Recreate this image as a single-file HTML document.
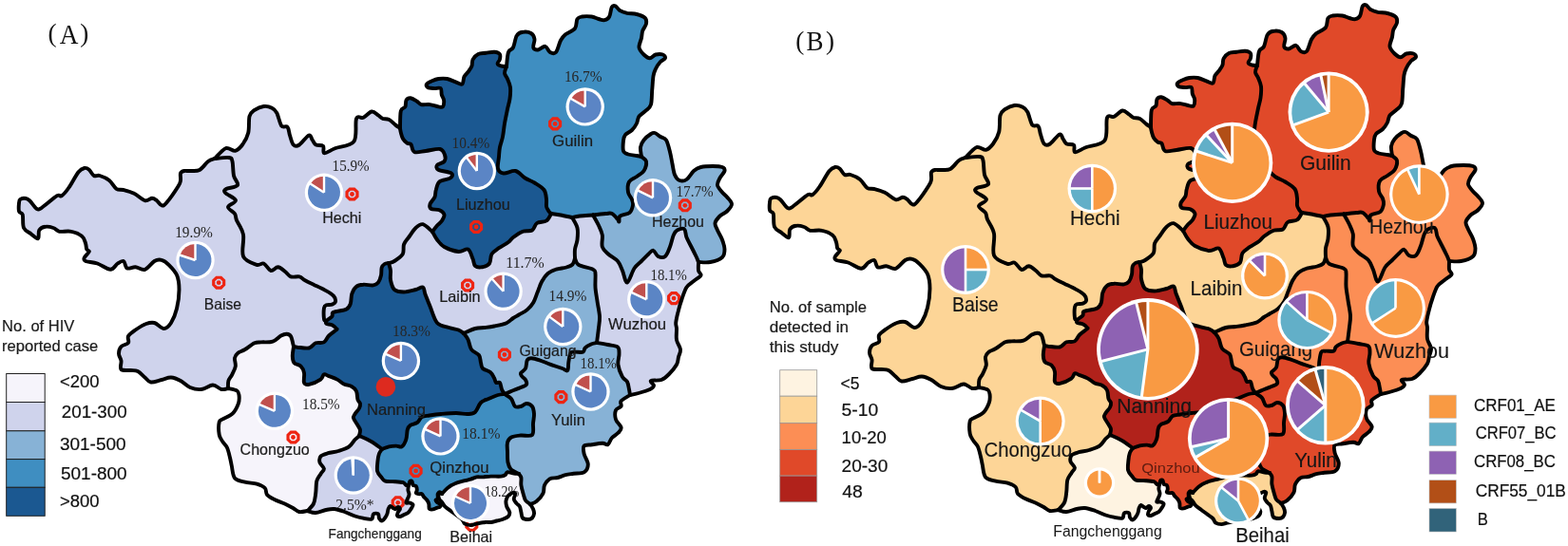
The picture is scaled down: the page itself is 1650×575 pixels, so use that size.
<!DOCTYPE html>
<html><head><meta charset="utf-8"><title>HIV maps</title>
<style>html,body{margin:0;padding:0;background:#fff;overflow:hidden;width:1650px;height:575px;}svg{display:block;}</style>
</head><body>
<svg width="1650" height="575" viewBox="0 0 1650 575">
<rect width="1650" height="575" fill="#fff"/>
<g stroke="none">
<path d="M240.0,409.0C238.8,409.2 235.7,410.6 233.0,410.0C230.3,409.4 227.5,405.5 224.0,405.5C220.5,405.5 216.0,409.6 212.0,410.0C208.0,410.4 203.7,409.5 200.0,408.0C196.3,406.5 193.3,402.8 190.0,401.0C186.7,399.2 183.3,397.7 180.0,397.5C176.7,397.3 173.5,399.2 170.0,400.0C166.5,400.8 161.7,402.9 158.8,402.5C155.8,402.1 154.8,399.4 152.5,397.5C150.2,395.6 147.5,392.2 145.0,391.0C142.5,389.8 140.4,390.3 137.5,390.0C134.6,389.7 129.2,390.7 127.5,389.0C125.8,387.3 127.9,382.8 127.5,380.0C127.1,377.2 125.0,375.0 125.0,372.5C125.0,370.0 125.8,366.9 127.5,365.0C129.2,363.1 133.8,362.8 135.0,361.0C136.2,359.2 133.8,356.2 135.0,354.0C136.2,351.8 139.4,349.7 142.5,347.5C145.6,345.3 150.4,342.2 153.8,341.0C157.1,339.8 159.4,339.2 162.5,340.0C165.6,340.8 169.6,346.0 172.5,346.0C175.4,346.0 177.8,343.5 180.0,340.0C182.2,336.5 184.6,330.8 186.0,325.0C187.4,319.2 188.5,310.8 188.5,305.0C188.5,299.2 188.1,294.4 186.2,290.0C184.4,285.6 180.2,281.5 177.5,278.8C174.8,276.0 172.5,274.4 170.0,273.8C167.5,273.1 165.4,273.3 162.5,275.0C159.6,276.7 155.8,282.7 152.5,283.8C149.2,284.8 145.6,281.5 142.5,281.2C139.4,281.0 135.8,283.5 133.8,282.5C131.7,281.5 131.7,275.8 130.0,275.0C128.3,274.2 126.0,276.0 123.8,277.5C121.5,279.0 119.8,283.8 116.2,283.8C112.7,283.8 106.9,279.0 102.5,277.5C98.1,276.0 92.3,276.0 90.0,275.0C87.7,274.0 88.1,272.9 88.8,271.2C89.4,269.6 93.3,266.5 93.8,265.0C94.2,263.5 91.9,264.0 91.2,262.5C90.6,261.0 90.8,258.5 90.0,256.2C89.2,254.0 88.8,250.8 86.2,248.8C83.8,246.7 79.0,244.6 75.0,243.8C71.0,242.9 65.6,244.4 62.5,243.8C59.4,243.1 58.8,240.8 56.2,240.0C53.8,239.2 50.0,238.3 47.5,238.8C45.0,239.2 42.5,240.4 41.2,242.5C40.0,244.6 41.5,250.6 40.0,251.2C38.5,251.9 35.0,248.1 32.5,246.2C30.0,244.4 26.5,243.3 25.0,240.0C23.5,236.7 24.6,229.2 23.8,226.2C22.9,223.3 20.6,224.6 20.0,222.5C19.4,220.4 19.8,215.8 20.0,213.8C20.2,211.7 20.2,210.8 21.2,210.0C22.3,209.2 24.6,208.5 26.2,208.8C27.9,209.0 29.2,209.4 31.2,211.2C33.3,213.1 36.7,218.8 38.8,220.0C40.8,221.2 40.2,221.0 43.8,218.8C47.3,216.5 56.5,208.3 60.0,206.2C63.5,204.2 62.9,207.7 65.0,206.2C67.1,204.8 69.6,201.7 72.5,197.5C75.4,193.3 79.8,184.7 82.5,181.2C85.2,177.8 86.9,177.4 88.8,177.0C90.6,176.6 92.1,177.4 93.8,178.8C95.4,180.1 96.9,184.0 98.8,185.0C100.6,186.0 102.3,184.2 105.0,185.0C107.7,185.8 112.1,187.7 115.0,190.0C117.9,192.3 120.0,197.1 122.5,198.8C125.0,200.4 126.9,199.2 130.0,200.0C133.1,200.8 137.5,201.9 141.2,203.8C145.0,205.6 149.4,210.4 152.5,211.2C155.6,212.1 157.9,208.8 160.0,208.8C162.1,208.8 163.3,210.0 165.0,211.2C166.7,212.5 168.3,215.8 170.0,216.2C171.7,216.7 172.1,217.1 175.0,213.8C177.9,210.4 185.0,200.2 187.5,196.2C190.0,192.3 189.6,192.3 190.0,190.0C190.4,187.7 189.4,184.2 190.0,182.5C190.6,180.8 192.1,180.4 193.8,180.0C195.4,179.6 197.3,180.2 200.0,180.0C202.7,179.8 206.8,180.7 210.0,179.0C213.2,177.3 216.3,172.0 219.0,170.0C221.7,168.0 224.8,167.5 226.0,167.0C228.5,166.8 237.9,165.5 241.0,166.0C244.1,166.5 243.7,166.8 244.5,170.0C245.3,173.2 245.1,180.8 246.0,185.0C246.9,189.2 251.3,192.7 250.0,195.0C248.7,197.3 240.2,197.7 238.0,199.0C235.8,200.3 235.3,201.0 237.0,203.0C238.7,205.0 247.5,208.5 248.0,211.0C248.5,213.5 240.2,215.7 240.0,218.0C239.8,220.3 245.5,222.7 247.0,225.0C248.5,227.3 247.5,228.3 249.0,232.0C250.5,235.7 254.8,240.7 256.0,247.0C257.2,253.3 253.7,264.7 256.0,270.0C258.3,275.3 266.4,277.5 270.0,278.8C273.6,280.0 275.0,276.5 277.5,277.5C280.0,278.5 282.5,284.4 285.0,285.0C287.5,285.6 290.0,281.1 292.5,281.2C295.0,281.4 297.8,284.3 300.0,286.0C302.2,287.7 303.5,290.5 306.0,291.4C308.5,292.3 312.5,290.8 315.0,291.4C317.5,292.0 318.5,293.8 321.0,295.2C323.5,296.6 326.5,298.0 330.0,299.7C333.5,301.4 338.5,303.6 342.0,305.6C345.5,307.6 349.2,309.6 351.0,311.6C352.8,313.6 353.3,316.1 353.0,317.6C352.7,319.1 351.0,320.0 349.4,320.6C347.8,321.2 344.8,320.7 343.4,321.3C342.0,321.9 341.4,321.9 341.0,324.3C340.6,326.8 340.7,333.7 341.0,336.0C341.3,338.3 342.7,337.7 343.0,338.0C343.1,338.5 342.3,340.1 343.4,340.8C344.5,341.5 347.6,341.4 349.4,342.3C351.1,343.2 353.1,345.1 353.9,346.0C354.6,346.9 355.2,346.1 353.9,347.4C352.6,348.6 348.3,351.3 346.1,353.5C343.9,355.7 343.2,359.1 340.9,360.4C338.6,361.7 334.8,360.3 332.2,361.3C329.6,362.3 328.4,365.8 325.2,366.5C322.0,367.2 315.7,365.9 313.0,365.7C310.3,365.4 309.7,365.1 309.0,365.0C308.5,363.2 307.3,356.5 306.1,354.3C304.9,352.1 303.4,351.8 301.7,351.7C300.0,351.6 298.1,352.2 295.7,353.5C293.2,354.8 290.5,358.5 287.0,359.6C283.5,360.8 278.0,360.1 274.8,360.4C271.6,360.7 270.7,360.0 267.8,361.3C264.9,362.6 260.3,366.6 257.4,368.3C254.5,370.0 252.1,370.2 250.4,371.7C248.7,373.1 247.4,374.7 247.0,377.0C246.6,379.3 248.2,382.8 247.8,385.7C247.4,388.6 245.5,391.8 244.3,394.3C243.1,396.9 241.1,398.6 240.4,401.0C239.7,403.4 240.1,407.7 240.0,409.0Z" fill="#cfd3ec"/>
<path d="M226.0,167.0C227.9,165.2 233.9,157.6 237.5,156.2C241.1,154.9 244.6,159.4 247.5,158.8C250.4,158.1 252.7,155.6 255.0,152.5C257.3,149.4 260.0,145.0 261.2,140.0C262.5,135.0 261.5,126.5 262.5,122.5C263.5,118.5 265.0,118.0 267.5,116.2C270.0,114.5 274.4,112.4 277.5,112.0C280.6,111.6 284.0,112.6 286.2,113.8C288.5,114.9 289.6,115.6 291.2,118.8C292.9,121.9 294.4,130.0 296.2,132.5C298.1,135.0 301.0,132.1 302.5,133.8C304.0,135.4 304.0,139.4 305.0,142.5C306.0,145.6 307.1,150.8 308.8,152.5C310.4,154.2 312.3,154.2 315.0,152.5C317.7,150.8 322.7,143.3 325.0,142.5C327.3,141.7 327.5,145.8 328.8,147.5C330.0,149.2 330.6,151.5 332.5,152.5C334.4,153.5 338.5,152.3 340.0,153.8C341.5,155.2 339.2,160.8 341.2,161.2C343.3,161.7 347.3,158.3 352.5,156.2C357.7,154.2 368.8,154.0 372.5,148.8C376.2,143.5 373.3,129.2 375.0,125.0C376.7,120.8 379.8,125.0 382.5,123.8C385.2,122.5 388.7,117.9 391.2,117.5C393.8,117.1 396.1,120.2 398.0,121.4C399.9,122.6 400.7,124.0 402.6,124.8C404.5,125.5 407.1,124.8 409.4,125.9C411.7,127.0 414.3,130.1 416.2,131.6C418.1,133.1 420.2,134.4 421.0,135.0C421.1,135.8 421.3,137.6 421.8,139.5C422.3,141.4 423.0,144.4 424.1,146.3C425.2,148.2 427.2,149.9 428.6,150.8C430.0,151.8 431.3,150.5 432.5,152.0C433.7,153.5 433.4,158.8 436.0,160.0C438.6,161.2 443.5,159.5 448.0,159.0C452.5,158.5 459.7,156.3 463.0,157.0C466.3,157.7 467.2,160.8 468.0,163.0C468.8,165.2 468.8,168.2 467.5,170.0C466.2,171.8 461.0,172.3 460.0,173.8C459.0,175.2 458.8,177.3 461.2,178.8C463.8,180.2 472.9,181.0 475.0,182.5C477.1,184.0 475.8,186.0 473.8,187.5C471.7,189.0 465.0,189.2 462.5,191.2C460.0,193.3 459.6,197.3 458.8,200.0C457.9,202.7 458.5,205.0 457.5,207.5C456.5,210.0 453.1,212.9 452.5,215.0C451.9,217.1 452.1,219.0 453.8,220.0C455.4,221.0 460.2,220.2 462.5,221.2C464.8,222.3 467.1,224.4 467.5,226.2C467.9,228.1 466.2,230.6 465.0,232.5C463.8,234.4 461.7,235.6 460.0,237.5C458.3,239.4 455.8,242.9 455.0,244.0C453.3,242.7 447.9,236.9 445.0,236.2C442.1,235.6 440.0,237.7 437.5,240.0C435.0,242.3 432.1,247.1 430.0,250.0C427.9,252.9 426.0,254.6 425.0,257.5C424.0,260.4 425.4,264.6 423.8,267.5C422.1,270.4 417.5,273.4 415.0,275.0C412.5,276.6 410.0,276.7 409.0,277.0C408.3,277.2 405.9,277.2 404.7,278.0C403.5,278.8 402.3,279.7 401.7,281.7C401.1,283.7 401.6,287.4 401.0,290.0C400.4,292.6 399.4,295.7 398.0,297.4C396.6,299.1 395.4,300.0 392.8,300.4C390.2,300.8 385.3,299.4 382.3,299.7C379.3,299.9 376.8,300.3 374.8,301.9C372.8,303.5 371.3,306.4 370.3,309.4C369.3,312.4 369.8,317.2 368.8,319.9C367.8,322.6 367.3,324.3 364.3,325.8C361.3,327.3 353.4,327.6 350.9,328.8C348.4,330.1 350.7,331.8 349.4,333.3C348.1,334.8 344.1,337.2 343.0,338.0C342.7,337.7 341.3,338.3 341.0,336.0C340.7,333.7 340.6,326.8 341.0,324.3C341.4,321.9 342.0,321.9 343.4,321.3C344.8,320.7 347.8,321.2 349.4,320.6C351.0,320.0 352.7,319.1 353.0,317.6C353.3,316.1 352.8,313.6 351.0,311.6C349.2,309.6 345.5,307.6 342.0,305.6C338.5,303.6 333.5,301.4 330.0,299.7C326.5,298.0 323.5,296.6 321.0,295.2C318.5,293.8 317.5,292.0 315.0,291.4C312.5,290.8 308.5,292.3 306.0,291.4C303.5,290.5 302.2,287.7 300.0,286.0C297.8,284.3 295.0,281.4 292.5,281.2C290.0,281.1 287.5,285.6 285.0,285.0C282.5,284.4 280.0,278.5 277.5,277.5C275.0,276.5 273.6,280.0 270.0,278.8C266.4,277.5 258.3,275.3 256.0,270.0C253.7,264.7 257.2,253.3 256.0,247.0C254.8,240.7 250.5,235.7 249.0,232.0C247.5,228.3 248.5,227.3 247.0,225.0C245.5,222.7 239.8,220.3 240.0,218.0C240.2,215.7 248.5,213.5 248.0,211.0C247.5,208.5 238.7,205.0 237.0,203.0C235.3,201.0 235.8,200.3 238.0,199.0C240.2,197.7 248.7,197.3 250.0,195.0C251.3,192.7 246.9,189.2 246.0,185.0C245.1,180.8 245.3,173.2 244.5,170.0C243.7,166.8 244.1,166.5 241.0,166.0C237.9,165.5 228.5,166.8 226.0,167.0Z" fill="#cfd3ec"/>
<path d="M421.0,135.0C421.1,132.0 420.9,120.7 421.8,116.9C422.7,113.1 425.4,114.3 426.4,112.4C427.3,110.5 426.6,107.1 427.5,105.6C428.4,104.1 430.1,103.1 432.0,103.3C433.9,103.5 436.9,105.6 438.8,106.7C440.7,107.8 441.0,109.5 443.3,110.1C445.6,110.7 449.4,109.7 452.4,110.1C455.4,110.5 459.1,112.0 461.4,112.4C463.6,112.8 464.9,113.5 465.9,112.4C466.8,111.3 467.3,107.7 467.1,105.6C466.9,103.5 465.4,102.0 464.8,99.9C464.2,97.8 465.0,94.2 463.7,93.1C462.4,92.0 459.2,93.3 456.9,93.1C454.6,92.9 451.4,92.8 450.1,92.0C448.8,91.2 448.2,89.7 449.0,88.6C449.8,87.5 452.5,86.1 454.6,85.2C456.7,84.3 458.8,83.4 461.4,83.0C464.0,82.6 467.5,82.4 470.5,83.0C473.5,83.6 476.9,85.5 479.5,86.4C482.1,87.3 484.8,89.5 486.3,88.6C487.8,87.6 487.4,83.0 488.5,80.7C489.6,78.5 491.8,77.0 493.1,75.1C494.4,73.2 495.8,71.5 496.5,69.4C497.2,67.3 496.5,64.7 497.6,62.6C498.7,60.5 500.9,58.1 503.2,57.0C505.5,55.9 508.4,56.2 511.2,55.8C514.0,55.4 517.8,54.5 520.2,54.7C522.7,54.9 525.0,55.7 525.9,57.0C526.8,58.3 526.3,60.9 525.9,62.6C525.5,64.3 523.4,66.0 523.6,67.1C523.8,68.2 525.4,68.9 527.0,69.4C528.6,69.9 532.0,69.9 533.0,70.0C532.7,71.2 530.8,74.8 531.0,77.0C531.2,79.2 533.0,80.5 534.0,83.0C535.0,85.5 536.6,88.5 537.0,92.0C537.4,95.5 537.0,100.2 536.5,104.0C536.0,107.8 534.9,110.7 534.0,115.0C533.1,119.3 531.8,125.2 531.0,130.0C530.2,134.8 529.8,139.8 529.0,144.0C528.2,148.2 526.7,151.5 526.0,155.0C525.3,158.5 525.3,161.2 525.0,165.0C524.7,168.8 523.2,174.6 524.0,177.5C524.8,180.4 526.9,182.1 530.0,182.5C533.1,182.9 538.8,179.2 542.5,180.0C546.2,180.8 549.2,185.4 552.5,187.5C555.8,189.6 559.2,190.4 562.5,192.5C565.8,194.6 570.4,197.1 572.5,200.0C574.6,202.9 574.6,207.1 575.0,210.0C575.4,212.9 574.6,215.4 575.0,217.5C575.4,219.6 576.7,221.2 577.5,222.5C578.3,223.8 579.6,224.6 580.0,225.0C579.2,226.2 577.5,230.8 575.0,232.5C572.5,234.2 567.5,233.3 565.0,235.0C562.5,236.7 562.5,241.0 560.0,242.5C557.5,244.0 553.3,242.5 550.0,243.8C546.7,245.0 542.5,248.1 540.0,250.0C537.5,251.9 537.5,253.1 535.0,255.0C532.5,256.9 527.9,259.2 525.0,261.2C522.1,263.3 519.2,264.8 517.5,267.5C515.8,270.2 516.7,275.2 515.0,277.5C513.3,279.8 510.0,280.8 507.5,281.2C505.0,281.7 501.7,281.5 500.0,280.0C498.3,278.5 498.8,275.4 497.5,272.5C496.2,269.6 495.0,263.8 492.5,262.5C490.0,261.2 486.7,265.4 482.5,265.0C478.3,264.6 471.2,262.1 467.5,260.0C463.8,257.9 462.1,255.2 460.0,252.5C457.9,249.8 455.8,245.4 455.0,244.0C455.8,242.9 458.3,239.4 460.0,237.5C461.7,235.6 463.8,234.4 465.0,232.5C466.2,230.6 467.9,228.1 467.5,226.2C467.1,224.4 464.8,222.3 462.5,221.2C460.2,220.2 455.4,221.0 453.8,220.0C452.1,219.0 451.9,217.1 452.5,215.0C453.1,212.9 456.5,210.0 457.5,207.5C458.5,205.0 457.9,202.7 458.8,200.0C459.6,197.3 460.0,193.3 462.5,191.2C465.0,189.2 471.7,189.0 473.8,187.5C475.8,186.0 477.1,184.0 475.0,182.5C472.9,181.0 463.8,180.2 461.2,178.8C458.8,177.3 459.0,175.2 460.0,173.8C461.0,172.3 466.2,171.8 467.5,170.0C468.8,168.2 468.8,165.2 468.0,163.0C467.2,160.8 466.3,157.7 463.0,157.0C459.7,156.3 452.5,158.5 448.0,159.0C443.5,159.5 438.6,161.2 436.0,160.0C433.4,158.8 433.7,153.5 432.5,152.0C431.3,150.5 430.0,151.8 428.6,150.8C427.2,149.9 425.2,148.2 424.1,146.3C423.0,144.4 422.3,141.4 421.8,139.5C421.3,137.6 421.1,135.8 421.0,135.0Z" fill="#1b5891"/>
<path d="M533.0,70.0C533.3,67.5 533.8,58.3 535.0,55.0C536.2,51.7 538.5,52.9 540.0,50.0C541.5,47.1 542.1,40.2 543.8,37.5C545.4,34.8 547.5,34.2 550.0,33.8C552.5,33.3 556.7,33.8 558.8,35.0C560.8,36.2 562.1,38.8 562.5,41.2C562.9,43.8 560.6,48.1 561.2,50.0C561.9,51.9 564.2,52.7 566.2,52.5C568.3,52.3 571.7,48.3 573.8,48.8C575.8,49.2 576.9,54.0 578.8,55.0C580.6,56.0 583.1,57.1 585.0,55.0C586.9,52.9 588.3,45.6 590.0,42.5C591.7,39.4 592.5,38.3 595.0,36.2C597.5,34.2 602.9,32.7 605.0,30.0C607.1,27.3 606.2,22.1 607.5,20.0C608.8,17.9 610.0,17.9 612.5,17.5C615.0,17.1 619.6,17.1 622.5,17.5C625.4,17.9 627.7,19.4 630.0,20.0C632.3,20.6 634.4,21.7 636.2,21.2C638.1,20.8 640.0,19.8 641.2,17.5C642.5,15.2 642.7,9.4 643.8,7.5C644.8,5.6 646.0,5.6 647.5,6.2C649.0,6.9 650.4,10.0 652.5,11.2C654.6,12.5 657.1,13.1 660.0,13.8C662.9,14.4 666.9,14.2 670.0,15.0C673.1,15.8 677.1,17.1 678.8,18.8C680.4,20.4 680.4,22.7 680.0,25.0C679.6,27.3 677.1,30.0 676.2,32.5C675.4,35.0 675.6,37.1 675.0,40.0C674.4,42.9 672.1,47.1 672.5,50.0C672.9,52.9 675.6,55.6 677.5,57.5C679.4,59.4 681.7,61.2 683.8,61.2C685.8,61.2 687.7,58.1 690.0,57.5C692.3,56.9 695.8,56.9 697.5,57.5C699.2,58.1 700.4,60.0 700.0,61.2C699.6,62.5 696.7,63.1 695.0,65.0C693.3,66.9 691.2,70.0 690.0,72.5C688.8,75.0 688.1,76.2 687.5,80.0C686.9,83.8 686.7,90.0 686.2,95.0C685.8,100.0 686.0,106.5 685.0,110.0C684.0,113.5 682.1,114.2 680.0,116.2C677.9,118.3 674.2,120.2 672.5,122.5C670.8,124.8 671.2,127.6 670.0,130.0C668.8,132.4 667.0,135.0 665.0,137.0C663.0,139.0 659.5,140.2 658.0,142.0C656.5,143.8 656.3,145.2 656.0,148.0C655.7,150.8 655.2,156.6 656.0,159.0C656.8,161.4 658.7,161.7 661.0,162.5C663.3,163.3 667.7,163.6 670.0,164.0C672.3,164.4 674.2,164.8 675.0,165.0C675.8,165.8 679.6,167.5 680.0,170.0C680.4,172.5 679.2,177.3 677.5,180.0C675.8,182.7 672.6,184.1 670.0,186.0C667.4,187.9 663.5,188.8 662.0,191.5C660.5,194.2 660.5,199.4 661.0,202.5C661.5,205.6 664.2,207.8 665.0,210.0C665.8,212.2 666.4,213.7 666.0,216.0C665.6,218.3 664.8,222.1 662.5,224.0C660.2,225.9 654.3,225.9 652.5,227.5C650.7,229.1 651.9,232.9 651.5,233.5C651.1,234.1 651.2,232.4 650.0,231.0C648.8,229.6 646.1,226.0 644.0,225.0C641.9,224.0 640.8,224.8 637.5,225.0C634.2,225.2 626.2,226.2 624.0,226.5C621.7,226.7 613.7,227.1 610.0,227.5C606.3,227.9 603.3,228.8 602.0,229.0C600.0,228.6 593.7,227.2 590.0,226.5C586.3,225.8 581.7,225.2 580.0,225.0C579.6,224.6 578.3,223.8 577.5,222.5C576.7,221.2 575.4,219.6 575.0,217.5C574.6,215.4 575.4,212.9 575.0,210.0C574.6,207.1 574.6,202.9 572.5,200.0C570.4,197.1 565.8,194.6 562.5,192.5C559.2,190.4 555.8,189.6 552.5,187.5C549.2,185.4 546.2,180.8 542.5,180.0C538.8,179.2 533.1,182.9 530.0,182.5C526.9,182.1 524.8,180.4 524.0,177.5C523.2,174.6 524.7,168.8 525.0,165.0C525.3,161.2 525.3,158.5 526.0,155.0C526.7,151.5 528.2,148.2 529.0,144.0C529.8,139.8 530.2,134.8 531.0,130.0C531.8,125.2 533.1,119.3 534.0,115.0C534.9,110.7 536.0,107.8 536.5,104.0C537.0,100.2 537.4,95.5 537.0,92.0C536.6,88.5 535.0,85.5 534.0,83.0C533.0,80.5 531.2,79.2 531.0,77.0C530.8,74.8 532.7,71.2 533.0,70.0Z" fill="#3f8ec1"/>
<path d="M675.0,165.0C674.8,163.3 673.6,157.9 674.0,155.0C674.4,152.1 675.7,149.8 677.5,147.5C679.3,145.2 683.1,142.2 685.0,141.0C686.9,139.8 687.3,139.5 689.0,140.0C690.7,140.5 693.0,142.8 695.0,144.0C697.0,145.2 699.3,144.8 701.0,147.5C702.7,150.2 703.9,155.8 705.0,160.0C706.1,164.2 706.7,168.5 707.5,172.5C708.3,176.5 708.8,181.1 710.0,184.0C711.2,186.9 712.9,189.2 715.0,190.0C717.1,190.8 720.0,190.7 722.5,189.0C725.0,187.3 727.5,182.2 730.0,180.0C732.5,177.8 734.2,176.8 737.5,176.0C740.8,175.2 746.2,175.0 750.0,175.0C753.8,175.0 757.9,175.2 760.0,176.0C762.1,176.8 762.9,178.1 762.5,180.0C762.1,181.9 758.8,185.0 757.5,187.5C756.2,190.0 754.6,192.5 755.0,195.0C755.4,197.5 758.3,200.4 760.0,202.5C761.7,204.6 763.3,205.4 765.0,207.5C766.7,209.6 770.0,212.5 770.0,215.0C770.0,217.5 767.1,220.4 765.0,222.5C762.9,224.6 759.6,225.4 757.5,227.5C755.4,229.6 752.9,232.5 752.5,235.0C752.1,237.5 753.8,239.6 755.0,242.5C756.2,245.4 758.8,249.2 760.0,252.5C761.2,255.8 762.5,259.4 762.5,262.5C762.5,265.6 762.5,268.8 760.0,271.0C757.5,273.2 751.7,275.2 747.5,276.0C743.3,276.8 737.1,276.0 735.0,276.0C734.6,275.0 733.8,272.7 732.5,270.0C731.2,267.3 729.2,263.3 727.5,260.0C725.8,256.7 723.8,253.1 722.5,250.0C721.2,246.9 721.7,242.5 720.0,241.2C718.3,240.0 714.4,241.5 712.5,242.5C710.6,243.5 710.0,244.6 708.8,247.5C707.5,250.4 706.5,256.2 705.0,260.0C703.5,263.8 702.1,268.3 700.0,270.0C697.9,271.7 694.6,271.0 692.5,270.0C690.4,269.0 689.2,264.2 687.5,263.8C685.8,263.3 684.6,265.6 682.5,267.5C680.4,269.4 677.5,272.5 675.0,275.0C672.5,277.5 670.0,278.8 667.5,282.5C665.0,286.2 662.1,297.1 660.0,297.5C657.9,297.9 656.7,288.8 655.0,285.0C653.3,281.2 652.5,277.9 650.0,275.0C647.5,272.1 642.7,270.0 640.0,267.5C637.3,265.0 634.8,263.3 633.8,260.0C632.7,256.7 634.4,251.2 633.8,247.5C633.1,243.8 631.6,241.0 630.0,237.5C628.4,234.0 625.0,228.3 624.0,226.5C626.2,226.2 634.2,225.2 637.5,225.0C640.8,224.8 641.9,224.0 644.0,225.0C646.1,226.0 648.8,229.6 650.0,231.0C651.2,232.4 651.1,234.1 651.5,233.5C651.9,232.9 650.7,229.1 652.5,227.5C654.3,225.9 660.2,225.9 662.5,224.0C664.8,222.1 665.6,218.3 666.0,216.0C666.4,213.7 665.8,212.2 665.0,210.0C664.2,207.8 661.5,205.6 661.0,202.5C660.5,199.4 660.5,194.2 662.0,191.5C663.5,188.8 667.4,187.9 670.0,186.0C672.6,184.1 675.8,182.7 677.5,180.0C679.2,177.3 680.4,172.5 680.0,170.0C679.6,167.5 675.8,165.8 675.0,165.0Z" fill="#87b2d6"/>
<path d="M735.0,276.0C735.0,277.5 734.6,282.7 735.0,285.0C735.4,287.3 738.3,288.2 737.5,290.0C736.7,291.8 732.5,293.9 730.0,296.0C727.5,298.1 724.6,299.3 722.5,302.5C720.4,305.7 719.0,310.8 717.5,315.0C716.0,319.2 714.8,323.3 713.8,327.5C712.7,331.7 711.5,336.9 711.2,340.0C711.0,343.1 711.9,343.0 712.0,346.0C712.1,349.0 711.3,354.3 712.0,358.0C712.7,361.7 715.7,365.0 716.0,368.0C716.3,371.0 714.7,373.3 714.0,376.0C713.3,378.7 713.7,381.0 712.0,384.0C710.3,387.0 706.7,391.3 704.0,394.0C701.3,396.7 699.2,398.8 696.0,400.0C692.8,401.2 686.3,400.0 685.0,401.0C683.7,402.0 688.2,404.5 688.0,406.0C687.8,407.5 686.7,408.7 684.0,410.0C681.3,411.3 675.5,413.0 672.0,414.0C668.5,415.0 664.5,415.7 663.0,416.0C662.8,415.0 662.5,412.3 662.0,410.0C661.5,407.7 661.2,404.2 660.0,402.0C658.8,399.8 656.4,399.8 654.8,396.7C653.2,393.6 650.9,387.7 650.4,383.7C649.9,379.7 651.6,375.8 651.5,372.8C651.4,369.8 652.0,367.1 650.0,365.5C648.0,363.9 643.3,363.8 639.6,363.0C635.9,362.2 629.9,361.3 628.0,361.0C628.3,358.6 629.3,351.2 629.8,346.7C630.3,342.1 631.2,338.4 631.0,333.7C630.8,329.0 629.5,323.6 628.7,318.5C628.0,313.4 626.9,308.1 626.5,303.0C626.1,297.9 626.9,291.2 626.5,288.0C626.1,284.8 626.9,285.2 624.0,283.7C621.1,282.2 612.2,280.9 609.0,279.0C605.8,277.1 605.7,273.2 605.0,272.0C605.0,270.4 604.6,265.8 605.0,262.5C605.4,259.2 607.1,256.2 607.5,252.5C607.9,248.8 608.4,243.9 607.5,240.0C606.6,236.1 602.9,230.8 602.0,229.0C603.3,228.8 606.3,227.9 610.0,227.5C613.7,227.1 621.7,226.7 624.0,226.5C625.0,228.3 628.4,234.0 630.0,237.5C631.6,241.0 633.1,243.8 633.8,247.5C634.4,251.2 632.7,256.7 633.8,260.0C634.8,263.3 637.3,265.0 640.0,267.5C642.7,270.0 647.5,272.1 650.0,275.0C652.5,277.9 653.3,281.2 655.0,285.0C656.7,288.8 657.9,297.9 660.0,297.5C662.1,297.1 665.0,286.2 667.5,282.5C670.0,278.8 672.5,277.5 675.0,275.0C677.5,272.5 680.4,269.4 682.5,267.5C684.6,265.6 685.8,263.3 687.5,263.8C689.2,264.2 690.4,269.0 692.5,270.0C694.6,271.0 697.9,271.7 700.0,270.0C702.1,268.3 703.5,263.8 705.0,260.0C706.5,256.2 707.5,250.4 708.8,247.5C710.0,244.6 710.6,243.5 712.5,242.5C714.4,241.5 718.3,240.0 720.0,241.2C721.7,242.5 721.2,246.9 722.5,250.0C723.8,253.1 725.8,256.7 727.5,260.0C729.2,263.3 731.2,267.3 732.5,270.0C733.8,272.7 734.6,275.0 735.0,276.0Z" fill="#cfd3ec"/>
<path d="M409.0,277.0C410.0,276.7 412.5,276.6 415.0,275.0C417.5,273.4 422.1,270.4 423.8,267.5C425.4,264.6 424.0,260.4 425.0,257.5C426.0,254.6 427.9,252.9 430.0,250.0C432.1,247.1 435.0,242.3 437.5,240.0C440.0,237.7 442.1,235.6 445.0,236.2C447.9,236.9 453.3,242.7 455.0,244.0C455.8,245.4 457.9,249.8 460.0,252.5C462.1,255.2 463.8,257.9 467.5,260.0C471.2,262.1 478.3,264.6 482.5,265.0C486.7,265.4 490.0,261.2 492.5,262.5C495.0,263.8 496.2,269.6 497.5,272.5C498.8,275.4 498.3,278.5 500.0,280.0C501.7,281.5 505.0,281.7 507.5,281.2C510.0,280.8 513.3,279.8 515.0,277.5C516.7,275.2 515.8,270.2 517.5,267.5C519.2,264.8 522.1,263.3 525.0,261.2C527.9,259.2 532.5,256.9 535.0,255.0C537.5,253.1 537.5,251.9 540.0,250.0C542.5,248.1 546.7,245.0 550.0,243.8C553.3,242.5 557.5,244.0 560.0,242.5C562.5,241.0 562.5,236.7 565.0,235.0C567.5,233.3 572.5,234.2 575.0,232.5C577.5,230.8 579.2,226.2 580.0,225.0C581.7,225.2 586.3,225.8 590.0,226.5C593.7,227.2 600.0,228.6 602.0,229.0C602.9,230.8 606.6,236.1 607.5,240.0C608.4,243.9 607.9,248.8 607.5,252.5C607.1,256.2 605.4,259.2 605.0,262.5C604.6,265.8 605.0,270.4 605.0,272.0C604.6,273.1 604.1,276.7 602.6,278.3C601.1,279.9 598.9,280.6 596.0,281.5C593.1,282.4 588.5,282.6 585.2,283.7C582.0,284.8 579.0,285.8 576.5,288.0C574.0,290.2 571.8,293.4 570.0,296.7C568.2,300.0 567.2,304.0 565.7,307.6C564.2,311.2 563.1,315.4 561.3,318.5C559.5,321.6 557.3,323.9 554.8,326.1C552.2,328.3 548.5,330.0 546.0,331.5C543.5,333.0 542.2,333.6 540.0,335.0C537.8,336.4 536.3,338.8 533.0,340.2C529.7,341.6 523.8,342.7 520.0,343.5C516.2,344.3 513.3,344.6 510.0,345.0C506.7,345.4 503.7,345.0 500.0,346.0C496.3,347.0 490.0,350.2 488.0,351.0C487.1,350.4 485.1,348.5 482.5,347.5C479.9,346.5 476.2,346.2 472.5,345.0C468.8,343.8 463.3,343.8 460.0,340.0C456.7,336.2 454.6,327.5 452.5,322.5C450.4,317.5 448.8,313.3 447.5,310.0C446.2,306.7 446.7,303.3 445.0,302.5C443.3,301.7 440.8,304.2 437.5,305.0C434.2,305.8 428.8,307.5 425.0,307.5C421.2,307.5 417.3,307.1 415.0,305.0C412.7,302.9 411.7,298.3 411.0,295.0C410.3,291.7 411.3,288.0 411.0,285.0C410.7,282.0 409.3,278.3 409.0,277.0Z" fill="#cfd3ec"/>
<path d="M488.0,351.0C490.0,350.2 496.3,347.0 500.0,346.0C503.7,345.0 506.7,345.4 510.0,345.0C513.3,344.6 516.2,344.3 520.0,343.5C523.8,342.7 529.7,341.6 533.0,340.2C536.3,338.8 537.8,336.4 540.0,335.0C542.2,333.6 543.5,333.0 546.0,331.5C548.5,330.0 552.2,328.3 554.8,326.1C557.3,323.9 559.5,321.6 561.3,318.5C563.1,315.4 564.2,311.2 565.7,307.6C567.2,304.0 568.2,300.0 570.0,296.7C571.8,293.4 574.0,290.2 576.5,288.0C579.0,285.8 582.0,284.8 585.2,283.7C588.5,282.6 593.1,282.4 596.0,281.5C598.9,280.6 601.1,279.9 602.6,278.3C604.1,276.7 604.6,273.1 605.0,272.0C605.7,273.2 605.8,277.1 609.0,279.0C612.2,280.9 621.1,282.2 624.0,283.7C626.9,285.2 626.1,284.8 626.5,288.0C626.9,291.2 626.1,297.9 626.5,303.0C626.9,308.1 628.0,313.4 628.7,318.5C629.5,323.6 630.8,329.0 631.0,333.7C631.2,338.4 630.3,342.1 629.8,346.7C629.3,351.2 628.3,358.6 628.0,361.0C627.0,361.2 624.0,361.6 622.0,362.5C620.0,363.4 617.1,364.9 615.7,366.3C614.3,367.7 615.3,370.0 613.5,370.7C611.7,371.4 607.0,370.5 604.8,370.7C602.6,370.9 601.5,369.9 600.4,371.7C599.3,373.5 598.8,378.4 598.3,381.5C597.8,384.6 598.3,389.1 597.2,390.2C596.1,391.3 594.8,389.1 591.7,388.0C588.6,386.9 582.7,385.1 578.7,383.7C574.7,382.2 571.1,380.4 567.8,379.3C564.5,378.2 561.3,377.2 559.1,377.2C556.9,377.2 555.8,377.5 554.8,379.3C553.8,381.1 554.1,385.7 553.0,388.0C551.9,390.3 548.7,391.7 548.0,393.0C547.3,394.3 548.2,394.8 549.0,396.0C549.8,397.2 552.2,398.5 553.0,400.0C553.8,401.5 554.8,403.7 554.0,405.0C553.2,406.3 550.7,406.8 548.0,408.0C545.3,409.2 540.8,410.8 538.0,412.0C535.2,413.2 532.2,414.5 531.0,415.0C530.5,414.2 528.8,412.0 528.0,410.0C527.2,408.0 527.0,404.2 526.0,403.0C525.0,401.8 523.0,403.8 522.0,403.0C521.0,402.2 521.0,399.8 520.0,398.0C519.0,396.2 518.0,393.7 516.0,392.0C514.0,390.3 509.7,389.7 508.0,388.0C506.3,386.3 506.7,384.3 506.0,382.0C505.3,379.7 505.7,376.3 504.0,374.0C502.3,371.7 497.9,370.8 496.0,368.0C494.1,365.2 493.8,360.3 492.5,357.5C491.2,354.7 488.8,352.1 488.0,351.0Z" fill="#87b2d6"/>
<path d="M628.0,361.0C629.9,361.3 635.9,362.2 639.6,363.0C643.3,363.8 648.0,363.9 650.0,365.5C652.0,367.1 651.4,369.8 651.5,372.8C651.6,375.8 649.9,379.7 650.4,383.7C650.9,387.7 653.2,393.6 654.8,396.7C656.4,399.8 658.8,399.8 660.0,402.0C661.2,404.2 661.5,407.7 662.0,410.0C662.5,412.3 662.8,415.0 663.0,416.0C661.4,417.1 655.2,420.3 653.6,422.3C652.0,424.3 654.5,426.2 653.6,427.8C652.7,429.4 648.9,429.7 648.0,432.0C647.1,434.3 647.1,438.7 648.0,441.7C648.9,444.7 653.1,447.8 653.6,450.1C654.1,452.4 652.4,453.8 650.8,455.6C649.2,457.5 645.7,459.1 643.8,461.2C641.9,463.3 641.2,467.3 639.6,468.2C638.0,469.1 636.9,466.8 634.1,466.8C631.3,466.8 626.2,467.7 623.0,468.2C619.8,468.7 616.0,468.0 614.6,469.6C613.2,471.2 613.9,474.7 614.6,477.9C615.3,481.1 618.8,485.8 618.8,489.0C618.8,492.2 617.1,495.8 614.6,497.4C612.1,499.0 606.8,498.3 603.5,498.8C600.2,499.3 597.9,499.5 595.1,500.2C592.3,500.9 589.6,502.3 586.8,503.0C584.0,503.7 580.7,502.9 578.4,504.3C576.1,505.7 574.0,508.8 572.9,511.3C571.8,513.9 572.9,516.8 571.5,519.6C570.1,522.4 566.8,526.1 564.5,528.0C562.2,529.9 559.1,530.5 558.0,531.0C557.2,530.3 554.2,528.8 553.0,527.0C551.8,525.2 551.4,522.7 550.6,520.0C549.8,517.3 548.8,513.8 548.4,511.0C548.0,508.2 548.8,505.0 548.4,503.0C548.0,501.0 546.4,499.7 546.0,499.0C544.6,498.2 539.4,496.0 537.5,494.0C535.6,492.0 535.1,490.0 534.5,487.0C533.9,484.0 534.1,479.5 534.0,476.0C533.9,472.5 533.3,468.6 534.0,466.0C534.7,463.4 535.7,461.8 538.0,460.5C540.3,459.2 544.3,458.9 548.0,458.5C551.7,458.1 557.8,460.1 560.0,458.0C562.2,455.9 560.7,449.7 561.0,446.0C561.3,442.3 562.2,439.0 562.0,436.0C561.8,433.0 561.3,429.8 560.0,428.0C558.7,426.2 556.0,425.0 554.0,425.0C552.0,425.0 550.0,427.5 548.0,428.0C546.0,428.5 543.7,429.3 542.0,428.0C540.3,426.7 539.8,422.2 538.0,420.0C536.2,417.8 532.2,415.8 531.0,415.0C532.2,414.5 535.2,413.2 538.0,412.0C540.8,410.8 545.3,409.2 548.0,408.0C550.7,406.8 553.2,406.3 554.0,405.0C554.8,403.7 553.8,401.5 553.0,400.0C552.2,398.5 549.8,397.2 549.0,396.0C548.2,394.8 547.3,394.3 548.0,393.0C548.7,391.7 551.9,390.3 553.0,388.0C554.1,385.7 553.8,381.1 554.8,379.3C555.8,377.5 556.9,377.2 559.1,377.2C561.3,377.2 564.5,378.2 567.8,379.3C571.1,380.4 574.7,382.2 578.7,383.7C582.7,385.1 588.6,386.9 591.7,388.0C594.8,389.1 596.1,391.3 597.2,390.2C598.3,389.1 597.8,384.6 598.3,381.5C598.8,378.4 599.3,373.5 600.4,371.7C601.5,369.9 602.6,370.9 604.8,370.7C607.0,370.5 611.7,371.4 613.5,370.7C615.3,370.0 614.3,367.7 615.7,366.3C617.1,364.9 620.0,363.4 622.0,362.5C624.0,361.6 627.0,361.2 628.0,361.0Z" fill="#87b2d6"/>
<path d="M343.0,338.0C344.1,337.2 348.1,334.8 349.4,333.3C350.7,331.8 348.4,330.1 350.9,328.8C353.4,327.6 361.3,327.3 364.3,325.8C367.3,324.3 367.8,322.6 368.8,319.9C369.8,317.2 369.3,312.4 370.3,309.4C371.3,306.4 372.8,303.5 374.8,301.9C376.8,300.3 379.3,299.9 382.3,299.7C385.3,299.4 390.2,300.8 392.8,300.4C395.4,300.0 396.6,299.1 398.0,297.4C399.4,295.7 400.4,292.6 401.0,290.0C401.6,287.4 401.1,283.7 401.7,281.7C402.3,279.7 403.5,278.8 404.7,278.0C405.9,277.2 408.3,277.2 409.0,277.0C409.3,278.3 410.7,282.0 411.0,285.0C411.3,288.0 410.3,291.7 411.0,295.0C411.7,298.3 412.7,302.9 415.0,305.0C417.3,307.1 421.2,307.5 425.0,307.5C428.8,307.5 434.2,305.8 437.5,305.0C440.8,304.2 443.3,301.7 445.0,302.5C446.7,303.3 446.2,306.7 447.5,310.0C448.8,313.3 450.4,317.5 452.5,322.5C454.6,327.5 456.7,336.2 460.0,340.0C463.3,343.8 468.8,343.8 472.5,345.0C476.2,346.2 479.9,346.5 482.5,347.5C485.1,348.5 487.1,350.4 488.0,351.0C488.8,352.1 491.2,354.7 492.5,357.5C493.8,360.3 494.1,365.2 496.0,368.0C497.9,370.8 502.3,371.7 504.0,374.0C505.7,376.3 505.3,379.7 506.0,382.0C506.7,384.3 506.3,386.3 508.0,388.0C509.7,389.7 514.0,390.3 516.0,392.0C518.0,393.7 519.0,396.2 520.0,398.0C521.0,399.8 521.0,402.2 522.0,403.0C523.0,403.8 525.0,401.8 526.0,403.0C527.0,404.2 527.2,408.0 528.0,410.0C528.8,412.0 530.5,414.2 531.0,415.0C529.8,415.2 526.8,415.2 524.0,416.0C521.2,416.8 517.0,418.7 514.0,420.0C511.0,421.3 508.3,421.7 506.0,424.0C503.7,426.3 502.3,432.0 500.0,434.0C497.7,436.0 495.3,435.8 492.0,436.0C488.7,436.2 484.7,435.0 480.0,435.0C475.3,435.0 468.7,435.6 464.0,436.0C459.3,436.4 455.3,437.0 452.0,437.5C448.7,438.0 446.1,437.8 444.0,439.0C441.9,440.2 441.3,443.4 439.3,444.9C437.3,446.4 433.6,446.6 431.8,447.9C430.1,449.1 429.6,449.9 428.8,452.4C428.1,454.9 428.3,459.8 427.3,462.8C426.3,465.8 424.5,469.2 422.8,470.3C421.1,471.4 419.1,469.6 416.9,469.6C414.7,469.6 411.9,469.7 409.4,470.3C406.9,470.9 403.2,472.6 402.0,473.0C400.7,472.1 396.9,469.0 394.4,467.3C391.9,465.6 389.7,464.4 387.0,463.0C384.3,461.6 379.5,459.7 378.0,459.0C378.2,458.0 379.2,454.8 379.0,453.0C378.8,451.2 377.7,450.1 376.5,448.0C375.3,445.9 372.5,442.4 372.0,440.4C371.5,438.4 372.5,437.7 373.5,436.0C374.5,434.3 377.1,431.8 378.0,430.0C378.9,428.2 379.2,426.5 379.0,425.0C378.8,423.5 377.2,423.2 376.5,421.0C375.8,418.8 376.1,414.3 375.0,412.0C373.9,409.7 372.2,408.2 370.0,407.0C367.8,405.8 364.5,405.7 362.0,404.5C359.5,403.3 357.4,401.0 354.8,399.6C352.2,398.2 348.4,397.0 346.1,396.1C343.8,395.2 342.3,393.7 340.9,394.3C339.4,394.9 340.0,397.9 337.4,399.6C334.8,401.4 328.1,404.2 325.2,404.8C322.3,405.4 320.9,405.0 320.0,403.0C319.1,401.0 320.6,395.5 320.0,392.6C319.4,389.7 318.2,387.4 316.5,385.7C314.8,384.0 311.1,383.9 309.6,382.2C308.2,380.4 307.9,378.1 307.8,375.2C307.7,372.3 308.8,366.7 309.0,365.0C309.7,365.1 310.3,365.4 313.0,365.7C315.7,365.9 322.0,367.2 325.2,366.5C328.4,365.8 329.6,362.3 332.2,361.3C334.8,360.3 338.6,361.7 340.9,360.4C343.2,359.1 343.9,355.7 346.1,353.5C348.3,351.3 352.6,348.6 353.9,347.4C355.2,346.1 354.6,346.9 353.9,346.0C353.1,345.1 351.1,343.2 349.4,342.3C347.6,341.4 344.5,341.5 343.4,340.8C342.3,340.1 343.1,338.5 343.0,338.0Z" fill="#1b5891"/>
<path d="M531.0,415.0C532.2,415.8 536.2,417.8 538.0,420.0C539.8,422.2 540.3,426.7 542.0,428.0C543.7,429.3 546.0,428.5 548.0,428.0C550.0,427.5 552.0,425.0 554.0,425.0C556.0,425.0 558.7,426.2 560.0,428.0C561.3,429.8 561.8,433.0 562.0,436.0C562.2,439.0 561.3,442.3 561.0,446.0C560.7,449.7 562.2,455.9 560.0,458.0C557.8,460.1 551.7,458.1 548.0,458.5C544.3,458.9 540.3,459.2 538.0,460.5C535.7,461.8 534.7,463.4 534.0,466.0C533.3,468.6 533.9,472.5 534.0,476.0C534.1,479.5 533.9,484.0 534.5,487.0C535.1,490.0 535.6,492.0 537.5,494.0C539.4,496.0 544.6,498.2 546.0,499.0C545.1,498.9 542.8,498.9 540.8,498.6C538.8,498.3 535.5,496.9 534.0,497.1C532.5,497.4 532.8,499.4 531.7,500.1C530.6,500.9 529.7,501.4 527.2,501.6C524.7,501.9 519.9,501.5 516.6,501.6C513.3,501.7 510.0,502.3 507.5,502.4C505.0,502.5 503.5,502.0 501.5,502.4C499.5,502.8 497.4,504.0 495.4,504.6C493.4,505.2 492.1,505.4 489.3,506.2C486.5,507.0 481.8,507.9 478.8,509.2C475.8,510.4 473.5,511.9 471.2,513.7C468.9,515.5 466.0,519.0 465.0,520.0C464.6,519.7 463.5,518.2 462.8,518.2C462.1,518.2 460.9,519.2 460.7,520.2C460.5,521.2 462.0,523.4 461.7,524.4C461.4,525.4 459.0,525.8 458.6,526.5C458.2,527.2 458.7,527.7 459.6,528.6C460.5,529.5 463.3,530.8 463.8,531.7C464.3,532.6 463.5,533.3 462.8,533.8C462.1,534.3 460.8,534.4 459.6,534.8C458.4,535.2 456.8,536.2 455.5,536.4C454.2,536.6 452.5,536.8 451.8,535.9C451.1,535.0 451.7,532.3 451.3,530.7C450.9,529.1 450.1,527.7 449.2,526.5C448.3,525.3 447.0,524.4 446.1,523.4C445.2,522.4 444.9,520.7 444.0,520.2C443.1,519.7 441.9,520.4 440.9,520.2C439.9,520.0 438.1,519.9 437.8,519.2C437.5,518.5 438.8,517.3 438.8,516.1C438.8,514.9 438.5,512.8 437.8,511.9C437.1,511.0 435.3,511.7 434.6,510.9C433.9,510.1 434.1,507.9 433.6,507.2C433.1,506.5 432.1,506.1 431.5,506.7C430.9,507.3 430.2,510.3 430.0,511.0C429.6,511.0 428.3,511.4 427.3,510.9C426.3,510.4 426.1,508.8 424.2,508.2C422.3,507.6 419.0,507.4 415.9,507.2C412.8,506.9 407.8,507.5 405.4,506.7C403.0,505.9 402.7,504.2 401.3,502.5C399.9,500.8 397.8,499.1 397.1,496.3C396.5,493.6 397.1,489.1 397.4,486.0C397.7,482.9 398.1,480.0 398.9,477.8C399.7,475.6 401.5,473.8 402.0,473.0C403.2,472.6 406.9,470.9 409.4,470.3C411.9,469.7 414.7,469.6 416.9,469.6C419.1,469.6 421.1,471.4 422.8,470.3C424.5,469.2 426.3,465.8 427.3,462.8C428.3,459.8 428.1,454.9 428.8,452.4C429.6,449.9 430.1,449.1 431.8,447.9C433.6,446.6 437.3,446.4 439.3,444.9C441.3,443.4 441.9,440.2 444.0,439.0C446.1,437.8 448.7,438.0 452.0,437.5C455.3,437.0 459.3,436.4 464.0,436.0C468.7,435.6 475.3,435.0 480.0,435.0C484.7,435.0 488.7,436.2 492.0,436.0C495.3,435.8 497.7,436.0 500.0,434.0C502.3,432.0 503.7,426.3 506.0,424.0C508.3,421.7 511.0,421.3 514.0,420.0C517.0,418.7 521.2,416.8 524.0,416.0C526.8,415.2 529.8,415.2 531.0,415.0Z" fill="#3f8ec1"/>
<path d="M546.0,499.0C546.4,499.7 548.0,501.0 548.4,503.0C548.8,505.0 548.0,508.2 548.4,511.0C548.8,513.8 549.8,517.3 550.6,520.0C551.4,522.7 551.8,525.2 553.0,527.0C554.2,528.8 557.2,530.3 558.0,531.0C558.5,531.8 560.3,534.3 561.0,536.0C561.7,537.7 562.2,539.4 562.0,541.0C561.8,542.6 561.0,544.5 560.0,545.5C559.0,546.5 557.7,547.0 556.0,547.0C554.3,547.0 551.3,546.8 550.0,545.5C548.7,544.2 548.9,541.5 548.4,539.5C547.9,537.5 547.7,534.9 546.9,533.4C546.1,531.9 544.8,531.7 543.8,530.4C542.8,529.1 541.0,527.6 540.8,525.8C540.5,524.0 542.5,520.9 542.3,519.8C542.0,518.7 540.6,518.6 539.3,519.0C538.0,519.4 535.8,520.7 534.7,522.1C533.6,523.5 532.8,525.4 532.5,527.3C532.2,529.2 532.6,531.4 533.2,533.4C533.8,535.4 536.0,537.7 536.3,539.5C536.5,541.3 536.0,542.8 534.7,544.0C533.4,545.2 530.7,546.2 528.7,547.0C526.7,547.8 524.6,548.0 522.6,548.5C520.6,549.0 518.6,549.8 516.6,550.0C514.6,550.2 513.0,549.7 510.5,550.0C508.0,550.3 504.0,551.1 501.5,551.6C499.0,552.1 497.4,553.1 495.4,553.1C493.4,553.1 490.8,552.6 489.3,551.6C487.8,550.6 487.8,548.5 486.3,547.0C484.8,545.5 482.3,544.0 480.3,542.5C478.3,541.0 476.2,539.5 474.2,538.0C472.2,536.5 469.7,534.9 468.2,533.4C466.7,531.9 466.1,530.2 465.1,528.9C464.1,527.6 462.9,526.8 462.1,525.8C461.4,524.8 460.6,523.9 460.6,522.8C460.6,521.7 461.3,519.5 462.0,519.0C462.7,518.5 464.5,519.8 465.0,520.0C466.0,519.0 468.9,515.5 471.2,513.7C473.5,511.9 475.8,510.4 478.8,509.2C481.8,507.9 486.5,507.0 489.3,506.2C492.1,505.4 493.4,505.2 495.4,504.6C497.4,504.0 499.5,502.8 501.5,502.4C503.5,502.0 505.0,502.5 507.5,502.4C510.0,502.3 513.3,501.7 516.6,501.6C519.9,501.5 524.7,501.9 527.2,501.6C529.7,501.4 530.6,500.9 531.7,500.1C532.8,499.4 532.5,497.4 534.0,497.1C535.5,496.9 538.8,498.3 540.8,498.6C542.8,498.9 545.1,498.9 546.0,499.0Z" fill="#f6f4fb"/>
<path d="M378.0,459.0C379.5,459.7 384.3,461.6 387.0,463.0C389.7,464.4 391.9,465.6 394.4,467.3C396.9,469.0 400.7,472.1 402.0,473.0C401.5,473.8 399.7,475.6 398.9,477.8C398.1,480.0 397.7,482.9 397.4,486.0C397.1,489.1 396.5,493.6 397.1,496.3C397.8,499.1 399.9,500.8 401.3,502.5C402.7,504.2 403.0,505.9 405.4,506.7C407.8,507.5 412.8,506.9 415.9,507.2C419.0,507.4 422.3,507.6 424.2,508.2C426.1,508.8 426.3,510.4 427.3,510.9C428.3,511.4 429.6,511.0 430.0,511.0C429.9,511.8 429.3,514.3 429.4,516.0C429.5,517.7 430.7,519.2 430.5,521.0C430.3,522.8 428.9,525.1 428.4,526.5C427.9,527.9 426.8,529.1 427.3,529.6C427.8,530.1 430.3,529.2 431.5,529.6C432.7,530.0 434.4,530.7 434.6,531.7C434.8,532.8 433.4,534.5 432.5,535.9C431.6,537.3 430.6,539.0 429.4,540.0C428.2,541.0 426.6,541.3 425.2,542.0C423.8,542.7 422.2,543.8 421.0,544.0C419.8,544.2 418.3,543.8 418.0,543.0C417.7,542.2 418.5,540.2 419.0,539.0C419.5,537.8 421.0,536.8 421.0,536.0C421.0,535.2 419.8,534.0 419.0,534.0C418.2,534.0 416.9,535.8 416.0,536.0C415.1,536.2 414.7,535.5 413.8,535.0C412.9,534.5 411.5,532.8 410.6,533.0C409.7,533.2 409.1,534.7 408.6,536.0C408.1,537.3 408.0,539.5 407.5,541.0C407.0,542.5 406.3,543.8 405.4,545.0C404.5,546.2 403.4,548.2 402.3,548.4C401.2,548.6 399.7,547.2 399.0,546.0C398.3,544.8 399.0,542.1 398.0,541.3C397.0,540.5 394.2,540.4 393.0,541.3C391.8,542.2 392.8,546.0 391.0,546.7C389.2,547.4 384.9,546.2 382.0,545.7C379.1,545.2 376.7,544.6 373.5,543.5C370.3,542.4 366.2,540.2 362.6,539.0C359.0,537.8 355.0,536.3 351.7,536.0C348.4,535.7 346.3,536.3 343.0,537.0C339.7,537.7 335.2,539.8 332.0,540.0C328.8,540.2 324.9,538.3 323.5,538.0C324.6,536.7 328.6,533.5 330.0,530.4C331.4,527.3 331.6,523.6 332.2,519.6C332.8,515.6 332.4,509.9 333.3,506.5C334.2,503.1 336.3,501.1 337.6,498.9C338.9,496.7 341.1,495.5 340.9,493.5C340.7,491.5 337.1,489.2 336.5,487.0C335.9,484.8 336.2,482.0 337.6,480.4C339.1,478.8 342.1,478.1 345.2,477.2C348.3,476.3 352.5,476.1 356.1,475.0C359.7,473.9 364.1,472.7 367.0,470.7C369.9,468.7 371.7,464.9 373.5,463.0C375.3,461.1 377.2,459.7 378.0,459.0Z" fill="#cfd3ec"/>
<path d="M240.0,409.0C240.1,407.7 239.7,403.4 240.4,401.0C241.1,398.6 243.1,396.9 244.3,394.3C245.5,391.8 247.4,388.6 247.8,385.7C248.2,382.8 246.6,379.3 247.0,377.0C247.4,374.7 248.7,373.1 250.4,371.7C252.1,370.2 254.5,370.0 257.4,368.3C260.3,366.6 264.9,362.6 267.8,361.3C270.7,360.0 271.6,360.7 274.8,360.4C278.0,360.1 283.5,360.8 287.0,359.6C290.5,358.5 293.2,354.8 295.7,353.5C298.1,352.2 300.0,351.6 301.7,351.7C303.4,351.8 304.9,352.1 306.1,354.3C307.3,356.5 308.5,363.2 309.0,365.0C308.8,366.7 307.7,372.3 307.8,375.2C307.9,378.1 308.2,380.4 309.6,382.2C311.1,383.9 314.8,384.0 316.5,385.7C318.2,387.4 319.4,389.7 320.0,392.6C320.6,395.5 319.1,401.0 320.0,403.0C320.9,405.0 322.3,405.4 325.2,404.8C328.1,404.2 334.8,401.4 337.4,399.6C340.0,397.9 339.4,394.9 340.9,394.3C342.3,393.7 343.8,395.2 346.1,396.1C348.4,397.0 352.2,398.2 354.8,399.6C357.4,401.0 359.5,403.3 362.0,404.5C364.5,405.7 367.8,405.8 370.0,407.0C372.2,408.2 373.9,409.7 375.0,412.0C376.1,414.3 375.8,418.8 376.5,421.0C377.2,423.2 378.8,423.5 379.0,425.0C379.2,426.5 378.9,428.2 378.0,430.0C377.1,431.8 374.5,434.3 373.5,436.0C372.5,437.7 371.5,438.4 372.0,440.4C372.5,442.4 375.3,445.9 376.5,448.0C377.7,450.1 378.8,451.2 379.0,453.0C379.2,454.8 378.2,458.0 378.0,459.0C377.2,459.7 375.3,461.1 373.5,463.0C371.7,464.9 369.9,468.7 367.0,470.7C364.1,472.7 359.7,473.9 356.1,475.0C352.5,476.1 348.3,476.3 345.2,477.2C342.1,478.1 339.1,478.8 337.6,480.4C336.2,482.0 335.9,484.8 336.5,487.0C337.1,489.2 340.7,491.5 340.9,493.5C341.1,495.5 338.9,496.7 337.6,498.9C336.3,501.1 334.2,503.1 333.3,506.5C332.4,509.9 332.8,515.6 332.2,519.6C331.6,523.6 331.4,527.3 330.0,530.4C328.6,533.5 324.6,536.7 323.5,538.0C322.1,538.2 317.3,539.5 314.8,539.0C312.3,538.5 310.8,536.4 308.3,535.0C305.8,533.6 302.9,532.0 299.6,530.5C296.3,529.0 291.8,527.6 288.7,526.0C285.6,524.4 282.6,523.0 281.0,521.0C279.4,519.0 280.6,515.9 278.8,514.0C277.0,512.1 273.8,510.8 270.3,509.7C266.8,508.6 261.5,508.7 257.6,507.6C253.7,506.6 249.3,506.2 247.0,503.4C244.7,500.6 244.6,494.2 243.8,490.6C243.0,487.0 242.8,485.2 242.0,482.0C241.2,478.8 240.3,474.3 239.0,471.5C237.7,468.7 235.8,467.6 234.4,465.3C233.0,463.0 231.3,461.3 230.7,457.8C230.1,454.3 230.1,447.1 230.7,444.4C231.3,441.7 232.0,442.9 234.4,441.4C236.8,439.9 242.2,438.1 244.9,435.4C247.7,432.6 249.8,428.0 250.9,424.9C252.0,421.8 251.8,418.9 251.6,416.7C251.3,414.5 251.3,412.8 249.4,411.5C247.5,410.2 241.6,409.4 240.0,409.0Z" fill="#f6f4fb"/>
</g>
<g stroke="none">
<path d="M1030.0,408.0C1028.8,408.2 1025.7,409.6 1023.0,409.0C1020.3,408.4 1017.5,404.5 1014.0,404.5C1010.5,404.5 1006.0,408.6 1002.0,409.0C998.0,409.4 993.7,408.5 990.0,407.0C986.3,405.5 983.3,401.8 980.0,400.0C976.7,398.2 973.3,396.7 970.0,396.5C966.7,396.3 963.5,398.2 960.0,399.0C956.5,399.8 951.7,401.9 948.8,401.5C945.8,401.1 944.8,398.4 942.5,396.5C940.2,394.6 937.5,391.2 935.0,390.0C932.5,388.8 930.4,389.3 927.5,389.0C924.6,388.7 919.2,389.7 917.5,388.0C915.8,386.3 917.9,381.8 917.5,379.0C917.1,376.2 915.0,374.0 915.0,371.5C915.0,369.0 915.8,365.9 917.5,364.0C919.2,362.1 923.8,361.8 925.0,360.0C926.2,358.2 923.8,355.2 925.0,353.0C926.2,350.8 929.4,348.7 932.5,346.5C935.6,344.3 940.4,341.2 943.8,340.0C947.1,338.8 949.4,338.2 952.5,339.0C955.6,339.8 959.6,345.0 962.5,345.0C965.4,345.0 967.8,342.5 970.0,339.0C972.2,335.5 974.6,329.8 976.0,324.0C977.4,318.2 978.5,309.8 978.5,304.0C978.5,298.2 978.1,293.4 976.2,289.0C974.4,284.6 970.2,280.5 967.5,277.8C964.8,275.0 962.5,273.4 960.0,272.8C957.5,272.1 955.4,272.3 952.5,274.0C949.6,275.7 945.8,281.7 942.5,282.8C939.2,283.8 935.6,280.5 932.5,280.2C929.4,280.0 925.8,282.5 923.8,281.5C921.7,280.5 921.7,274.8 920.0,274.0C918.3,273.2 916.0,275.0 913.8,276.5C911.5,278.0 909.8,282.8 906.2,282.8C902.7,282.8 896.9,278.0 892.5,276.5C888.1,275.0 882.3,275.0 880.0,274.0C877.7,273.0 878.1,271.9 878.8,270.2C879.4,268.6 883.3,265.5 883.8,264.0C884.2,262.5 881.9,263.0 881.2,261.5C880.6,260.0 880.8,257.5 880.0,255.2C879.2,253.0 878.8,249.8 876.2,247.8C873.8,245.7 869.0,243.6 865.0,242.8C861.0,241.9 855.6,243.4 852.5,242.8C849.4,242.1 848.8,239.8 846.2,239.0C843.8,238.2 840.0,237.3 837.5,237.8C835.0,238.2 832.5,239.4 831.2,241.5C830.0,243.6 831.5,249.6 830.0,250.2C828.5,250.9 825.0,247.1 822.5,245.2C820.0,243.4 816.5,242.3 815.0,239.0C813.5,235.7 814.6,228.2 813.8,225.2C812.9,222.3 810.6,223.6 810.0,221.5C809.4,219.4 809.8,214.8 810.0,212.8C810.2,210.7 810.2,209.8 811.2,209.0C812.3,208.2 814.6,207.5 816.2,207.8C817.9,208.0 819.2,208.4 821.2,210.2C823.3,212.1 826.7,217.8 828.8,219.0C830.8,220.2 830.2,220.0 833.8,217.8C837.3,215.5 846.5,207.3 850.0,205.2C853.5,203.2 852.9,206.7 855.0,205.2C857.1,203.8 859.6,200.7 862.5,196.5C865.4,192.3 869.8,183.7 872.5,180.2C875.2,176.8 876.9,176.4 878.8,176.0C880.6,175.6 882.1,176.4 883.8,177.8C885.4,179.1 886.9,183.0 888.8,184.0C890.6,185.0 892.3,183.2 895.0,184.0C897.7,184.8 902.1,186.7 905.0,189.0C907.9,191.3 910.0,196.1 912.5,197.8C915.0,199.4 916.9,198.2 920.0,199.0C923.1,199.8 927.5,200.9 931.2,202.8C935.0,204.6 939.4,209.4 942.5,210.2C945.6,211.1 947.9,207.8 950.0,207.8C952.1,207.8 953.3,209.0 955.0,210.2C956.7,211.5 958.3,214.8 960.0,215.2C961.7,215.7 962.1,216.1 965.0,212.8C967.9,209.4 975.0,199.2 977.5,195.2C980.0,191.3 979.6,191.3 980.0,189.0C980.4,186.7 979.4,183.2 980.0,181.5C980.6,179.8 982.1,179.4 983.8,179.0C985.4,178.6 987.3,179.2 990.0,179.0C992.7,178.8 996.8,179.7 1000.0,178.0C1003.2,176.3 1006.3,171.0 1009.0,169.0C1011.7,167.0 1014.8,166.5 1016.0,166.0C1018.5,165.8 1027.9,164.5 1031.0,165.0C1034.1,165.5 1033.7,165.8 1034.5,169.0C1035.3,172.2 1035.1,179.8 1036.0,184.0C1036.9,188.2 1041.3,191.7 1040.0,194.0C1038.7,196.3 1030.2,196.7 1028.0,198.0C1025.8,199.3 1025.3,200.0 1027.0,202.0C1028.7,204.0 1037.5,207.5 1038.0,210.0C1038.5,212.5 1030.2,214.7 1030.0,217.0C1029.8,219.3 1035.5,221.7 1037.0,224.0C1038.5,226.3 1037.5,227.3 1039.0,231.0C1040.5,234.7 1044.8,239.7 1046.0,246.0C1047.2,252.3 1043.7,263.7 1046.0,269.0C1048.3,274.3 1056.4,276.5 1060.0,277.8C1063.6,279.0 1065.0,275.5 1067.5,276.5C1070.0,277.5 1072.5,283.4 1075.0,284.0C1077.5,284.6 1080.0,280.1 1082.5,280.2C1085.0,280.4 1087.8,283.3 1090.0,285.0C1092.2,286.7 1093.5,289.5 1096.0,290.4C1098.5,291.3 1102.5,289.8 1105.0,290.4C1107.5,291.0 1108.5,292.8 1111.0,294.2C1113.5,295.6 1116.5,297.0 1120.0,298.7C1123.5,300.4 1128.5,302.6 1132.0,304.6C1135.5,306.6 1139.2,308.6 1141.0,310.6C1142.8,312.6 1143.3,315.1 1143.0,316.6C1142.7,318.1 1141.0,319.0 1139.4,319.6C1137.8,320.2 1134.8,319.7 1133.4,320.3C1132.0,320.9 1131.4,320.9 1131.0,323.3C1130.6,325.8 1130.7,332.7 1131.0,335.0C1131.3,337.3 1132.7,336.7 1133.0,337.0C1133.1,337.5 1132.3,339.1 1133.4,339.8C1134.5,340.5 1137.7,340.4 1139.4,341.3C1141.2,342.2 1143.2,344.1 1143.9,345.0C1144.7,345.9 1145.2,345.1 1143.9,346.4C1142.6,347.6 1138.3,350.3 1136.1,352.5C1133.9,354.7 1133.2,358.1 1130.9,359.4C1128.6,360.7 1124.8,359.3 1122.2,360.3C1119.6,361.3 1118.4,364.8 1115.2,365.5C1112.0,366.2 1105.7,364.9 1103.0,364.7C1100.3,364.4 1099.7,364.1 1099.0,364.0C1098.5,362.2 1097.3,355.5 1096.1,353.3C1094.9,351.1 1093.4,350.8 1091.7,350.7C1090.0,350.6 1088.2,351.2 1085.7,352.5C1083.2,353.8 1080.5,357.5 1077.0,358.6C1073.5,359.8 1068.0,359.1 1064.8,359.4C1061.6,359.7 1060.7,359.0 1057.8,360.3C1054.9,361.6 1050.3,365.6 1047.4,367.3C1044.5,369.0 1042.1,369.2 1040.4,370.7C1038.7,372.1 1037.4,373.7 1037.0,376.0C1036.6,378.3 1038.2,381.8 1037.8,384.7C1037.3,387.6 1035.5,390.8 1034.3,393.3C1033.1,395.9 1031.1,397.6 1030.4,400.0C1029.7,402.4 1030.1,406.7 1030.0,408.0Z" fill="#fdd597"/>
<path d="M1016.0,166.0C1017.9,164.2 1023.9,156.6 1027.5,155.2C1031.1,153.9 1034.6,158.4 1037.5,157.8C1040.4,157.1 1042.7,154.6 1045.0,151.5C1047.3,148.4 1050.0,144.0 1051.2,139.0C1052.5,134.0 1051.5,125.5 1052.5,121.5C1053.5,117.5 1055.0,117.0 1057.5,115.2C1060.0,113.5 1064.4,111.4 1067.5,111.0C1070.6,110.6 1074.0,111.6 1076.2,112.8C1078.5,113.9 1079.6,114.6 1081.2,117.8C1082.9,120.9 1084.4,129.0 1086.2,131.5C1088.1,134.0 1091.0,131.1 1092.5,132.8C1094.0,134.4 1094.0,138.4 1095.0,141.5C1096.0,144.6 1097.1,149.8 1098.8,151.5C1100.4,153.2 1102.3,153.2 1105.0,151.5C1107.7,149.8 1112.7,142.3 1115.0,141.5C1117.3,140.7 1117.5,144.8 1118.8,146.5C1120.0,148.2 1120.6,150.5 1122.5,151.5C1124.4,152.5 1128.5,151.3 1130.0,152.8C1131.5,154.2 1129.2,159.8 1131.2,160.2C1133.3,160.7 1137.3,157.3 1142.5,155.2C1147.7,153.2 1158.8,153.0 1162.5,147.8C1166.2,142.5 1163.3,128.2 1165.0,124.0C1166.7,119.8 1169.8,124.0 1172.5,122.8C1175.2,121.5 1178.7,116.9 1181.2,116.5C1183.8,116.1 1186.1,119.2 1188.0,120.4C1189.9,121.6 1190.7,123.0 1192.6,123.8C1194.5,124.5 1197.1,123.8 1199.4,124.9C1201.7,126.0 1204.3,129.1 1206.2,130.6C1208.1,132.1 1210.2,133.4 1211.0,134.0C1211.1,134.8 1211.3,136.6 1211.8,138.5C1212.3,140.4 1213.0,143.4 1214.1,145.3C1215.2,147.2 1217.2,148.9 1218.6,149.8C1220.0,150.8 1221.3,149.5 1222.5,151.0C1223.7,152.5 1223.4,157.8 1226.0,159.0C1228.6,160.2 1233.5,158.5 1238.0,158.0C1242.5,157.5 1249.7,155.3 1253.0,156.0C1256.3,156.7 1257.2,159.8 1258.0,162.0C1258.8,164.2 1258.8,167.2 1257.5,169.0C1256.2,170.8 1251.0,171.3 1250.0,172.8C1249.0,174.2 1248.8,176.3 1251.2,177.8C1253.8,179.2 1262.9,180.0 1265.0,181.5C1267.1,183.0 1265.8,185.0 1263.8,186.5C1261.7,188.0 1255.0,188.2 1252.5,190.2C1250.0,192.3 1249.6,196.3 1248.8,199.0C1247.9,201.7 1248.5,204.0 1247.5,206.5C1246.5,209.0 1243.1,211.9 1242.5,214.0C1241.9,216.1 1242.1,218.0 1243.8,219.0C1245.4,220.0 1250.2,219.2 1252.5,220.2C1254.8,221.3 1257.1,223.4 1257.5,225.2C1257.9,227.1 1256.2,229.6 1255.0,231.5C1253.8,233.4 1251.7,234.6 1250.0,236.5C1248.3,238.4 1245.8,241.9 1245.0,243.0C1243.3,241.7 1237.9,235.9 1235.0,235.2C1232.1,234.6 1230.0,236.7 1227.5,239.0C1225.0,241.3 1222.1,246.1 1220.0,249.0C1217.9,251.9 1216.0,253.6 1215.0,256.5C1214.0,259.4 1215.4,263.6 1213.8,266.5C1212.1,269.4 1207.5,272.4 1205.0,274.0C1202.5,275.6 1200.0,275.7 1199.0,276.0C1198.3,276.2 1195.9,276.2 1194.7,277.0C1193.5,277.8 1192.3,278.7 1191.7,280.7C1191.1,282.7 1191.6,286.4 1191.0,289.0C1190.4,291.6 1189.4,294.7 1188.0,296.4C1186.6,298.1 1185.4,299.0 1182.8,299.4C1180.2,299.8 1175.3,298.4 1172.3,298.7C1169.3,298.9 1166.8,299.3 1164.8,300.9C1162.8,302.5 1161.3,305.4 1160.3,308.4C1159.3,311.4 1159.8,316.2 1158.8,318.9C1157.8,321.6 1157.3,323.3 1154.3,324.8C1151.3,326.3 1143.4,326.6 1140.9,327.8C1138.4,329.1 1140.7,330.8 1139.4,332.3C1138.1,333.8 1134.1,336.2 1133.0,337.0C1132.7,336.7 1131.3,337.3 1131.0,335.0C1130.7,332.7 1130.6,325.8 1131.0,323.3C1131.4,320.9 1132.0,320.9 1133.4,320.3C1134.8,319.7 1137.8,320.2 1139.4,319.6C1141.0,319.0 1142.7,318.1 1143.0,316.6C1143.3,315.1 1142.8,312.6 1141.0,310.6C1139.2,308.6 1135.5,306.6 1132.0,304.6C1128.5,302.6 1123.5,300.4 1120.0,298.7C1116.5,297.0 1113.5,295.6 1111.0,294.2C1108.5,292.8 1107.5,291.0 1105.0,290.4C1102.5,289.8 1098.5,291.3 1096.0,290.4C1093.5,289.5 1092.2,286.7 1090.0,285.0C1087.8,283.3 1085.0,280.4 1082.5,280.2C1080.0,280.1 1077.5,284.6 1075.0,284.0C1072.5,283.4 1070.0,277.5 1067.5,276.5C1065.0,275.5 1063.6,279.0 1060.0,277.8C1056.4,276.5 1048.3,274.3 1046.0,269.0C1043.7,263.7 1047.2,252.3 1046.0,246.0C1044.8,239.7 1040.5,234.7 1039.0,231.0C1037.5,227.3 1038.5,226.3 1037.0,224.0C1035.5,221.7 1029.8,219.3 1030.0,217.0C1030.2,214.7 1038.5,212.5 1038.0,210.0C1037.5,207.5 1028.7,204.0 1027.0,202.0C1025.3,200.0 1025.8,199.3 1028.0,198.0C1030.2,196.7 1038.7,196.3 1040.0,194.0C1041.3,191.7 1036.9,188.2 1036.0,184.0C1035.1,179.8 1035.3,172.2 1034.5,169.0C1033.7,165.8 1034.1,165.5 1031.0,165.0C1027.9,164.5 1018.5,165.8 1016.0,166.0Z" fill="#fdd597"/>
<path d="M1211.0,134.0C1211.1,131.0 1210.9,119.7 1211.8,115.9C1212.7,112.1 1215.5,113.3 1216.4,111.4C1217.3,109.5 1216.6,106.1 1217.5,104.6C1218.4,103.1 1220.1,102.1 1222.0,102.3C1223.9,102.5 1226.9,104.6 1228.8,105.7C1230.7,106.8 1231.0,108.5 1233.3,109.1C1235.6,109.7 1239.4,108.7 1242.4,109.1C1245.4,109.5 1249.2,111.0 1251.4,111.4C1253.7,111.8 1255.0,112.5 1255.9,111.4C1256.8,110.3 1257.3,106.7 1257.1,104.6C1256.9,102.5 1255.4,101.0 1254.8,98.9C1254.2,96.8 1255.0,93.2 1253.7,92.1C1252.4,91.0 1249.2,92.3 1246.9,92.1C1244.6,91.9 1241.4,91.8 1240.1,91.0C1238.8,90.2 1238.2,88.7 1239.0,87.6C1239.8,86.5 1242.5,85.1 1244.6,84.2C1246.7,83.3 1248.8,82.4 1251.4,82.0C1254.0,81.6 1257.5,81.4 1260.5,82.0C1263.5,82.6 1266.9,84.5 1269.5,85.4C1272.1,86.3 1274.8,88.5 1276.3,87.6C1277.8,86.6 1277.4,82.0 1278.5,79.7C1279.6,77.5 1281.8,76.0 1283.1,74.1C1284.4,72.2 1285.8,70.5 1286.5,68.4C1287.2,66.3 1286.5,63.7 1287.6,61.6C1288.7,59.5 1290.9,57.1 1293.2,56.0C1295.5,54.9 1298.4,55.2 1301.2,54.8C1304.0,54.4 1307.8,53.5 1310.2,53.7C1312.7,53.9 1315.0,54.7 1315.9,56.0C1316.8,57.3 1316.3,59.9 1315.9,61.6C1315.5,63.3 1313.4,65.0 1313.6,66.1C1313.8,67.2 1315.4,67.9 1317.0,68.4C1318.6,68.9 1322.0,68.9 1323.0,69.0C1322.7,70.2 1320.8,73.8 1321.0,76.0C1321.2,78.2 1323.0,79.5 1324.0,82.0C1325.0,84.5 1326.6,87.5 1327.0,91.0C1327.4,94.5 1327.0,99.2 1326.5,103.0C1326.0,106.8 1324.9,109.7 1324.0,114.0C1323.1,118.3 1321.8,124.2 1321.0,129.0C1320.2,133.8 1319.8,138.8 1319.0,143.0C1318.2,147.2 1316.7,150.5 1316.0,154.0C1315.3,157.5 1315.3,160.2 1315.0,164.0C1314.7,167.8 1313.2,173.6 1314.0,176.5C1314.8,179.4 1316.9,181.1 1320.0,181.5C1323.1,181.9 1328.8,178.2 1332.5,179.0C1336.2,179.8 1339.2,184.4 1342.5,186.5C1345.8,188.6 1349.2,189.4 1352.5,191.5C1355.8,193.6 1360.4,196.1 1362.5,199.0C1364.6,201.9 1364.6,206.1 1365.0,209.0C1365.4,211.9 1364.6,214.4 1365.0,216.5C1365.4,218.6 1366.7,220.2 1367.5,221.5C1368.3,222.8 1369.6,223.6 1370.0,224.0C1369.2,225.2 1367.5,229.8 1365.0,231.5C1362.5,233.2 1357.5,232.3 1355.0,234.0C1352.5,235.7 1352.5,240.0 1350.0,241.5C1347.5,243.0 1343.3,241.5 1340.0,242.8C1336.7,244.0 1332.5,247.1 1330.0,249.0C1327.5,250.9 1327.5,252.1 1325.0,254.0C1322.5,255.9 1317.9,258.2 1315.0,260.2C1312.1,262.3 1309.2,263.8 1307.5,266.5C1305.8,269.2 1306.7,274.2 1305.0,276.5C1303.3,278.8 1300.0,279.8 1297.5,280.2C1295.0,280.7 1291.7,280.5 1290.0,279.0C1288.3,277.5 1288.8,274.4 1287.5,271.5C1286.2,268.6 1285.0,262.8 1282.5,261.5C1280.0,260.2 1276.7,264.4 1272.5,264.0C1268.3,263.6 1261.2,261.1 1257.5,259.0C1253.8,256.9 1252.1,254.2 1250.0,251.5C1247.9,248.8 1245.8,244.4 1245.0,243.0C1245.8,241.9 1248.3,238.4 1250.0,236.5C1251.7,234.6 1253.8,233.4 1255.0,231.5C1256.2,229.6 1257.9,227.1 1257.5,225.2C1257.1,223.4 1254.8,221.3 1252.5,220.2C1250.2,219.2 1245.4,220.0 1243.8,219.0C1242.1,218.0 1241.9,216.1 1242.5,214.0C1243.1,211.9 1246.5,209.0 1247.5,206.5C1248.5,204.0 1247.9,201.7 1248.8,199.0C1249.6,196.3 1250.0,192.3 1252.5,190.2C1255.0,188.2 1261.7,188.0 1263.8,186.5C1265.8,185.0 1267.1,183.0 1265.0,181.5C1262.9,180.0 1253.8,179.2 1251.2,177.8C1248.8,176.3 1249.0,174.2 1250.0,172.8C1251.0,171.3 1256.2,170.8 1257.5,169.0C1258.8,167.2 1258.8,164.2 1258.0,162.0C1257.2,159.8 1256.3,156.7 1253.0,156.0C1249.7,155.3 1242.5,157.5 1238.0,158.0C1233.5,158.5 1228.6,160.2 1226.0,159.0C1223.4,157.8 1223.7,152.5 1222.5,151.0C1221.3,149.5 1220.0,150.8 1218.6,149.8C1217.2,148.9 1215.2,147.2 1214.1,145.3C1213.0,143.4 1212.3,140.4 1211.8,138.5C1211.3,136.6 1211.1,134.8 1211.0,134.0Z" fill="#e04929"/>
<path d="M1323.0,69.0C1323.3,66.5 1323.8,57.3 1325.0,54.0C1326.2,50.7 1328.5,51.9 1330.0,49.0C1331.5,46.1 1332.1,39.2 1333.8,36.5C1335.4,33.8 1337.5,33.2 1340.0,32.8C1342.5,32.3 1346.7,32.8 1348.8,34.0C1350.8,35.2 1352.1,37.8 1352.5,40.2C1352.9,42.8 1350.6,47.1 1351.2,49.0C1351.9,50.9 1354.2,51.7 1356.2,51.5C1358.3,51.3 1361.7,47.3 1363.8,47.8C1365.8,48.2 1366.9,53.0 1368.8,54.0C1370.6,55.0 1373.1,56.1 1375.0,54.0C1376.9,51.9 1378.3,44.6 1380.0,41.5C1381.7,38.4 1382.5,37.3 1385.0,35.2C1387.5,33.2 1392.9,31.7 1395.0,29.0C1397.1,26.3 1396.2,21.1 1397.5,19.0C1398.8,16.9 1400.0,16.9 1402.5,16.5C1405.0,16.1 1409.6,16.1 1412.5,16.5C1415.4,16.9 1417.7,18.4 1420.0,19.0C1422.3,19.6 1424.4,20.7 1426.2,20.2C1428.1,19.8 1430.0,18.8 1431.2,16.5C1432.5,14.2 1432.7,8.4 1433.8,6.5C1434.8,4.6 1436.0,4.6 1437.5,5.2C1439.0,5.9 1440.4,9.0 1442.5,10.2C1444.6,11.5 1447.1,12.1 1450.0,12.8C1452.9,13.4 1456.9,13.2 1460.0,14.0C1463.1,14.8 1467.1,16.1 1468.8,17.8C1470.4,19.4 1470.4,21.7 1470.0,24.0C1469.6,26.3 1467.1,29.0 1466.2,31.5C1465.4,34.0 1465.6,36.1 1465.0,39.0C1464.4,41.9 1462.1,46.1 1462.5,49.0C1462.9,51.9 1465.6,54.6 1467.5,56.5C1469.4,58.4 1471.7,60.2 1473.8,60.2C1475.8,60.2 1477.7,57.1 1480.0,56.5C1482.3,55.9 1485.8,55.9 1487.5,56.5C1489.2,57.1 1490.4,59.0 1490.0,60.2C1489.6,61.5 1486.7,62.1 1485.0,64.0C1483.3,65.9 1481.2,69.0 1480.0,71.5C1478.8,74.0 1478.1,75.2 1477.5,79.0C1476.9,82.8 1476.7,89.0 1476.2,94.0C1475.8,99.0 1476.0,105.5 1475.0,109.0C1474.0,112.5 1472.1,113.2 1470.0,115.2C1467.9,117.3 1464.2,119.2 1462.5,121.5C1460.8,123.8 1461.2,126.6 1460.0,129.0C1458.8,131.4 1457.0,134.0 1455.0,136.0C1453.0,138.0 1449.5,139.2 1448.0,141.0C1446.5,142.8 1446.3,144.2 1446.0,147.0C1445.7,149.8 1445.2,155.6 1446.0,158.0C1446.8,160.4 1448.7,160.7 1451.0,161.5C1453.3,162.3 1457.7,162.6 1460.0,163.0C1462.3,163.4 1464.2,163.8 1465.0,164.0C1465.8,164.8 1469.6,166.5 1470.0,169.0C1470.4,171.5 1469.2,176.3 1467.5,179.0C1465.8,181.7 1462.6,183.1 1460.0,185.0C1457.4,186.9 1453.5,187.8 1452.0,190.5C1450.5,193.2 1450.5,198.4 1451.0,201.5C1451.5,204.6 1454.2,206.8 1455.0,209.0C1455.8,211.2 1456.4,212.7 1456.0,215.0C1455.6,217.3 1454.8,221.1 1452.5,223.0C1450.2,224.9 1444.3,224.9 1442.5,226.5C1440.7,228.1 1441.9,231.9 1441.5,232.5C1441.1,233.1 1441.2,231.4 1440.0,230.0C1438.8,228.6 1436.1,225.0 1434.0,224.0C1431.9,223.0 1430.8,223.8 1427.5,224.0C1424.2,224.2 1416.2,225.2 1414.0,225.5C1411.7,225.7 1403.7,226.1 1400.0,226.5C1396.3,226.9 1393.3,227.8 1392.0,228.0C1390.0,227.6 1383.7,226.2 1380.0,225.5C1376.3,224.8 1371.7,224.2 1370.0,224.0C1369.6,223.6 1368.3,222.8 1367.5,221.5C1366.7,220.2 1365.4,218.6 1365.0,216.5C1364.6,214.4 1365.4,211.9 1365.0,209.0C1364.6,206.1 1364.6,201.9 1362.5,199.0C1360.4,196.1 1355.8,193.6 1352.5,191.5C1349.2,189.4 1345.8,188.6 1342.5,186.5C1339.2,184.4 1336.2,179.8 1332.5,179.0C1328.8,178.2 1323.1,181.9 1320.0,181.5C1316.9,181.1 1314.8,179.4 1314.0,176.5C1313.2,173.6 1314.7,167.8 1315.0,164.0C1315.3,160.2 1315.3,157.5 1316.0,154.0C1316.7,150.5 1318.2,147.2 1319.0,143.0C1319.8,138.8 1320.2,133.8 1321.0,129.0C1321.8,124.2 1323.1,118.3 1324.0,114.0C1324.9,109.7 1326.0,106.8 1326.5,103.0C1327.0,99.2 1327.4,94.5 1327.0,91.0C1326.6,87.5 1325.0,84.5 1324.0,82.0C1323.0,79.5 1321.2,78.2 1321.0,76.0C1320.8,73.8 1322.7,70.2 1323.0,69.0Z" fill="#e04929"/>
<path d="M1465.0,164.0C1464.8,162.3 1463.6,156.9 1464.0,154.0C1464.4,151.1 1465.7,148.8 1467.5,146.5C1469.3,144.2 1473.1,141.2 1475.0,140.0C1476.9,138.8 1477.3,138.5 1479.0,139.0C1480.7,139.5 1483.0,141.8 1485.0,143.0C1487.0,144.2 1489.3,143.8 1491.0,146.5C1492.7,149.2 1493.9,154.8 1495.0,159.0C1496.1,163.2 1496.7,167.5 1497.5,171.5C1498.3,175.5 1498.8,180.1 1500.0,183.0C1501.2,185.9 1502.9,188.2 1505.0,189.0C1507.1,189.8 1510.0,189.7 1512.5,188.0C1515.0,186.3 1517.5,181.2 1520.0,179.0C1522.5,176.8 1524.2,175.8 1527.5,175.0C1530.8,174.2 1536.2,174.0 1540.0,174.0C1543.8,174.0 1547.9,174.2 1550.0,175.0C1552.1,175.8 1552.9,177.1 1552.5,179.0C1552.1,180.9 1548.8,184.0 1547.5,186.5C1546.2,189.0 1544.6,191.5 1545.0,194.0C1545.4,196.5 1548.3,199.4 1550.0,201.5C1551.7,203.6 1553.3,204.4 1555.0,206.5C1556.7,208.6 1560.0,211.5 1560.0,214.0C1560.0,216.5 1557.1,219.4 1555.0,221.5C1552.9,223.6 1549.6,224.4 1547.5,226.5C1545.4,228.6 1542.9,231.5 1542.5,234.0C1542.1,236.5 1543.8,238.6 1545.0,241.5C1546.2,244.4 1548.8,248.2 1550.0,251.5C1551.2,254.8 1552.5,258.4 1552.5,261.5C1552.5,264.6 1552.5,267.8 1550.0,270.0C1547.5,272.2 1541.7,274.2 1537.5,275.0C1533.3,275.8 1527.1,275.0 1525.0,275.0C1524.6,274.0 1523.8,271.7 1522.5,269.0C1521.2,266.3 1519.2,262.3 1517.5,259.0C1515.8,255.7 1513.8,252.1 1512.5,249.0C1511.2,245.9 1511.7,241.5 1510.0,240.2C1508.3,239.0 1504.4,240.5 1502.5,241.5C1500.6,242.5 1500.0,243.6 1498.8,246.5C1497.5,249.4 1496.5,255.2 1495.0,259.0C1493.5,262.8 1492.1,267.3 1490.0,269.0C1487.9,270.7 1484.6,270.0 1482.5,269.0C1480.4,268.0 1479.2,263.2 1477.5,262.8C1475.8,262.3 1474.6,264.6 1472.5,266.5C1470.4,268.4 1467.5,271.5 1465.0,274.0C1462.5,276.5 1460.0,277.8 1457.5,281.5C1455.0,285.2 1452.1,296.1 1450.0,296.5C1447.9,296.9 1446.7,287.8 1445.0,284.0C1443.3,280.2 1442.5,276.9 1440.0,274.0C1437.5,271.1 1432.7,269.0 1430.0,266.5C1427.3,264.0 1424.8,262.3 1423.8,259.0C1422.7,255.7 1424.4,250.2 1423.8,246.5C1423.1,242.8 1421.6,240.0 1420.0,236.5C1418.4,233.0 1415.0,227.3 1414.0,225.5C1416.2,225.2 1424.2,224.2 1427.5,224.0C1430.8,223.8 1431.9,223.0 1434.0,224.0C1436.1,225.0 1438.8,228.6 1440.0,230.0C1441.2,231.4 1441.1,233.1 1441.5,232.5C1441.9,231.9 1440.7,228.1 1442.5,226.5C1444.3,224.9 1450.2,224.9 1452.5,223.0C1454.8,221.1 1455.6,217.3 1456.0,215.0C1456.4,212.7 1455.8,211.2 1455.0,209.0C1454.2,206.8 1451.5,204.6 1451.0,201.5C1450.5,198.4 1450.5,193.2 1452.0,190.5C1453.5,187.8 1457.4,186.9 1460.0,185.0C1462.6,183.1 1465.8,181.7 1467.5,179.0C1469.2,176.3 1470.4,171.5 1470.0,169.0C1469.6,166.5 1465.8,164.8 1465.0,164.0Z" fill="#fc8e55"/>
<path d="M1525.0,275.0C1525.0,276.5 1524.6,281.7 1525.0,284.0C1525.4,286.3 1528.3,287.2 1527.5,289.0C1526.7,290.8 1522.5,292.9 1520.0,295.0C1517.5,297.1 1514.6,298.3 1512.5,301.5C1510.4,304.7 1509.0,309.8 1507.5,314.0C1506.0,318.2 1504.8,322.3 1503.8,326.5C1502.7,330.7 1501.5,335.9 1501.2,339.0C1501.0,342.1 1501.9,342.0 1502.0,345.0C1502.1,348.0 1501.3,353.3 1502.0,357.0C1502.7,360.7 1505.7,364.0 1506.0,367.0C1506.3,370.0 1504.7,372.3 1504.0,375.0C1503.3,377.7 1503.7,380.0 1502.0,383.0C1500.3,386.0 1496.7,390.3 1494.0,393.0C1491.3,395.7 1489.2,397.8 1486.0,399.0C1482.8,400.2 1476.3,399.0 1475.0,400.0C1473.7,401.0 1478.2,403.5 1478.0,405.0C1477.8,406.5 1476.7,407.7 1474.0,409.0C1471.3,410.3 1465.5,412.0 1462.0,413.0C1458.5,414.0 1454.5,414.7 1453.0,415.0C1452.8,414.0 1452.5,411.3 1452.0,409.0C1451.5,406.7 1451.2,403.2 1450.0,401.0C1448.8,398.8 1446.4,398.8 1444.8,395.7C1443.2,392.6 1440.9,386.7 1440.4,382.7C1439.8,378.7 1441.6,374.8 1441.5,371.8C1441.4,368.8 1442.0,366.1 1440.0,364.5C1438.0,362.9 1433.3,362.8 1429.6,362.0C1425.9,361.2 1419.9,360.3 1418.0,360.0C1418.3,357.6 1419.3,350.2 1419.8,345.7C1420.3,341.1 1421.2,337.4 1421.0,332.7C1420.8,328.0 1419.5,322.6 1418.7,317.5C1418.0,312.4 1416.9,307.1 1416.5,302.0C1416.1,296.9 1416.9,290.2 1416.5,287.0C1416.1,283.8 1416.9,284.2 1414.0,282.7C1411.1,281.2 1402.2,279.9 1399.0,278.0C1395.8,276.1 1395.7,272.2 1395.0,271.0C1395.0,269.4 1394.6,264.8 1395.0,261.5C1395.4,258.2 1397.1,255.2 1397.5,251.5C1397.9,247.8 1398.4,242.9 1397.5,239.0C1396.6,235.1 1392.9,229.8 1392.0,228.0C1393.3,227.8 1396.3,226.9 1400.0,226.5C1403.7,226.1 1411.7,225.7 1414.0,225.5C1415.0,227.3 1418.4,233.0 1420.0,236.5C1421.6,240.0 1423.1,242.8 1423.8,246.5C1424.4,250.2 1422.7,255.7 1423.8,259.0C1424.8,262.3 1427.3,264.0 1430.0,266.5C1432.7,269.0 1437.5,271.1 1440.0,274.0C1442.5,276.9 1443.3,280.2 1445.0,284.0C1446.7,287.8 1447.9,296.9 1450.0,296.5C1452.1,296.1 1455.0,285.2 1457.5,281.5C1460.0,277.8 1462.5,276.5 1465.0,274.0C1467.5,271.5 1470.4,268.4 1472.5,266.5C1474.6,264.6 1475.8,262.3 1477.5,262.8C1479.2,263.2 1480.4,268.0 1482.5,269.0C1484.6,270.0 1487.9,270.7 1490.0,269.0C1492.1,267.3 1493.5,262.8 1495.0,259.0C1496.5,255.2 1497.5,249.4 1498.8,246.5C1500.0,243.6 1500.6,242.5 1502.5,241.5C1504.4,240.5 1508.3,239.0 1510.0,240.2C1511.7,241.5 1511.2,245.9 1512.5,249.0C1513.8,252.1 1515.8,255.7 1517.5,259.0C1519.2,262.3 1521.2,266.3 1522.5,269.0C1523.8,271.7 1524.6,274.0 1525.0,275.0Z" fill="#fc8e55"/>
<path d="M1199.0,276.0C1200.0,275.7 1202.5,275.6 1205.0,274.0C1207.5,272.4 1212.1,269.4 1213.8,266.5C1215.4,263.6 1214.0,259.4 1215.0,256.5C1216.0,253.6 1217.9,251.9 1220.0,249.0C1222.1,246.1 1225.0,241.3 1227.5,239.0C1230.0,236.7 1232.1,234.6 1235.0,235.2C1237.9,235.9 1243.3,241.7 1245.0,243.0C1245.8,244.4 1247.9,248.8 1250.0,251.5C1252.1,254.2 1253.8,256.9 1257.5,259.0C1261.2,261.1 1268.3,263.6 1272.5,264.0C1276.7,264.4 1280.0,260.2 1282.5,261.5C1285.0,262.8 1286.2,268.6 1287.5,271.5C1288.8,274.4 1288.3,277.5 1290.0,279.0C1291.7,280.5 1295.0,280.7 1297.5,280.2C1300.0,279.8 1303.3,278.8 1305.0,276.5C1306.7,274.2 1305.8,269.2 1307.5,266.5C1309.2,263.8 1312.1,262.3 1315.0,260.2C1317.9,258.2 1322.5,255.9 1325.0,254.0C1327.5,252.1 1327.5,250.9 1330.0,249.0C1332.5,247.1 1336.7,244.0 1340.0,242.8C1343.3,241.5 1347.5,243.0 1350.0,241.5C1352.5,240.0 1352.5,235.7 1355.0,234.0C1357.5,232.3 1362.5,233.2 1365.0,231.5C1367.5,229.8 1369.2,225.2 1370.0,224.0C1371.7,224.2 1376.3,224.8 1380.0,225.5C1383.7,226.2 1390.0,227.6 1392.0,228.0C1392.9,229.8 1396.6,235.1 1397.5,239.0C1398.4,242.9 1397.9,247.8 1397.5,251.5C1397.1,255.2 1395.4,258.2 1395.0,261.5C1394.6,264.8 1395.0,269.4 1395.0,271.0C1394.6,272.1 1394.1,275.7 1392.6,277.3C1391.1,278.9 1388.9,279.6 1386.0,280.5C1383.1,281.4 1378.5,281.6 1375.2,282.7C1372.0,283.8 1369.0,284.8 1366.5,287.0C1364.0,289.2 1361.8,292.4 1360.0,295.7C1358.2,299.0 1357.2,303.0 1355.7,306.6C1354.2,310.2 1353.1,314.4 1351.3,317.5C1349.5,320.6 1347.3,322.9 1344.8,325.1C1342.2,327.3 1338.5,329.0 1336.0,330.5C1333.5,332.0 1332.2,332.6 1330.0,334.0C1327.8,335.4 1326.3,337.8 1323.0,339.2C1319.7,340.6 1313.8,341.7 1310.0,342.5C1306.2,343.3 1303.3,343.6 1300.0,344.0C1296.7,344.4 1293.7,344.0 1290.0,345.0C1286.3,346.0 1280.0,349.2 1278.0,350.0C1277.1,349.4 1275.1,347.5 1272.5,346.5C1269.9,345.5 1266.2,345.2 1262.5,344.0C1258.8,342.8 1253.3,342.8 1250.0,339.0C1246.7,335.2 1244.6,326.5 1242.5,321.5C1240.4,316.5 1238.8,312.3 1237.5,309.0C1236.2,305.7 1236.7,302.3 1235.0,301.5C1233.3,300.7 1230.8,303.2 1227.5,304.0C1224.2,304.8 1218.8,306.5 1215.0,306.5C1211.2,306.5 1207.3,306.1 1205.0,304.0C1202.7,301.9 1201.7,297.3 1201.0,294.0C1200.3,290.7 1201.3,287.0 1201.0,284.0C1200.7,281.0 1199.3,277.3 1199.0,276.0Z" fill="#fdd597"/>
<path d="M1278.0,350.0C1280.0,349.2 1286.3,346.0 1290.0,345.0C1293.7,344.0 1296.7,344.4 1300.0,344.0C1303.3,343.6 1306.2,343.3 1310.0,342.5C1313.8,341.7 1319.7,340.6 1323.0,339.2C1326.3,337.8 1327.8,335.4 1330.0,334.0C1332.2,332.6 1333.5,332.0 1336.0,330.5C1338.5,329.0 1342.2,327.3 1344.8,325.1C1347.3,322.9 1349.5,320.6 1351.3,317.5C1353.1,314.4 1354.2,310.2 1355.7,306.6C1357.2,303.0 1358.2,299.0 1360.0,295.7C1361.8,292.4 1364.0,289.2 1366.5,287.0C1369.0,284.8 1372.0,283.8 1375.2,282.7C1378.5,281.6 1383.1,281.4 1386.0,280.5C1388.9,279.6 1391.1,278.9 1392.6,277.3C1394.1,275.7 1394.6,272.1 1395.0,271.0C1395.7,272.2 1395.8,276.1 1399.0,278.0C1402.2,279.9 1411.1,281.2 1414.0,282.7C1416.9,284.2 1416.1,283.8 1416.5,287.0C1416.9,290.2 1416.1,296.9 1416.5,302.0C1416.9,307.1 1418.0,312.4 1418.7,317.5C1419.5,322.6 1420.8,328.0 1421.0,332.7C1421.2,337.4 1420.3,341.1 1419.8,345.7C1419.3,350.2 1418.3,357.6 1418.0,360.0C1417.0,360.2 1414.0,360.6 1412.0,361.5C1410.0,362.4 1407.1,363.9 1405.7,365.3C1404.3,366.7 1405.3,369.0 1403.5,369.7C1401.7,370.4 1397.0,369.5 1394.8,369.7C1392.6,369.9 1391.5,368.9 1390.4,370.7C1389.3,372.5 1388.8,377.4 1388.3,380.5C1387.8,383.6 1388.3,388.1 1387.2,389.2C1386.1,390.3 1384.8,388.1 1381.7,387.0C1378.6,385.9 1372.7,384.1 1368.7,382.7C1364.7,381.2 1361.1,379.4 1357.8,378.3C1354.5,377.2 1351.3,376.2 1349.1,376.2C1346.9,376.2 1345.8,376.5 1344.8,378.3C1343.8,380.1 1344.1,384.7 1343.0,387.0C1341.9,389.3 1338.7,390.7 1338.0,392.0C1337.3,393.3 1338.2,393.8 1339.0,395.0C1339.8,396.2 1342.2,397.5 1343.0,399.0C1343.8,400.5 1344.8,402.7 1344.0,404.0C1343.2,405.3 1340.7,405.8 1338.0,407.0C1335.3,408.2 1330.8,409.8 1328.0,411.0C1325.2,412.2 1322.2,413.5 1321.0,414.0C1320.5,413.2 1318.8,411.0 1318.0,409.0C1317.2,407.0 1317.0,403.2 1316.0,402.0C1315.0,400.8 1313.0,402.8 1312.0,402.0C1311.0,401.2 1311.0,398.8 1310.0,397.0C1309.0,395.2 1308.0,392.7 1306.0,391.0C1304.0,389.3 1299.7,388.7 1298.0,387.0C1296.3,385.3 1296.7,383.3 1296.0,381.0C1295.3,378.7 1295.7,375.3 1294.0,373.0C1292.3,370.7 1287.9,369.8 1286.0,367.0C1284.1,364.2 1283.8,359.3 1282.5,356.5C1281.2,353.7 1278.8,351.1 1278.0,350.0Z" fill="#fc8e55"/>
<path d="M1418.0,360.0C1419.9,360.3 1425.9,361.2 1429.6,362.0C1433.3,362.8 1438.0,362.9 1440.0,364.5C1442.0,366.1 1441.4,368.8 1441.5,371.8C1441.6,374.8 1439.8,378.7 1440.4,382.7C1440.9,386.7 1443.2,392.6 1444.8,395.7C1446.4,398.8 1448.8,398.8 1450.0,401.0C1451.2,403.2 1451.5,406.7 1452.0,409.0C1452.5,411.3 1452.8,414.0 1453.0,415.0C1451.4,416.1 1445.2,419.3 1443.6,421.3C1442.0,423.3 1444.5,425.2 1443.6,426.8C1442.7,428.4 1438.9,428.7 1438.0,431.0C1437.1,433.3 1437.1,437.7 1438.0,440.7C1438.9,443.7 1443.1,446.8 1443.6,449.1C1444.1,451.4 1442.4,452.8 1440.8,454.6C1439.2,456.5 1435.7,458.1 1433.8,460.2C1431.9,462.3 1431.2,466.3 1429.6,467.2C1428.0,468.1 1426.9,465.8 1424.1,465.8C1421.3,465.8 1416.2,466.7 1413.0,467.2C1409.8,467.7 1406.0,467.0 1404.6,468.6C1403.2,470.2 1403.9,473.7 1404.6,476.9C1405.3,480.1 1408.8,484.8 1408.8,488.0C1408.8,491.2 1407.2,494.8 1404.6,496.4C1402.1,498.0 1396.8,497.3 1393.5,497.8C1390.2,498.3 1387.9,498.5 1385.1,499.2C1382.3,499.9 1379.6,501.3 1376.8,502.0C1374.0,502.7 1370.7,501.9 1368.4,503.3C1366.1,504.7 1364.0,507.8 1362.9,510.3C1361.8,512.9 1362.9,515.8 1361.5,518.6C1360.1,521.4 1356.8,525.1 1354.5,527.0C1352.2,528.9 1349.1,529.5 1348.0,530.0C1347.2,529.3 1344.2,527.8 1343.0,526.0C1341.8,524.2 1341.4,521.7 1340.6,519.0C1339.8,516.3 1338.8,512.8 1338.4,510.0C1338.0,507.2 1338.8,504.0 1338.4,502.0C1338.0,500.0 1336.4,498.7 1336.0,498.0C1334.6,497.2 1329.4,495.0 1327.5,493.0C1325.6,491.0 1325.1,489.0 1324.5,486.0C1323.9,483.0 1324.1,478.5 1324.0,475.0C1323.9,471.5 1323.3,467.6 1324.0,465.0C1324.7,462.4 1325.7,460.8 1328.0,459.5C1330.3,458.2 1334.3,457.9 1338.0,457.5C1341.7,457.1 1347.8,459.1 1350.0,457.0C1352.2,454.9 1350.7,448.7 1351.0,445.0C1351.3,441.3 1352.2,438.0 1352.0,435.0C1351.8,432.0 1351.3,428.8 1350.0,427.0C1348.7,425.2 1346.0,424.0 1344.0,424.0C1342.0,424.0 1340.0,426.5 1338.0,427.0C1336.0,427.5 1333.7,428.3 1332.0,427.0C1330.3,425.7 1329.8,421.2 1328.0,419.0C1326.2,416.8 1322.2,414.8 1321.0,414.0C1322.2,413.5 1325.2,412.2 1328.0,411.0C1330.8,409.8 1335.3,408.2 1338.0,407.0C1340.7,405.8 1343.2,405.3 1344.0,404.0C1344.8,402.7 1343.8,400.5 1343.0,399.0C1342.2,397.5 1339.8,396.2 1339.0,395.0C1338.2,393.8 1337.3,393.3 1338.0,392.0C1338.7,390.7 1341.9,389.3 1343.0,387.0C1344.1,384.7 1343.8,380.1 1344.8,378.3C1345.8,376.5 1346.9,376.2 1349.1,376.2C1351.3,376.2 1354.5,377.2 1357.8,378.3C1361.1,379.4 1364.7,381.2 1368.7,382.7C1372.7,384.1 1378.6,385.9 1381.7,387.0C1384.8,388.1 1386.1,390.3 1387.2,389.2C1388.3,388.1 1387.8,383.6 1388.3,380.5C1388.8,377.4 1389.3,372.5 1390.4,370.7C1391.5,368.9 1392.6,369.9 1394.8,369.7C1397.0,369.5 1401.7,370.4 1403.5,369.7C1405.3,369.0 1404.3,366.7 1405.7,365.3C1407.1,363.9 1410.0,362.4 1412.0,361.5C1414.0,360.6 1417.0,360.2 1418.0,360.0Z" fill="#e04929"/>
<path d="M1133.0,337.0C1134.1,336.2 1138.1,333.8 1139.4,332.3C1140.7,330.8 1138.4,329.1 1140.9,327.8C1143.4,326.6 1151.3,326.3 1154.3,324.8C1157.3,323.3 1157.8,321.6 1158.8,318.9C1159.8,316.2 1159.3,311.4 1160.3,308.4C1161.3,305.4 1162.8,302.5 1164.8,300.9C1166.8,299.3 1169.3,298.9 1172.3,298.7C1175.3,298.4 1180.2,299.8 1182.8,299.4C1185.4,299.0 1186.6,298.1 1188.0,296.4C1189.4,294.7 1190.4,291.6 1191.0,289.0C1191.6,286.4 1191.1,282.7 1191.7,280.7C1192.3,278.7 1193.5,277.8 1194.7,277.0C1195.9,276.2 1198.3,276.2 1199.0,276.0C1199.3,277.3 1200.7,281.0 1201.0,284.0C1201.3,287.0 1200.3,290.7 1201.0,294.0C1201.7,297.3 1202.7,301.9 1205.0,304.0C1207.3,306.1 1211.2,306.5 1215.0,306.5C1218.8,306.5 1224.2,304.8 1227.5,304.0C1230.8,303.2 1233.3,300.7 1235.0,301.5C1236.7,302.3 1236.2,305.7 1237.5,309.0C1238.8,312.3 1240.4,316.5 1242.5,321.5C1244.6,326.5 1246.7,335.2 1250.0,339.0C1253.3,342.8 1258.8,342.8 1262.5,344.0C1266.2,345.2 1269.9,345.5 1272.5,346.5C1275.1,347.5 1277.1,349.4 1278.0,350.0C1278.8,351.1 1281.2,353.7 1282.5,356.5C1283.8,359.3 1284.1,364.2 1286.0,367.0C1287.9,369.8 1292.3,370.7 1294.0,373.0C1295.7,375.3 1295.3,378.7 1296.0,381.0C1296.7,383.3 1296.3,385.3 1298.0,387.0C1299.7,388.7 1304.0,389.3 1306.0,391.0C1308.0,392.7 1309.0,395.2 1310.0,397.0C1311.0,398.8 1311.0,401.2 1312.0,402.0C1313.0,402.8 1315.0,400.8 1316.0,402.0C1317.0,403.2 1317.2,407.0 1318.0,409.0C1318.8,411.0 1320.5,413.2 1321.0,414.0C1319.8,414.2 1316.8,414.2 1314.0,415.0C1311.2,415.8 1307.0,417.7 1304.0,419.0C1301.0,420.3 1298.3,420.7 1296.0,423.0C1293.7,425.3 1292.3,431.0 1290.0,433.0C1287.7,435.0 1285.3,434.8 1282.0,435.0C1278.7,435.2 1274.7,434.0 1270.0,434.0C1265.3,434.0 1258.7,434.6 1254.0,435.0C1249.3,435.4 1245.3,436.0 1242.0,436.5C1238.7,437.0 1236.1,436.8 1234.0,438.0C1231.9,439.2 1231.3,442.4 1229.3,443.9C1227.3,445.4 1223.5,445.6 1221.8,446.9C1220.0,448.1 1219.5,448.9 1218.8,451.4C1218.0,453.9 1218.3,458.8 1217.3,461.8C1216.3,464.8 1214.5,468.2 1212.8,469.3C1211.1,470.4 1209.1,468.6 1206.9,468.6C1204.7,468.6 1201.9,468.7 1199.4,469.3C1196.9,469.9 1193.2,471.6 1192.0,472.0C1190.7,471.1 1186.9,468.0 1184.4,466.3C1181.9,464.6 1179.7,463.4 1177.0,462.0C1174.3,460.6 1169.5,458.7 1168.0,458.0C1168.2,457.0 1169.2,453.8 1169.0,452.0C1168.8,450.2 1167.7,449.1 1166.5,447.0C1165.3,444.9 1162.5,441.4 1162.0,439.4C1161.5,437.4 1162.5,436.7 1163.5,435.0C1164.5,433.3 1167.1,430.8 1168.0,429.0C1168.9,427.2 1169.2,425.5 1169.0,424.0C1168.8,422.5 1167.2,422.2 1166.5,420.0C1165.8,417.8 1166.1,413.3 1165.0,411.0C1163.9,408.7 1162.2,407.2 1160.0,406.0C1157.8,404.8 1154.5,404.7 1152.0,403.5C1149.5,402.3 1147.5,400.0 1144.8,398.6C1142.2,397.2 1138.4,396.0 1136.1,395.1C1133.8,394.2 1132.3,392.7 1130.9,393.3C1129.5,393.9 1130.0,396.9 1127.4,398.6C1124.8,400.4 1118.1,403.2 1115.2,403.8C1112.3,404.4 1110.9,404.0 1110.0,402.0C1109.1,400.0 1110.6,394.5 1110.0,391.6C1109.4,388.7 1108.2,386.4 1106.5,384.7C1104.8,383.0 1101.0,382.9 1099.6,381.2C1098.2,379.4 1097.9,377.1 1097.8,374.2C1097.7,371.3 1098.8,365.7 1099.0,364.0C1099.7,364.1 1100.3,364.4 1103.0,364.7C1105.7,364.9 1112.0,366.2 1115.2,365.5C1118.4,364.8 1119.6,361.3 1122.2,360.3C1124.8,359.3 1128.6,360.7 1130.9,359.4C1133.2,358.1 1133.9,354.7 1136.1,352.5C1138.3,350.3 1142.6,347.6 1143.9,346.4C1145.2,345.1 1144.7,345.9 1143.9,345.0C1143.2,344.1 1141.2,342.2 1139.4,341.3C1137.7,340.4 1134.5,340.5 1133.4,339.8C1132.3,339.1 1133.1,337.5 1133.0,337.0Z" fill="#b1221b"/>
<path d="M1321.0,414.0C1322.2,414.8 1326.2,416.8 1328.0,419.0C1329.8,421.2 1330.3,425.7 1332.0,427.0C1333.7,428.3 1336.0,427.5 1338.0,427.0C1340.0,426.5 1342.0,424.0 1344.0,424.0C1346.0,424.0 1348.7,425.2 1350.0,427.0C1351.3,428.8 1351.8,432.0 1352.0,435.0C1352.2,438.0 1351.3,441.3 1351.0,445.0C1350.7,448.7 1352.2,454.9 1350.0,457.0C1347.8,459.1 1341.7,457.1 1338.0,457.5C1334.3,457.9 1330.3,458.2 1328.0,459.5C1325.7,460.8 1324.7,462.4 1324.0,465.0C1323.3,467.6 1323.9,471.5 1324.0,475.0C1324.1,478.5 1323.9,483.0 1324.5,486.0C1325.1,489.0 1325.6,491.0 1327.5,493.0C1329.4,495.0 1334.6,497.2 1336.0,498.0C1335.1,497.9 1332.8,497.9 1330.8,497.6C1328.8,497.3 1325.5,495.9 1324.0,496.1C1322.5,496.4 1322.8,498.4 1321.7,499.1C1320.6,499.9 1319.7,500.4 1317.2,500.6C1314.7,500.9 1309.9,500.5 1306.6,500.6C1303.3,500.7 1300.0,501.3 1297.5,501.4C1295.0,501.5 1293.5,501.0 1291.5,501.4C1289.5,501.8 1287.4,503.0 1285.4,503.6C1283.4,504.2 1282.1,504.4 1279.3,505.2C1276.5,506.0 1271.8,506.9 1268.8,508.2C1265.8,509.4 1263.5,510.9 1261.2,512.7C1258.9,514.5 1256.0,518.0 1255.0,519.0C1254.6,518.7 1253.5,517.2 1252.8,517.2C1252.1,517.2 1250.9,518.2 1250.7,519.2C1250.5,520.2 1252.0,522.4 1251.7,523.4C1251.3,524.4 1249.0,524.8 1248.6,525.5C1248.2,526.2 1248.7,526.7 1249.6,527.6C1250.5,528.5 1253.3,529.8 1253.8,530.7C1254.3,531.6 1253.5,532.3 1252.8,532.8C1252.1,533.3 1250.8,533.4 1249.6,533.8C1248.4,534.2 1246.8,535.2 1245.5,535.4C1244.2,535.6 1242.5,535.8 1241.8,534.9C1241.1,534.0 1241.7,531.3 1241.3,529.7C1240.9,528.1 1240.1,526.7 1239.2,525.5C1238.3,524.3 1237.0,523.4 1236.1,522.4C1235.2,521.4 1234.9,519.7 1234.0,519.2C1233.1,518.7 1231.9,519.4 1230.9,519.2C1229.9,519.0 1228.2,518.9 1227.8,518.2C1227.5,517.5 1228.8,516.3 1228.8,515.1C1228.8,513.9 1228.5,511.8 1227.8,510.9C1227.1,510.0 1225.3,510.7 1224.6,509.9C1223.9,509.1 1224.1,506.9 1223.6,506.2C1223.1,505.5 1222.1,505.1 1221.5,505.7C1220.9,506.3 1220.2,509.3 1220.0,510.0C1219.5,510.0 1218.3,510.4 1217.3,509.9C1216.3,509.4 1216.1,507.8 1214.2,507.2C1212.3,506.6 1209.0,506.4 1205.9,506.2C1202.8,505.9 1197.8,506.5 1195.4,505.7C1193.0,504.9 1192.7,503.2 1191.3,501.5C1189.9,499.8 1187.8,498.1 1187.1,495.3C1186.5,492.6 1187.1,488.1 1187.4,485.0C1187.7,481.9 1188.1,479.0 1188.9,476.8C1189.7,474.6 1191.5,472.8 1192.0,472.0C1193.2,471.6 1196.9,469.9 1199.4,469.3C1201.9,468.7 1204.7,468.6 1206.9,468.6C1209.1,468.6 1211.1,470.4 1212.8,469.3C1214.5,468.2 1216.3,464.8 1217.3,461.8C1218.3,458.8 1218.0,453.9 1218.8,451.4C1219.5,448.9 1220.0,448.1 1221.8,446.9C1223.5,445.6 1227.3,445.4 1229.3,443.9C1231.3,442.4 1231.9,439.2 1234.0,438.0C1236.1,436.8 1238.7,437.0 1242.0,436.5C1245.3,436.0 1249.3,435.4 1254.0,435.0C1258.7,434.6 1265.3,434.0 1270.0,434.0C1274.7,434.0 1278.7,435.2 1282.0,435.0C1285.3,434.8 1287.7,435.0 1290.0,433.0C1292.3,431.0 1293.7,425.3 1296.0,423.0C1298.3,420.7 1301.0,420.3 1304.0,419.0C1307.0,417.7 1311.2,415.8 1314.0,415.0C1316.8,414.2 1319.8,414.2 1321.0,414.0Z" fill="#e04929"/>
<path d="M1336.0,498.0C1336.4,498.7 1338.0,500.0 1338.4,502.0C1338.8,504.0 1338.0,507.2 1338.4,510.0C1338.8,512.8 1339.8,516.3 1340.6,519.0C1341.4,521.7 1341.8,524.2 1343.0,526.0C1344.2,527.8 1347.2,529.3 1348.0,530.0C1348.5,530.8 1350.3,533.3 1351.0,535.0C1351.7,536.7 1352.2,538.4 1352.0,540.0C1351.8,541.6 1351.0,543.5 1350.0,544.5C1349.0,545.5 1347.7,546.0 1346.0,546.0C1344.3,546.0 1341.3,545.8 1340.0,544.5C1338.7,543.2 1338.9,540.5 1338.4,538.5C1337.9,536.5 1337.7,533.9 1336.9,532.4C1336.1,530.9 1334.8,530.7 1333.8,529.4C1332.8,528.1 1331.0,526.6 1330.8,524.8C1330.5,523.0 1332.5,519.9 1332.3,518.8C1332.0,517.7 1330.6,517.6 1329.3,518.0C1328.0,518.4 1325.8,519.7 1324.7,521.1C1323.6,522.5 1322.8,524.4 1322.5,526.3C1322.2,528.2 1322.6,530.4 1323.2,532.4C1323.8,534.4 1326.0,536.7 1326.3,538.5C1326.5,540.3 1326.0,541.8 1324.7,543.0C1323.4,544.2 1320.7,545.2 1318.7,546.0C1316.7,546.8 1314.6,547.0 1312.6,547.5C1310.6,548.0 1308.6,548.8 1306.6,549.0C1304.6,549.2 1303.0,548.7 1300.5,549.0C1298.0,549.3 1294.0,550.1 1291.5,550.6C1289.0,551.1 1287.4,552.1 1285.4,552.1C1283.4,552.1 1280.8,551.6 1279.3,550.6C1277.8,549.6 1277.8,547.5 1276.3,546.0C1274.8,544.5 1272.3,543.0 1270.3,541.5C1268.3,540.0 1266.2,538.5 1264.2,537.0C1262.2,535.5 1259.7,533.9 1258.2,532.4C1256.7,530.9 1256.1,529.2 1255.1,527.9C1254.1,526.6 1252.8,525.8 1252.1,524.8C1251.3,523.8 1250.6,522.9 1250.6,521.8C1250.6,520.7 1251.3,518.5 1252.0,518.0C1252.7,517.5 1254.5,518.8 1255.0,519.0C1256.0,518.0 1258.9,514.5 1261.2,512.7C1263.5,510.9 1265.8,509.4 1268.8,508.2C1271.8,506.9 1276.5,506.0 1279.3,505.2C1282.1,504.4 1283.4,504.2 1285.4,503.6C1287.4,503.0 1289.5,501.8 1291.5,501.4C1293.5,501.0 1295.0,501.5 1297.5,501.4C1300.0,501.3 1303.3,500.7 1306.6,500.6C1309.9,500.5 1314.7,500.9 1317.2,500.6C1319.7,500.4 1320.6,499.9 1321.7,499.1C1322.8,498.4 1322.5,496.4 1324.0,496.1C1325.5,495.9 1328.8,497.3 1330.8,497.6C1332.8,497.9 1335.1,497.9 1336.0,498.0Z" fill="#fdd597"/>
<path d="M1168.0,458.0C1169.5,458.7 1174.3,460.6 1177.0,462.0C1179.7,463.4 1181.9,464.6 1184.4,466.3C1186.9,468.0 1190.7,471.1 1192.0,472.0C1191.5,472.8 1189.7,474.6 1188.9,476.8C1188.1,479.0 1187.7,481.9 1187.4,485.0C1187.1,488.1 1186.5,492.6 1187.1,495.3C1187.8,498.1 1189.9,499.8 1191.3,501.5C1192.7,503.2 1193.0,504.9 1195.4,505.7C1197.8,506.5 1202.8,505.9 1205.9,506.2C1209.0,506.4 1212.3,506.6 1214.2,507.2C1216.1,507.8 1216.3,509.4 1217.3,509.9C1218.3,510.4 1219.5,510.0 1220.0,510.0C1219.9,510.8 1219.3,513.3 1219.4,515.0C1219.5,516.7 1220.7,518.2 1220.5,520.0C1220.3,521.8 1218.9,524.1 1218.4,525.5C1217.9,526.9 1216.8,528.1 1217.3,528.6C1217.8,529.1 1220.3,528.2 1221.5,528.6C1222.7,529.0 1224.4,529.7 1224.6,530.7C1224.8,531.8 1223.4,533.5 1222.5,534.9C1221.6,536.3 1220.6,538.0 1219.4,539.0C1218.2,540.0 1216.6,540.3 1215.2,541.0C1213.8,541.7 1212.2,542.8 1211.0,543.0C1209.8,543.2 1208.3,542.8 1208.0,542.0C1207.7,541.2 1208.5,539.2 1209.0,538.0C1209.5,536.8 1211.0,535.8 1211.0,535.0C1211.0,534.2 1209.8,533.0 1209.0,533.0C1208.2,533.0 1206.9,534.8 1206.0,535.0C1205.1,535.2 1204.7,534.5 1203.8,534.0C1202.9,533.5 1201.5,531.8 1200.6,532.0C1199.7,532.2 1199.1,533.7 1198.6,535.0C1198.1,536.3 1198.0,538.5 1197.5,540.0C1197.0,541.5 1196.3,542.8 1195.4,544.0C1194.5,545.2 1193.4,547.2 1192.3,547.4C1191.2,547.6 1189.7,546.2 1189.0,545.0C1188.3,543.8 1189.0,541.1 1188.0,540.3C1187.0,539.5 1184.2,539.4 1183.0,540.3C1181.8,541.2 1182.8,545.0 1181.0,545.7C1179.2,546.4 1174.9,545.2 1172.0,544.7C1169.1,544.2 1166.7,543.6 1163.5,542.5C1160.3,541.4 1156.2,539.2 1152.6,538.0C1149.0,536.8 1145.0,535.3 1141.7,535.0C1138.4,534.7 1136.3,535.3 1133.0,536.0C1129.7,536.7 1125.2,538.8 1122.0,539.0C1118.8,539.2 1114.9,537.3 1113.5,537.0C1114.6,535.7 1118.5,532.5 1120.0,529.4C1121.5,526.3 1121.7,522.6 1122.2,518.6C1122.8,514.6 1122.4,508.9 1123.3,505.5C1124.2,502.1 1126.3,500.1 1127.6,497.9C1128.9,495.7 1131.1,494.5 1130.9,492.5C1130.7,490.5 1127.0,488.2 1126.5,486.0C1126.0,483.8 1126.2,481.0 1127.6,479.4C1129.0,477.8 1132.1,477.1 1135.2,476.2C1138.3,475.3 1142.5,475.1 1146.1,474.0C1149.7,472.9 1154.1,471.7 1157.0,469.7C1159.9,467.7 1161.7,463.9 1163.5,462.0C1165.3,460.1 1167.2,458.7 1168.0,458.0Z" fill="#fef3e1"/>
<path d="M1030.0,408.0C1030.1,406.7 1029.7,402.4 1030.4,400.0C1031.1,397.6 1033.1,395.9 1034.3,393.3C1035.5,390.8 1037.3,387.6 1037.8,384.7C1038.2,381.8 1036.6,378.3 1037.0,376.0C1037.4,373.7 1038.7,372.1 1040.4,370.7C1042.1,369.2 1044.5,369.0 1047.4,367.3C1050.3,365.6 1054.9,361.6 1057.8,360.3C1060.7,359.0 1061.6,359.7 1064.8,359.4C1068.0,359.1 1073.5,359.8 1077.0,358.6C1080.5,357.5 1083.2,353.8 1085.7,352.5C1088.2,351.2 1090.0,350.6 1091.7,350.7C1093.4,350.8 1094.9,351.1 1096.1,353.3C1097.3,355.5 1098.5,362.2 1099.0,364.0C1098.8,365.7 1097.7,371.3 1097.8,374.2C1097.9,377.1 1098.2,379.4 1099.6,381.2C1101.0,382.9 1104.8,383.0 1106.5,384.7C1108.2,386.4 1109.4,388.7 1110.0,391.6C1110.6,394.5 1109.1,400.0 1110.0,402.0C1110.9,404.0 1112.3,404.4 1115.2,403.8C1118.1,403.2 1124.8,400.4 1127.4,398.6C1130.0,396.9 1129.5,393.9 1130.9,393.3C1132.3,392.7 1133.8,394.2 1136.1,395.1C1138.4,396.0 1142.2,397.2 1144.8,398.6C1147.5,400.0 1149.5,402.3 1152.0,403.5C1154.5,404.7 1157.8,404.8 1160.0,406.0C1162.2,407.2 1163.9,408.7 1165.0,411.0C1166.1,413.3 1165.8,417.8 1166.5,420.0C1167.2,422.2 1168.8,422.5 1169.0,424.0C1169.2,425.5 1168.9,427.2 1168.0,429.0C1167.1,430.8 1164.5,433.3 1163.5,435.0C1162.5,436.7 1161.5,437.4 1162.0,439.4C1162.5,441.4 1165.3,444.9 1166.5,447.0C1167.7,449.1 1168.8,450.2 1169.0,452.0C1169.2,453.8 1168.2,457.0 1168.0,458.0C1167.2,458.7 1165.3,460.1 1163.5,462.0C1161.7,463.9 1159.9,467.7 1157.0,469.7C1154.1,471.7 1149.7,472.9 1146.1,474.0C1142.5,475.1 1138.3,475.3 1135.2,476.2C1132.1,477.1 1129.0,477.8 1127.6,479.4C1126.2,481.0 1126.0,483.8 1126.5,486.0C1127.0,488.2 1130.7,490.5 1130.9,492.5C1131.1,494.5 1128.9,495.7 1127.6,497.9C1126.3,500.1 1124.2,502.1 1123.3,505.5C1122.4,508.9 1122.8,514.6 1122.2,518.6C1121.7,522.6 1121.5,526.3 1120.0,529.4C1118.5,532.5 1114.6,535.7 1113.5,537.0C1112.0,537.2 1107.3,538.5 1104.8,538.0C1102.3,537.5 1100.8,535.4 1098.3,534.0C1095.8,532.6 1092.9,531.0 1089.6,529.5C1086.3,528.0 1081.8,526.6 1078.7,525.0C1075.6,523.4 1072.7,522.0 1071.0,520.0C1069.3,518.0 1070.6,514.9 1068.8,513.0C1067.0,511.1 1063.8,509.8 1060.3,508.7C1056.8,507.6 1051.5,507.7 1047.6,506.6C1043.7,505.6 1039.3,505.2 1037.0,502.4C1034.7,499.6 1034.6,493.2 1033.8,489.6C1033.0,486.0 1032.8,484.2 1032.0,481.0C1031.2,477.8 1030.3,473.3 1029.0,470.5C1027.7,467.7 1025.8,466.6 1024.4,464.3C1023.0,462.0 1021.3,460.3 1020.7,456.8C1020.1,453.3 1020.1,446.1 1020.7,443.4C1021.3,440.7 1022.0,441.9 1024.4,440.4C1026.8,438.9 1032.2,437.1 1034.9,434.4C1037.7,431.6 1039.8,427.0 1040.9,423.9C1042.0,420.8 1041.8,417.9 1041.6,415.7C1041.3,413.5 1041.3,411.8 1039.4,410.5C1037.5,409.2 1031.6,408.4 1030.0,408.0Z" fill="#fdd597"/>
</g>
<path d="M375.95,206.76 372.76,209.95 368.24,209.95 365.05,206.76 365.05,202.24 368.24,199.05 372.76,199.05 375.95,202.24Z" fill="none" stroke="#ee2412" stroke-width="3.2"/>
<circle cx="370.5" cy="204.5" r="2.4" fill="#ee2412"/>
<path d="M235.65,299.96 232.46,303.15 227.94,303.15 224.75,299.96 224.75,295.44 227.94,292.25 232.46,292.25 235.65,295.44Z" fill="none" stroke="#ee2412" stroke-width="3.2"/>
<circle cx="230.2" cy="297.7" r="2.4" fill="#ee2412"/>
<path d="M506.55,241.26 503.36,244.45 498.84,244.45 495.65,241.26 495.65,236.74 498.84,233.55 503.36,233.55 506.55,236.74Z" fill="none" stroke="#ee2412" stroke-width="3.2"/>
<circle cx="501.1" cy="239" r="2.4" fill="#ee2412"/>
<path d="M589.55,132.66 586.36,135.85 581.84,135.85 578.65,132.66 578.65,128.14 581.84,124.95 586.36,124.95 589.55,128.14Z" fill="none" stroke="#ee2412" stroke-width="3.2"/>
<circle cx="584.1" cy="130.4" r="2.4" fill="#ee2412"/>
<path d="M726.25,218.56 723.06,221.75 718.54,221.75 715.35,218.56 715.35,214.04 718.54,210.85 723.06,210.85 726.25,214.04Z" fill="none" stroke="#ee2412" stroke-width="3.2"/>
<circle cx="720.8" cy="216.3" r="2.4" fill="#ee2412"/>
<path d="M497.55,302.76 494.36,305.95 489.84,305.95 486.65,302.76 486.65,298.24 489.84,295.05 494.36,295.05 497.55,298.24Z" fill="none" stroke="#ee2412" stroke-width="3.2"/>
<circle cx="492.1" cy="300.5" r="2.4" fill="#ee2412"/>
<path d="M536.35,375.76 533.16,378.95 528.64,378.95 525.45,375.76 525.45,371.24 528.64,368.05 533.16,368.05 536.35,371.24Z" fill="none" stroke="#ee2412" stroke-width="3.2"/>
<circle cx="530.9" cy="373.5" r="2.4" fill="#ee2412"/>
<path d="M714.55,316.36 711.36,319.55 706.84,319.55 703.65,316.36 703.65,311.84 706.84,308.65 711.36,308.65 714.55,311.84Z" fill="none" stroke="#ee2412" stroke-width="3.2"/>
<circle cx="709.1" cy="314.1" r="2.4" fill="#ee2412"/>
<path d="M313.95,462.76 310.76,465.95 306.24,465.95 303.05,462.76 303.05,458.24 306.24,455.05 310.76,455.05 313.95,458.24Z" fill="none" stroke="#ee2412" stroke-width="3.2"/>
<circle cx="308.5" cy="460.5" r="2.4" fill="#ee2412"/>
<path d="M595.85,420.36 592.66,423.55 588.14,423.55 584.95,420.36 584.95,415.84 588.14,412.65 592.66,412.65 595.85,415.84Z" fill="none" stroke="#ee2412" stroke-width="3.2"/>
<circle cx="590.4" cy="418.1" r="2.4" fill="#ee2412"/>
<path d="M443.05,498.16 439.86,501.35 435.34,501.35 432.15,498.16 432.15,493.64 435.34,490.45 439.86,490.45 443.05,493.64Z" fill="none" stroke="#ee2412" stroke-width="3.2"/>
<circle cx="437.6" cy="495.9" r="2.4" fill="#ee2412"/>
<path d="M424.15,531.56 420.96,534.75 416.44,534.75 413.25,531.56 413.25,527.04 416.44,523.85 420.96,523.85 424.15,527.04Z" fill="none" stroke="#ee2412" stroke-width="3.2"/>
<circle cx="418.7" cy="529.3" r="2.4" fill="#ee2412"/>
<path d="M501.75,555.06 498.56,558.25 494.04,558.25 490.85,555.06 490.85,550.54 494.04,547.35 498.56,547.35 501.75,550.54Z" fill="none" stroke="#ee2412" stroke-width="3.2"/>
<circle cx="496.3" cy="552.8" r="2.4" fill="#ee2412"/>
<circle cx="405.9" cy="407.4" r="10.3" fill="#dd2a1f"/>
<text x="349.6" y="179.5" font-family='"Liberation Serif", "Times New Roman", serif' font-size="16" fill="#262626" textLength="39" lengthAdjust="spacingAndGlyphs">15.9%</text>
<text x="184.2" y="249.5" font-family='"Liberation Serif", "Times New Roman", serif' font-size="16" fill="#262626" textLength="39.7" lengthAdjust="spacingAndGlyphs">19.9%</text>
<text x="475.6" y="156.3" font-family='"Liberation Serif", "Times New Roman", serif' font-size="16" fill="#262626" textLength="39.6" lengthAdjust="spacingAndGlyphs">10.4%</text>
<text x="593.9" y="86" font-family='"Liberation Serif", "Times New Roman", serif' font-size="16" fill="#262626" textLength="39.7" lengthAdjust="spacingAndGlyphs">16.7%</text>
<text x="711.5" y="206.8" font-family='"Liberation Serif", "Times New Roman", serif' font-size="16" fill="#262626" textLength="39.2" lengthAdjust="spacingAndGlyphs">17.7%</text>
<text x="532.3" y="282.2" font-family='"Liberation Serif", "Times New Roman", serif' font-size="16" fill="#262626" textLength="40.4" lengthAdjust="spacingAndGlyphs">11.7%</text>
<text x="577.6" y="317.4" font-family='"Liberation Serif", "Times New Roman", serif' font-size="16" fill="#262626" textLength="39.8" lengthAdjust="spacingAndGlyphs">14.9%</text>
<text x="684.5" y="294.6" font-family='"Liberation Serif", "Times New Roman", serif' font-size="16" fill="#262626" textLength="38.2" lengthAdjust="spacingAndGlyphs">18.1%</text>
<text x="412.9" y="353.9" font-family='"Liberation Serif", "Times New Roman", serif' font-size="16" fill="#262626" textLength="40" lengthAdjust="spacingAndGlyphs">18.3%</text>
<text x="318" y="430.8" font-family='"Liberation Serif", "Times New Roman", serif' font-size="16" fill="#262626" textLength="39.6" lengthAdjust="spacingAndGlyphs">18.5%</text>
<text x="610.6" y="388" font-family='"Liberation Serif", "Times New Roman", serif' font-size="16" fill="#262626" textLength="38.4" lengthAdjust="spacingAndGlyphs">18.1%</text>
<text x="486.2" y="462.3" font-family='"Liberation Serif", "Times New Roman", serif' font-size="16" fill="#262626" textLength="40.2" lengthAdjust="spacingAndGlyphs">18.1%</text>
<text x="353.2" y="537" font-family='"Liberation Serif", "Times New Roman", serif' font-size="16" fill="#262626" textLength="40.5" lengthAdjust="spacingAndGlyphs">2.5%*</text>
<text x="509.7" y="523.4" font-family='"Liberation Serif", "Times New Roman", serif' font-size="16" fill="#262626" textLength="36.7" lengthAdjust="spacingAndGlyphs">18.2%</text>
<text x="50.6" y="44.3" font-family='"Liberation Serif", "Times New Roman", serif' font-size="27.2" fill="#111">(</text>
<text x="62.7" y="45.5" font-family='"Liberation Serif", "Times New Roman", serif' font-size="29.4" fill="#111" textLength="19.7" lengthAdjust="spacingAndGlyphs">A</text>
<text x="84.2" y="44.3" font-family='"Liberation Serif", "Times New Roman", serif' font-size="27.2" fill="#111">)</text>
<text x="837.2" y="51.6" font-family='"Liberation Serif", "Times New Roman", serif' font-size="27.2" fill="#111">(</text>
<text x="848.4" y="53.4" font-family='"Liberation Serif", "Times New Roman", serif' font-size="29.4" fill="#111" textLength="18" lengthAdjust="spacingAndGlyphs">B</text>
<text x="869" y="51.6" font-family='"Liberation Serif", "Times New Roman", serif' font-size="27.2" fill="#111">)</text>
<text x="2.1" y="348.6" font-family='"Liberation Sans", Arial, sans-serif' font-size="16" fill="#1a1a1a" textLength="76.2" lengthAdjust="spacingAndGlyphs" stroke="#1a1a1a" stroke-width="0.2">No. of HIV</text>
<text x="2.1" y="369.6" font-family='"Liberation Sans", Arial, sans-serif' font-size="16" fill="#1a1a1a" textLength="101.2" lengthAdjust="spacingAndGlyphs" stroke="#1a1a1a" stroke-width="0.2">reported case</text>
<rect x="6.7" y="393.5" width="40.5" height="30" fill="#f6f4fb" stroke="#222" stroke-width="1"/>
<text x="63" y="407.8" font-family='"Liberation Sans", Arial, sans-serif' font-size="18" fill="#111" textLength="41.5" lengthAdjust="spacingAndGlyphs" stroke="#111" stroke-width="0.2">&lt;200</text>
<rect x="6.7" y="423.5" width="40.5" height="30.3" fill="#cfd3ec" stroke="#222" stroke-width="1"/>
<text x="64.8" y="440.2" font-family='"Liberation Sans", Arial, sans-serif' font-size="18" fill="#111" textLength="68.9" lengthAdjust="spacingAndGlyphs" stroke="#111" stroke-width="0.2">201-300</text>
<rect x="6.7" y="453.8" width="40.5" height="29.8" fill="#87b2d6" stroke="#222" stroke-width="1"/>
<text x="62.9" y="474" font-family='"Liberation Sans", Arial, sans-serif' font-size="18" fill="#111" textLength="69.7" lengthAdjust="spacingAndGlyphs" stroke="#111" stroke-width="0.2">301-500</text>
<rect x="6.7" y="483.6" width="40.5" height="29.7" fill="#3f8ec1" stroke="#222" stroke-width="1"/>
<text x="64" y="505.1" font-family='"Liberation Sans", Arial, sans-serif' font-size="18" fill="#111" textLength="69.6" lengthAdjust="spacingAndGlyphs" stroke="#111" stroke-width="0.2">501-800</text>
<rect x="6.7" y="513.3" width="40.5" height="30" fill="#1b5891" stroke="#222" stroke-width="1"/>
<text x="62.9" y="533.9" font-family='"Liberation Sans", Arial, sans-serif' font-size="18" fill="#111" textLength="41.5" lengthAdjust="spacingAndGlyphs" stroke="#111" stroke-width="0.2">&gt;800</text>
<text x="809.7" y="328.5" font-family='"Liberation Sans", Arial, sans-serif' font-size="16" fill="#1a1a1a" textLength="102.3" lengthAdjust="spacingAndGlyphs" stroke="#1a1a1a" stroke-width="0.2">No. of sample</text>
<text x="809.7" y="350.4" font-family='"Liberation Sans", Arial, sans-serif' font-size="16" fill="#1a1a1a" textLength="83.2" lengthAdjust="spacingAndGlyphs" stroke="#1a1a1a" stroke-width="0.2">detected in</text>
<text x="809.7" y="371.3" font-family='"Liberation Sans", Arial, sans-serif' font-size="16" fill="#1a1a1a" textLength="72.7" lengthAdjust="spacingAndGlyphs" stroke="#1a1a1a" stroke-width="0.2">this study</text>
<rect x="820.7" y="389.7" width="39" height="27.5" fill="#fef3e1" stroke="#999" stroke-width="0.8"/>
<text x="884.5" y="409.6" font-family='"Liberation Sans", Arial, sans-serif' font-size="18.5" fill="#111" textLength="19.9" lengthAdjust="spacingAndGlyphs" stroke="#111" stroke-width="0.2">&lt;5</text>
<rect x="820.7" y="417.2" width="39" height="28.2" fill="#fdd597" stroke="#999" stroke-width="0.8"/>
<text x="885.6" y="438.2" font-family='"Liberation Sans", Arial, sans-serif' font-size="18.5" fill="#111" textLength="38.6" lengthAdjust="spacingAndGlyphs" stroke="#111" stroke-width="0.2">5-10</text>
<rect x="820.7" y="445.4" width="39" height="28.1" fill="#fc8e55" stroke="#999" stroke-width="0.8"/>
<text x="885.6" y="467" font-family='"Liberation Sans", Arial, sans-serif' font-size="18.5" fill="#111" textLength="47.3" lengthAdjust="spacingAndGlyphs" stroke="#111" stroke-width="0.2">10-20</text>
<rect x="820.7" y="473.5" width="39" height="27.6" fill="#e04929" stroke="#999" stroke-width="0.8"/>
<text x="885.6" y="496.7" font-family='"Liberation Sans", Arial, sans-serif' font-size="18.5" fill="#111" textLength="48.7" lengthAdjust="spacingAndGlyphs" stroke="#111" stroke-width="0.2">20-30</text>
<rect x="820.7" y="501.1" width="39" height="27.6" fill="#b1221b" stroke="#999" stroke-width="0.8"/>
<text x="886.3" y="523.6" font-family='"Liberation Sans", Arial, sans-serif' font-size="18.5" fill="#111" textLength="21.5" lengthAdjust="spacingAndGlyphs" stroke="#111" stroke-width="0.2">48</text>
<rect x="1504" y="416.1" width="28.3" height="24.2" fill="#f99a43" stroke="#bbb" stroke-width="0.6"/>
<text x="1551.1" y="432.8" font-family='"Liberation Sans", Arial, sans-serif' font-size="19" fill="#111" textLength="85.7" lengthAdjust="spacingAndGlyphs" stroke="#111" stroke-width="0.2">CRF01_AE</text>
<rect x="1504" y="445.1" width="28.3" height="24.5" fill="#62afc8" stroke="#bbb" stroke-width="0.6"/>
<text x="1552.7" y="461.8" font-family='"Liberation Sans", Arial, sans-serif' font-size="19" fill="#111" textLength="84.9" lengthAdjust="spacingAndGlyphs" stroke="#111" stroke-width="0.2">CRF07_BC</text>
<rect x="1504" y="475.1" width="28.3" height="24.2" fill="#8e62b3" stroke="#bbb" stroke-width="0.6"/>
<text x="1551.1" y="492.4" font-family='"Liberation Sans", Arial, sans-serif' font-size="19" fill="#111" textLength="85.7" lengthAdjust="spacingAndGlyphs" stroke="#111" stroke-width="0.2">CRF08_BC</text>
<rect x="1504" y="505.7" width="28.3" height="24.2" fill="#b24f17" stroke="#bbb" stroke-width="0.6"/>
<text x="1552.7" y="523" font-family='"Liberation Sans", Arial, sans-serif' font-size="19" fill="#111" textLength="95.2" lengthAdjust="spacingAndGlyphs" stroke="#111" stroke-width="0.2">CRF55_01B</text>
<rect x="1504" y="535.5" width="28.3" height="24.5" fill="#31637a" stroke="#bbb" stroke-width="0.6"/>
<text x="1554.7" y="553" font-family='"Liberation Sans", Arial, sans-serif' font-size="19" fill="#111" textLength="11.1" lengthAdjust="spacingAndGlyphs" stroke="#111" stroke-width="0.2">B</text>
<g fill="none" stroke="#000" stroke-width="3.9" stroke-linejoin="round" stroke-linecap="round">
<path d="M240.0,409.0C238.8,409.2 235.7,410.6 233.0,410.0C230.3,409.4 227.5,405.5 224.0,405.5C220.5,405.5 216.0,409.6 212.0,410.0C208.0,410.4 203.7,409.5 200.0,408.0C196.3,406.5 193.3,402.8 190.0,401.0C186.7,399.2 183.3,397.7 180.0,397.5C176.7,397.3 173.5,399.2 170.0,400.0C166.5,400.8 161.7,402.9 158.8,402.5C155.8,402.1 154.8,399.4 152.5,397.5C150.2,395.6 147.5,392.2 145.0,391.0C142.5,389.8 140.4,390.3 137.5,390.0C134.6,389.7 129.2,390.7 127.5,389.0C125.8,387.3 127.9,382.8 127.5,380.0C127.1,377.2 125.0,375.0 125.0,372.5C125.0,370.0 125.8,366.9 127.5,365.0C129.2,363.1 133.8,362.8 135.0,361.0C136.2,359.2 133.8,356.2 135.0,354.0C136.2,351.8 139.4,349.7 142.5,347.5C145.6,345.3 150.4,342.2 153.8,341.0C157.1,339.8 159.4,339.2 162.5,340.0C165.6,340.8 169.6,346.0 172.5,346.0C175.4,346.0 177.8,343.5 180.0,340.0C182.2,336.5 184.6,330.8 186.0,325.0C187.4,319.2 188.5,310.8 188.5,305.0C188.5,299.2 188.1,294.4 186.2,290.0C184.4,285.6 180.2,281.5 177.5,278.8C174.8,276.0 172.5,274.4 170.0,273.8C167.5,273.1 165.4,273.3 162.5,275.0C159.6,276.7 155.8,282.7 152.5,283.8C149.2,284.8 145.6,281.5 142.5,281.2C139.4,281.0 135.8,283.5 133.8,282.5C131.7,281.5 131.7,275.8 130.0,275.0C128.3,274.2 126.0,276.0 123.8,277.5C121.5,279.0 119.8,283.8 116.2,283.8C112.7,283.8 106.9,279.0 102.5,277.5C98.1,276.0 92.3,276.0 90.0,275.0C87.7,274.0 88.1,272.9 88.8,271.2C89.4,269.6 93.3,266.5 93.8,265.0C94.2,263.5 91.9,264.0 91.2,262.5C90.6,261.0 90.8,258.5 90.0,256.2C89.2,254.0 88.8,250.8 86.2,248.8C83.8,246.7 79.0,244.6 75.0,243.8C71.0,242.9 65.6,244.4 62.5,243.8C59.4,243.1 58.8,240.8 56.2,240.0C53.8,239.2 50.0,238.3 47.5,238.8C45.0,239.2 42.5,240.4 41.2,242.5C40.0,244.6 41.5,250.6 40.0,251.2C38.5,251.9 35.0,248.1 32.5,246.2C30.0,244.4 26.5,243.3 25.0,240.0C23.5,236.7 24.6,229.2 23.8,226.2C22.9,223.3 20.6,224.6 20.0,222.5C19.4,220.4 19.8,215.8 20.0,213.8C20.2,211.7 20.2,210.8 21.2,210.0C22.3,209.2 24.6,208.5 26.2,208.8C27.9,209.0 29.2,209.4 31.2,211.2C33.3,213.1 36.7,218.8 38.8,220.0C40.8,221.2 40.2,221.0 43.8,218.8C47.3,216.5 56.5,208.3 60.0,206.2C63.5,204.2 62.9,207.7 65.0,206.2C67.1,204.8 69.6,201.7 72.5,197.5C75.4,193.3 79.8,184.7 82.5,181.2C85.2,177.8 86.9,177.4 88.8,177.0C90.6,176.6 92.1,177.4 93.8,178.8C95.4,180.1 96.9,184.0 98.8,185.0C100.6,186.0 102.3,184.2 105.0,185.0C107.7,185.8 112.1,187.7 115.0,190.0C117.9,192.3 120.0,197.1 122.5,198.8C125.0,200.4 126.9,199.2 130.0,200.0C133.1,200.8 137.5,201.9 141.2,203.8C145.0,205.6 149.4,210.4 152.5,211.2C155.6,212.1 157.9,208.8 160.0,208.8C162.1,208.8 163.3,210.0 165.0,211.2C166.7,212.5 168.3,215.8 170.0,216.2C171.7,216.7 172.1,217.1 175.0,213.8C177.9,210.4 185.0,200.2 187.5,196.2C190.0,192.3 189.6,192.3 190.0,190.0C190.4,187.7 189.4,184.2 190.0,182.5C190.6,180.8 192.1,180.4 193.8,180.0C195.4,179.6 197.3,180.2 200.0,180.0C202.7,179.8 206.8,180.7 210.0,179.0C213.2,177.3 216.3,172.0 219.0,170.0C221.7,168.0 224.8,167.5 226.0,167.0"/>
<path d="M226.0,167.0C227.9,165.2 233.9,157.6 237.5,156.2C241.1,154.9 244.6,159.4 247.5,158.8C250.4,158.1 252.7,155.6 255.0,152.5C257.3,149.4 260.0,145.0 261.2,140.0C262.5,135.0 261.5,126.5 262.5,122.5C263.5,118.5 265.0,118.0 267.5,116.2C270.0,114.5 274.4,112.4 277.5,112.0C280.6,111.6 284.0,112.6 286.2,113.8C288.5,114.9 289.6,115.6 291.2,118.8C292.9,121.9 294.4,130.0 296.2,132.5C298.1,135.0 301.0,132.1 302.5,133.8C304.0,135.4 304.0,139.4 305.0,142.5C306.0,145.6 307.1,150.8 308.8,152.5C310.4,154.2 312.3,154.2 315.0,152.5C317.7,150.8 322.7,143.3 325.0,142.5C327.3,141.7 327.5,145.8 328.8,147.5C330.0,149.2 330.6,151.5 332.5,152.5C334.4,153.5 338.5,152.3 340.0,153.8C341.5,155.2 339.2,160.8 341.2,161.2C343.3,161.7 347.3,158.3 352.5,156.2C357.7,154.2 368.8,154.0 372.5,148.8C376.2,143.5 373.3,129.2 375.0,125.0C376.7,120.8 379.8,125.0 382.5,123.8C385.2,122.5 388.7,117.9 391.2,117.5C393.8,117.1 396.1,120.2 398.0,121.4C399.9,122.6 400.7,124.0 402.6,124.8C404.5,125.5 407.1,124.8 409.4,125.9C411.7,127.0 414.3,130.1 416.2,131.6C418.1,133.1 420.2,134.4 421.0,135.0"/>
<path d="M421.0,135.0C421.1,132.0 420.9,120.7 421.8,116.9C422.7,113.1 425.4,114.3 426.4,112.4C427.3,110.5 426.6,107.1 427.5,105.6C428.4,104.1 430.1,103.1 432.0,103.3C433.9,103.5 436.9,105.6 438.8,106.7C440.7,107.8 441.0,109.5 443.3,110.1C445.6,110.7 449.4,109.7 452.4,110.1C455.4,110.5 459.1,112.0 461.4,112.4C463.6,112.8 464.9,113.5 465.9,112.4C466.8,111.3 467.3,107.7 467.1,105.6C466.9,103.5 465.4,102.0 464.8,99.9C464.2,97.8 465.0,94.2 463.7,93.1C462.4,92.0 459.2,93.3 456.9,93.1C454.6,92.9 451.4,92.8 450.1,92.0C448.8,91.2 448.2,89.7 449.0,88.6C449.8,87.5 452.5,86.1 454.6,85.2C456.7,84.3 458.8,83.4 461.4,83.0C464.0,82.6 467.5,82.4 470.5,83.0C473.5,83.6 476.9,85.5 479.5,86.4C482.1,87.3 484.8,89.5 486.3,88.6C487.8,87.6 487.4,83.0 488.5,80.7C489.6,78.5 491.8,77.0 493.1,75.1C494.4,73.2 495.8,71.5 496.5,69.4C497.2,67.3 496.5,64.7 497.6,62.6C498.7,60.5 500.9,58.1 503.2,57.0C505.5,55.9 508.4,56.2 511.2,55.8C514.0,55.4 517.8,54.5 520.2,54.7C522.7,54.9 525.0,55.7 525.9,57.0C526.8,58.3 526.3,60.9 525.9,62.6C525.5,64.3 523.4,66.0 523.6,67.1C523.8,68.2 525.4,68.9 527.0,69.4C528.6,69.9 532.0,69.9 533.0,70.0"/>
<path d="M533.0,70.0C533.3,67.5 533.8,58.3 535.0,55.0C536.2,51.7 538.5,52.9 540.0,50.0C541.5,47.1 542.1,40.2 543.8,37.5C545.4,34.8 547.5,34.2 550.0,33.8C552.5,33.3 556.7,33.8 558.8,35.0C560.8,36.2 562.1,38.8 562.5,41.2C562.9,43.8 560.6,48.1 561.2,50.0C561.9,51.9 564.2,52.7 566.2,52.5C568.3,52.3 571.7,48.3 573.8,48.8C575.8,49.2 576.9,54.0 578.8,55.0C580.6,56.0 583.1,57.1 585.0,55.0C586.9,52.9 588.3,45.6 590.0,42.5C591.7,39.4 592.5,38.3 595.0,36.2C597.5,34.2 602.9,32.7 605.0,30.0C607.1,27.3 606.2,22.1 607.5,20.0C608.8,17.9 610.0,17.9 612.5,17.5C615.0,17.1 619.6,17.1 622.5,17.5C625.4,17.9 627.7,19.4 630.0,20.0C632.3,20.6 634.4,21.7 636.2,21.2C638.1,20.8 640.0,19.8 641.2,17.5C642.5,15.2 642.7,9.4 643.8,7.5C644.8,5.6 646.0,5.6 647.5,6.2C649.0,6.9 650.4,10.0 652.5,11.2C654.6,12.5 657.1,13.1 660.0,13.8C662.9,14.4 666.9,14.2 670.0,15.0C673.1,15.8 677.1,17.1 678.8,18.8C680.4,20.4 680.4,22.7 680.0,25.0C679.6,27.3 677.1,30.0 676.2,32.5C675.4,35.0 675.6,37.1 675.0,40.0C674.4,42.9 672.1,47.1 672.5,50.0C672.9,52.9 675.6,55.6 677.5,57.5C679.4,59.4 681.7,61.2 683.8,61.2C685.8,61.2 687.7,58.1 690.0,57.5C692.3,56.9 695.8,56.9 697.5,57.5C699.2,58.1 700.4,60.0 700.0,61.2C699.6,62.5 696.7,63.1 695.0,65.0C693.3,66.9 691.2,70.0 690.0,72.5C688.8,75.0 688.1,76.2 687.5,80.0C686.9,83.8 686.7,90.0 686.2,95.0C685.8,100.0 686.0,106.5 685.0,110.0C684.0,113.5 682.1,114.2 680.0,116.2C677.9,118.3 674.2,120.2 672.5,122.5C670.8,124.8 671.2,127.6 670.0,130.0C668.8,132.4 667.0,135.0 665.0,137.0C663.0,139.0 659.5,140.2 658.0,142.0C656.5,143.8 656.3,145.2 656.0,148.0C655.7,150.8 655.2,156.6 656.0,159.0C656.8,161.4 658.7,161.7 661.0,162.5C663.3,163.3 667.7,163.6 670.0,164.0C672.3,164.4 674.2,164.8 675.0,165.0"/>
<path d="M675.0,165.0C674.8,163.3 673.6,157.9 674.0,155.0C674.4,152.1 675.7,149.8 677.5,147.5C679.3,145.2 683.1,142.2 685.0,141.0C686.9,139.8 687.3,139.5 689.0,140.0C690.7,140.5 693.0,142.8 695.0,144.0C697.0,145.2 699.3,144.8 701.0,147.5C702.7,150.2 703.9,155.8 705.0,160.0C706.1,164.2 706.7,168.5 707.5,172.5C708.3,176.5 708.8,181.1 710.0,184.0C711.2,186.9 712.9,189.2 715.0,190.0C717.1,190.8 720.0,190.7 722.5,189.0C725.0,187.3 727.5,182.2 730.0,180.0C732.5,177.8 734.2,176.8 737.5,176.0C740.8,175.2 746.2,175.0 750.0,175.0C753.8,175.0 757.9,175.2 760.0,176.0C762.1,176.8 762.9,178.1 762.5,180.0C762.1,181.9 758.8,185.0 757.5,187.5C756.2,190.0 754.6,192.5 755.0,195.0C755.4,197.5 758.3,200.4 760.0,202.5C761.7,204.6 763.3,205.4 765.0,207.5C766.7,209.6 770.0,212.5 770.0,215.0C770.0,217.5 767.1,220.4 765.0,222.5C762.9,224.6 759.6,225.4 757.5,227.5C755.4,229.6 752.9,232.5 752.5,235.0C752.1,237.5 753.8,239.6 755.0,242.5C756.2,245.4 758.8,249.2 760.0,252.5C761.2,255.8 762.5,259.4 762.5,262.5C762.5,265.6 762.5,268.8 760.0,271.0C757.5,273.2 751.7,275.2 747.5,276.0C743.3,276.8 737.1,276.0 735.0,276.0"/>
<path d="M735.0,276.0C735.0,277.5 734.6,282.7 735.0,285.0C735.4,287.3 738.3,288.2 737.5,290.0C736.7,291.8 732.5,293.9 730.0,296.0C727.5,298.1 724.6,299.3 722.5,302.5C720.4,305.7 719.0,310.8 717.5,315.0C716.0,319.2 714.8,323.3 713.8,327.5C712.7,331.7 711.5,336.9 711.2,340.0C711.0,343.1 711.9,343.0 712.0,346.0C712.1,349.0 711.3,354.3 712.0,358.0C712.7,361.7 715.7,365.0 716.0,368.0C716.3,371.0 714.7,373.3 714.0,376.0C713.3,378.7 713.7,381.0 712.0,384.0C710.3,387.0 706.7,391.3 704.0,394.0C701.3,396.7 699.2,398.8 696.0,400.0C692.8,401.2 686.3,400.0 685.0,401.0C683.7,402.0 688.2,404.5 688.0,406.0C687.8,407.5 686.7,408.7 684.0,410.0C681.3,411.3 675.5,413.0 672.0,414.0C668.5,415.0 664.5,415.7 663.0,416.0"/>
<path d="M663.0,416.0C661.4,417.1 655.2,420.3 653.6,422.3C652.0,424.3 654.5,426.2 653.6,427.8C652.7,429.4 648.9,429.7 648.0,432.0C647.1,434.3 647.1,438.7 648.0,441.7C648.9,444.7 653.1,447.8 653.6,450.1C654.1,452.4 652.4,453.8 650.8,455.6C649.2,457.5 645.7,459.1 643.8,461.2C641.9,463.3 641.2,467.3 639.6,468.2C638.0,469.1 636.9,466.8 634.1,466.8C631.3,466.8 626.2,467.7 623.0,468.2C619.8,468.7 616.0,468.0 614.6,469.6C613.2,471.2 613.9,474.7 614.6,477.9C615.3,481.1 618.8,485.8 618.8,489.0C618.8,492.2 617.1,495.8 614.6,497.4C612.1,499.0 606.8,498.3 603.5,498.8C600.2,499.3 597.9,499.5 595.1,500.2C592.3,500.9 589.6,502.3 586.8,503.0C584.0,503.7 580.7,502.9 578.4,504.3C576.1,505.7 574.0,508.8 572.9,511.3C571.8,513.9 572.9,516.8 571.5,519.6C570.1,522.4 566.8,526.1 564.5,528.0C562.2,529.9 559.1,530.5 558.0,531.0"/>
<path d="M558.0,531.0C558.5,531.8 560.3,534.3 561.0,536.0C561.7,537.7 562.2,539.4 562.0,541.0C561.8,542.6 561.0,544.5 560.0,545.5C559.0,546.5 557.7,547.0 556.0,547.0C554.3,547.0 551.3,546.8 550.0,545.5C548.7,544.2 548.9,541.5 548.4,539.5C547.9,537.5 547.7,534.9 546.9,533.4C546.1,531.9 544.8,531.7 543.8,530.4C542.8,529.1 541.0,527.6 540.8,525.8C540.5,524.0 542.5,520.9 542.3,519.8C542.0,518.7 540.6,518.6 539.3,519.0C538.0,519.4 535.8,520.7 534.7,522.1C533.6,523.5 532.8,525.4 532.5,527.3C532.2,529.2 532.6,531.4 533.2,533.4C533.8,535.4 536.0,537.7 536.3,539.5C536.5,541.3 536.0,542.8 534.7,544.0C533.4,545.2 530.7,546.2 528.7,547.0C526.7,547.8 524.6,548.0 522.6,548.5C520.6,549.0 518.6,549.8 516.6,550.0C514.6,550.2 513.0,549.7 510.5,550.0C508.0,550.3 504.0,551.1 501.5,551.6C499.0,552.1 497.4,553.1 495.4,553.1C493.4,553.1 490.8,552.6 489.3,551.6C487.8,550.6 487.8,548.5 486.3,547.0C484.8,545.5 482.3,544.0 480.3,542.5C478.3,541.0 476.2,539.5 474.2,538.0C472.2,536.5 469.7,534.9 468.2,533.4C466.7,531.9 466.1,530.2 465.1,528.9C464.1,527.6 462.9,526.8 462.1,525.8C461.4,524.8 460.6,523.9 460.6,522.8C460.6,521.7 461.3,519.5 462.0,519.0C462.7,518.5 464.5,519.8 465.0,520.0"/>
<path d="M465.0,520.0C464.6,519.7 463.5,518.2 462.8,518.2C462.1,518.2 460.9,519.2 460.7,520.2C460.5,521.2 462.0,523.4 461.7,524.4C461.4,525.4 459.0,525.8 458.6,526.5C458.2,527.2 458.7,527.7 459.6,528.6C460.5,529.5 463.3,530.8 463.8,531.7C464.3,532.6 463.5,533.3 462.8,533.8C462.1,534.3 460.8,534.4 459.6,534.8C458.4,535.2 456.8,536.2 455.5,536.4C454.2,536.6 452.5,536.8 451.8,535.9C451.1,535.0 451.7,532.3 451.3,530.7C450.9,529.1 450.1,527.7 449.2,526.5C448.3,525.3 447.0,524.4 446.1,523.4C445.2,522.4 444.9,520.7 444.0,520.2C443.1,519.7 441.9,520.4 440.9,520.2C439.9,520.0 438.1,519.9 437.8,519.2C437.5,518.5 438.8,517.3 438.8,516.1C438.8,514.9 438.5,512.8 437.8,511.9C437.1,511.0 435.3,511.7 434.6,510.9C433.9,510.1 434.1,507.9 433.6,507.2C433.1,506.5 432.1,506.1 431.5,506.7C430.9,507.3 430.2,510.3 430.0,511.0"/>
<path d="M430.0,511.0C429.9,511.8 429.3,514.3 429.4,516.0C429.5,517.7 430.7,519.2 430.5,521.0C430.3,522.8 428.9,525.1 428.4,526.5C427.9,527.9 426.8,529.1 427.3,529.6C427.8,530.1 430.3,529.2 431.5,529.6C432.7,530.0 434.4,530.7 434.6,531.7C434.8,532.8 433.4,534.5 432.5,535.9C431.6,537.3 430.6,539.0 429.4,540.0C428.2,541.0 426.6,541.3 425.2,542.0C423.8,542.7 422.2,543.8 421.0,544.0C419.8,544.2 418.3,543.8 418.0,543.0C417.7,542.2 418.5,540.2 419.0,539.0C419.5,537.8 421.0,536.8 421.0,536.0C421.0,535.2 419.8,534.0 419.0,534.0C418.2,534.0 416.9,535.8 416.0,536.0C415.1,536.2 414.7,535.5 413.8,535.0C412.9,534.5 411.5,532.8 410.6,533.0C409.7,533.2 409.1,534.7 408.6,536.0C408.1,537.3 408.0,539.5 407.5,541.0C407.0,542.5 406.3,543.8 405.4,545.0C404.5,546.2 403.4,548.2 402.3,548.4C401.2,548.6 399.7,547.2 399.0,546.0C398.3,544.8 399.0,542.1 398.0,541.3C397.0,540.5 394.2,540.4 393.0,541.3C391.8,542.2 392.8,546.0 391.0,546.7C389.2,547.4 384.9,546.2 382.0,545.7C379.1,545.2 376.7,544.6 373.5,543.5C370.3,542.4 366.2,540.2 362.6,539.0C359.0,537.8 355.0,536.3 351.7,536.0C348.4,535.7 346.3,536.3 343.0,537.0C339.7,537.7 335.2,539.8 332.0,540.0C328.8,540.2 324.9,538.3 323.5,538.0"/>
<path d="M323.5,538.0C322.1,538.2 317.3,539.5 314.8,539.0C312.3,538.5 310.8,536.4 308.3,535.0C305.8,533.6 302.9,532.0 299.6,530.5C296.3,529.0 291.8,527.6 288.7,526.0C285.6,524.4 282.6,523.0 281.0,521.0C279.4,519.0 280.6,515.9 278.8,514.0C277.0,512.1 273.8,510.8 270.3,509.7C266.8,508.6 261.5,508.7 257.6,507.6C253.7,506.6 249.3,506.2 247.0,503.4C244.7,500.6 244.6,494.2 243.8,490.6C243.0,487.0 242.8,485.2 242.0,482.0C241.2,478.8 240.3,474.3 239.0,471.5C237.7,468.7 235.8,467.6 234.4,465.3C233.0,463.0 231.3,461.3 230.7,457.8C230.1,454.3 230.1,447.1 230.7,444.4C231.3,441.7 232.0,442.9 234.4,441.4C236.8,439.9 242.2,438.1 244.9,435.4C247.7,432.6 249.8,428.0 250.9,424.9C252.0,421.8 251.8,418.9 251.6,416.7C251.3,414.5 251.3,412.8 249.4,411.5C247.5,410.2 241.6,409.4 240.0,409.0"/>
<path d="M226.0,167.0C228.5,166.8 237.9,165.5 241.0,166.0C244.1,166.5 243.7,166.8 244.5,170.0C245.3,173.2 245.1,180.8 246.0,185.0C246.9,189.2 251.3,192.7 250.0,195.0C248.7,197.3 240.2,197.7 238.0,199.0C235.8,200.3 235.3,201.0 237.0,203.0C238.7,205.0 247.5,208.5 248.0,211.0C248.5,213.5 240.2,215.7 240.0,218.0C239.8,220.3 245.5,222.7 247.0,225.0C248.5,227.3 247.5,228.3 249.0,232.0C250.5,235.7 254.8,240.7 256.0,247.0C257.2,253.3 253.7,264.7 256.0,270.0C258.3,275.3 266.4,277.5 270.0,278.8C273.6,280.0 275.0,276.5 277.5,277.5C280.0,278.5 282.5,284.4 285.0,285.0C287.5,285.6 290.0,281.1 292.5,281.2C295.0,281.4 297.8,284.3 300.0,286.0C302.2,287.7 303.5,290.5 306.0,291.4C308.5,292.3 312.5,290.8 315.0,291.4C317.5,292.0 318.5,293.8 321.0,295.2C323.5,296.6 326.5,298.0 330.0,299.7C333.5,301.4 338.5,303.6 342.0,305.6C345.5,307.6 349.2,309.6 351.0,311.6C352.8,313.6 353.3,316.1 353.0,317.6C352.7,319.1 351.0,320.0 349.4,320.6C347.8,321.2 344.8,320.7 343.4,321.3C342.0,321.9 341.4,321.9 341.0,324.3C340.6,326.8 340.7,333.7 341.0,336.0C341.3,338.3 342.7,337.7 343.0,338.0"/>
<path d="M343.0,338.0C343.1,338.5 342.3,340.1 343.4,340.8C344.5,341.5 347.6,341.4 349.4,342.3C351.1,343.2 353.1,345.1 353.9,346.0C354.6,346.9 355.2,346.1 353.9,347.4C352.6,348.6 348.3,351.3 346.1,353.5C343.9,355.7 343.2,359.1 340.9,360.4C338.6,361.7 334.8,360.3 332.2,361.3C329.6,362.3 328.4,365.8 325.2,366.5C322.0,367.2 315.7,365.9 313.0,365.7C310.3,365.4 309.7,365.1 309.0,365.0"/>
<path d="M309.0,365.0C308.5,363.2 307.3,356.5 306.1,354.3C304.9,352.1 303.4,351.8 301.7,351.7C300.0,351.6 298.1,352.2 295.7,353.5C293.2,354.8 290.5,358.5 287.0,359.6C283.5,360.8 278.0,360.1 274.8,360.4C271.6,360.7 270.7,360.0 267.8,361.3C264.9,362.6 260.3,366.6 257.4,368.3C254.5,370.0 252.1,370.2 250.4,371.7C248.7,373.1 247.4,374.7 247.0,377.0C246.6,379.3 248.2,382.8 247.8,385.7C247.4,388.6 245.5,391.8 244.3,394.3C243.1,396.9 241.1,398.6 240.4,401.0C239.7,403.4 240.1,407.7 240.0,409.0"/>
<path d="M343.0,338.0C344.1,337.2 348.1,334.8 349.4,333.3C350.7,331.8 348.4,330.1 350.9,328.8C353.4,327.6 361.3,327.3 364.3,325.8C367.3,324.3 367.8,322.6 368.8,319.9C369.8,317.2 369.3,312.4 370.3,309.4C371.3,306.4 372.8,303.5 374.8,301.9C376.8,300.3 379.3,299.9 382.3,299.7C385.3,299.4 390.2,300.8 392.8,300.4C395.4,300.0 396.6,299.1 398.0,297.4C399.4,295.7 400.4,292.6 401.0,290.0C401.6,287.4 401.1,283.7 401.7,281.7C402.3,279.7 403.5,278.8 404.7,278.0C405.9,277.2 408.3,277.2 409.0,277.0"/>
<path d="M409.0,277.0C410.0,276.7 412.5,276.6 415.0,275.0C417.5,273.4 422.1,270.4 423.8,267.5C425.4,264.6 424.0,260.4 425.0,257.5C426.0,254.6 427.9,252.9 430.0,250.0C432.1,247.1 435.0,242.3 437.5,240.0C440.0,237.7 442.1,235.6 445.0,236.2C447.9,236.9 453.3,242.7 455.0,244.0"/>
<path d="M455.0,244.0C455.8,242.9 458.3,239.4 460.0,237.5C461.7,235.6 463.8,234.4 465.0,232.5C466.2,230.6 467.9,228.1 467.5,226.2C467.1,224.4 464.8,222.3 462.5,221.2C460.2,220.2 455.4,221.0 453.8,220.0C452.1,219.0 451.9,217.1 452.5,215.0C453.1,212.9 456.5,210.0 457.5,207.5C458.5,205.0 457.9,202.7 458.8,200.0C459.6,197.3 460.0,193.3 462.5,191.2C465.0,189.2 471.7,189.0 473.8,187.5C475.8,186.0 477.1,184.0 475.0,182.5C472.9,181.0 463.8,180.2 461.2,178.8C458.8,177.3 459.0,175.2 460.0,173.8C461.0,172.3 466.2,171.8 467.5,170.0C468.8,168.2 468.8,165.2 468.0,163.0C467.2,160.8 466.3,157.7 463.0,157.0C459.7,156.3 452.5,158.5 448.0,159.0C443.5,159.5 438.6,161.2 436.0,160.0C433.4,158.8 433.7,153.5 432.5,152.0C431.3,150.5 430.0,151.8 428.6,150.8C427.2,149.9 425.2,148.2 424.1,146.3C423.0,144.4 422.3,141.4 421.8,139.5C421.3,137.6 421.1,135.8 421.0,135.0"/>
<path d="M455.0,244.0C455.8,245.4 457.9,249.8 460.0,252.5C462.1,255.2 463.8,257.9 467.5,260.0C471.2,262.1 478.3,264.6 482.5,265.0C486.7,265.4 490.0,261.2 492.5,262.5C495.0,263.8 496.2,269.6 497.5,272.5C498.8,275.4 498.3,278.5 500.0,280.0C501.7,281.5 505.0,281.7 507.5,281.2C510.0,280.8 513.3,279.8 515.0,277.5C516.7,275.2 515.8,270.2 517.5,267.5C519.2,264.8 522.1,263.3 525.0,261.2C527.9,259.2 532.5,256.9 535.0,255.0C537.5,253.1 537.5,251.9 540.0,250.0C542.5,248.1 546.7,245.0 550.0,243.8C553.3,242.5 557.5,244.0 560.0,242.5C562.5,241.0 562.5,236.7 565.0,235.0C567.5,233.3 572.5,234.2 575.0,232.5C577.5,230.8 579.2,226.2 580.0,225.0"/>
<path d="M580.0,225.0C579.6,224.6 578.3,223.8 577.5,222.5C576.7,221.2 575.4,219.6 575.0,217.5C574.6,215.4 575.4,212.9 575.0,210.0C574.6,207.1 574.6,202.9 572.5,200.0C570.4,197.1 565.8,194.6 562.5,192.5C559.2,190.4 555.8,189.6 552.5,187.5C549.2,185.4 546.2,180.8 542.5,180.0C538.8,179.2 533.1,182.9 530.0,182.5C526.9,182.1 524.8,180.4 524.0,177.5C523.2,174.6 524.7,168.8 525.0,165.0C525.3,161.2 525.3,158.5 526.0,155.0C526.7,151.5 528.2,148.2 529.0,144.0C529.8,139.8 530.2,134.8 531.0,130.0C531.8,125.2 533.1,119.3 534.0,115.0C534.9,110.7 536.0,107.8 536.5,104.0C537.0,100.2 537.4,95.5 537.0,92.0C536.6,88.5 535.0,85.5 534.0,83.0C533.0,80.5 531.2,79.2 531.0,77.0C530.8,74.8 532.7,71.2 533.0,70.0"/>
<path d="M580.0,225.0C581.7,225.2 586.3,225.8 590.0,226.5C593.7,227.2 600.0,228.6 602.0,229.0"/>
<path d="M602.0,229.0C603.3,228.8 606.3,227.9 610.0,227.5C613.7,227.1 621.7,226.7 624.0,226.5"/>
<path d="M624.0,226.5C626.2,226.2 634.2,225.2 637.5,225.0C640.8,224.8 641.9,224.0 644.0,225.0C646.1,226.0 648.8,229.6 650.0,231.0C651.2,232.4 651.1,234.1 651.5,233.5C651.9,232.9 650.7,229.1 652.5,227.5C654.3,225.9 660.2,225.9 662.5,224.0C664.8,222.1 665.6,218.3 666.0,216.0C666.4,213.7 665.8,212.2 665.0,210.0C664.2,207.8 661.5,205.6 661.0,202.5C660.5,199.4 660.5,194.2 662.0,191.5C663.5,188.8 667.4,187.9 670.0,186.0C672.6,184.1 675.8,182.7 677.5,180.0C679.2,177.3 680.4,172.5 680.0,170.0C679.6,167.5 675.8,165.8 675.0,165.0"/>
<path d="M624.0,226.5C625.0,228.3 628.4,234.0 630.0,237.5C631.6,241.0 633.1,243.8 633.8,247.5C634.4,251.2 632.7,256.7 633.8,260.0C634.8,263.3 637.3,265.0 640.0,267.5C642.7,270.0 647.5,272.1 650.0,275.0C652.5,277.9 653.3,281.2 655.0,285.0C656.7,288.8 657.9,297.9 660.0,297.5C662.1,297.1 665.0,286.2 667.5,282.5C670.0,278.8 672.5,277.5 675.0,275.0C677.5,272.5 680.4,269.4 682.5,267.5C684.6,265.6 685.8,263.3 687.5,263.8C689.2,264.2 690.4,269.0 692.5,270.0C694.6,271.0 697.9,271.7 700.0,270.0C702.1,268.3 703.5,263.8 705.0,260.0C706.5,256.2 707.5,250.4 708.8,247.5C710.0,244.6 710.6,243.5 712.5,242.5C714.4,241.5 718.3,240.0 720.0,241.2C721.7,242.5 721.2,246.9 722.5,250.0C723.8,253.1 725.8,256.7 727.5,260.0C729.2,263.3 731.2,267.3 732.5,270.0C733.8,272.7 734.6,275.0 735.0,276.0"/>
<path d="M602.0,229.0C602.9,230.8 606.6,236.1 607.5,240.0C608.4,243.9 607.9,248.8 607.5,252.5C607.1,256.2 605.4,259.2 605.0,262.5C604.6,265.8 605.0,270.4 605.0,272.0"/>
<path d="M605.0,272.0C604.6,273.1 604.1,276.7 602.6,278.3C601.1,279.9 598.9,280.6 596.0,281.5C593.1,282.4 588.5,282.6 585.2,283.7C582.0,284.8 579.0,285.8 576.5,288.0C574.0,290.2 571.8,293.4 570.0,296.7C568.2,300.0 567.2,304.0 565.7,307.6C564.2,311.2 563.1,315.4 561.3,318.5C559.5,321.6 557.3,323.9 554.8,326.1C552.2,328.3 548.5,330.0 546.0,331.5C543.5,333.0 542.2,333.6 540.0,335.0C537.8,336.4 536.3,338.8 533.0,340.2C529.7,341.6 523.8,342.7 520.0,343.5C516.2,344.3 513.3,344.6 510.0,345.0C506.7,345.4 503.7,345.0 500.0,346.0C496.3,347.0 490.0,350.2 488.0,351.0"/>
<path d="M409.0,277.0C409.3,278.3 410.7,282.0 411.0,285.0C411.3,288.0 410.3,291.7 411.0,295.0C411.7,298.3 412.7,302.9 415.0,305.0C417.3,307.1 421.2,307.5 425.0,307.5C428.8,307.5 434.2,305.8 437.5,305.0C440.8,304.2 443.3,301.7 445.0,302.5C446.7,303.3 446.2,306.7 447.5,310.0C448.8,313.3 450.4,317.5 452.5,322.5C454.6,327.5 456.7,336.2 460.0,340.0C463.3,343.8 468.8,343.8 472.5,345.0C476.2,346.2 479.9,346.5 482.5,347.5C485.1,348.5 487.1,350.4 488.0,351.0"/>
<path d="M605.0,272.0C605.7,273.2 605.8,277.1 609.0,279.0C612.2,280.9 621.1,282.2 624.0,283.7C626.9,285.2 626.1,284.8 626.5,288.0C626.9,291.2 626.1,297.9 626.5,303.0C626.9,308.1 628.0,313.4 628.7,318.5C629.5,323.6 630.8,329.0 631.0,333.7C631.2,338.4 630.3,342.1 629.8,346.7C629.3,351.2 628.3,358.6 628.0,361.0"/>
<path d="M628.0,361.0C629.9,361.3 635.9,362.2 639.6,363.0C643.3,363.8 648.0,363.9 650.0,365.5C652.0,367.1 651.4,369.8 651.5,372.8C651.6,375.8 649.9,379.7 650.4,383.7C650.9,387.7 653.2,393.6 654.8,396.7C656.4,399.8 658.8,399.8 660.0,402.0C661.2,404.2 661.5,407.7 662.0,410.0C662.5,412.3 662.8,415.0 663.0,416.0"/>
<path d="M628.0,361.0C627.0,361.2 624.0,361.6 622.0,362.5C620.0,363.4 617.1,364.9 615.7,366.3C614.3,367.7 615.3,370.0 613.5,370.7C611.7,371.4 607.0,370.5 604.8,370.7C602.6,370.9 601.5,369.9 600.4,371.7C599.3,373.5 598.8,378.4 598.3,381.5C597.8,384.6 598.3,389.1 597.2,390.2C596.1,391.3 594.8,389.1 591.7,388.0C588.6,386.9 582.7,385.1 578.7,383.7C574.7,382.2 571.1,380.4 567.8,379.3C564.5,378.2 561.3,377.2 559.1,377.2C556.9,377.2 555.8,377.5 554.8,379.3C553.8,381.1 554.1,385.7 553.0,388.0C551.9,390.3 548.7,391.7 548.0,393.0C547.3,394.3 548.2,394.8 549.0,396.0C549.8,397.2 552.2,398.5 553.0,400.0C553.8,401.5 554.8,403.7 554.0,405.0C553.2,406.3 550.7,406.8 548.0,408.0C545.3,409.2 540.8,410.8 538.0,412.0C535.2,413.2 532.2,414.5 531.0,415.0"/>
<path d="M488.0,351.0C488.8,352.1 491.2,354.7 492.5,357.5C493.8,360.3 494.1,365.2 496.0,368.0C497.9,370.8 502.3,371.7 504.0,374.0C505.7,376.3 505.3,379.7 506.0,382.0C506.7,384.3 506.3,386.3 508.0,388.0C509.7,389.7 514.0,390.3 516.0,392.0C518.0,393.7 519.0,396.2 520.0,398.0C521.0,399.8 521.0,402.2 522.0,403.0C523.0,403.8 525.0,401.8 526.0,403.0C527.0,404.2 527.2,408.0 528.0,410.0C528.8,412.0 530.5,414.2 531.0,415.0"/>
<path d="M531.0,415.0C529.8,415.2 526.8,415.2 524.0,416.0C521.2,416.8 517.0,418.7 514.0,420.0C511.0,421.3 508.3,421.7 506.0,424.0C503.7,426.3 502.3,432.0 500.0,434.0C497.7,436.0 495.3,435.8 492.0,436.0C488.7,436.2 484.7,435.0 480.0,435.0C475.3,435.0 468.7,435.6 464.0,436.0C459.3,436.4 455.3,437.0 452.0,437.5C448.7,438.0 446.1,437.8 444.0,439.0C441.9,440.2 441.3,443.4 439.3,444.9C437.3,446.4 433.6,446.6 431.8,447.9C430.1,449.1 429.6,449.9 428.8,452.4C428.1,454.9 428.3,459.8 427.3,462.8C426.3,465.8 424.5,469.2 422.8,470.3C421.1,471.4 419.1,469.6 416.9,469.6C414.7,469.6 411.9,469.7 409.4,470.3C406.9,470.9 403.2,472.6 402.0,473.0"/>
<path d="M531.0,415.0C532.2,415.8 536.2,417.8 538.0,420.0C539.8,422.2 540.3,426.7 542.0,428.0C543.7,429.3 546.0,428.5 548.0,428.0C550.0,427.5 552.0,425.0 554.0,425.0C556.0,425.0 558.7,426.2 560.0,428.0C561.3,429.8 561.8,433.0 562.0,436.0C562.2,439.0 561.3,442.3 561.0,446.0C560.7,449.7 562.2,455.9 560.0,458.0C557.8,460.1 551.7,458.1 548.0,458.5C544.3,458.9 540.3,459.2 538.0,460.5C535.7,461.8 534.7,463.4 534.0,466.0C533.3,468.6 533.9,472.5 534.0,476.0C534.1,479.5 533.9,484.0 534.5,487.0C535.1,490.0 535.6,492.0 537.5,494.0C539.4,496.0 544.6,498.2 546.0,499.0"/>
<path d="M546.0,499.0C546.4,499.7 548.0,501.0 548.4,503.0C548.8,505.0 548.0,508.2 548.4,511.0C548.8,513.8 549.8,517.3 550.6,520.0C551.4,522.7 551.8,525.2 553.0,527.0C554.2,528.8 557.2,530.3 558.0,531.0"/>
<path d="M546.0,499.0C545.1,498.9 542.8,498.9 540.8,498.6C538.8,498.3 535.5,496.9 534.0,497.1C532.5,497.4 532.8,499.4 531.7,500.1C530.6,500.9 529.7,501.4 527.2,501.6C524.7,501.9 519.9,501.5 516.6,501.6C513.3,501.7 510.0,502.3 507.5,502.4C505.0,502.5 503.5,502.0 501.5,502.4C499.5,502.8 497.4,504.0 495.4,504.6C493.4,505.2 492.1,505.4 489.3,506.2C486.5,507.0 481.8,507.9 478.8,509.2C475.8,510.4 473.5,511.9 471.2,513.7C468.9,515.5 466.0,519.0 465.0,520.0"/>
<path d="M402.0,473.0C401.5,473.8 399.7,475.6 398.9,477.8C398.1,480.0 397.7,482.9 397.4,486.0C397.1,489.1 396.5,493.6 397.1,496.3C397.8,499.1 399.9,500.8 401.3,502.5C402.7,504.2 403.0,505.9 405.4,506.7C407.8,507.5 412.8,506.9 415.9,507.2C419.0,507.4 422.3,507.6 424.2,508.2C426.1,508.8 426.3,510.4 427.3,510.9C428.3,511.4 429.6,511.0 430.0,511.0"/>
<path d="M378.0,459.0C379.5,459.7 384.3,461.6 387.0,463.0C389.7,464.4 391.9,465.6 394.4,467.3C396.9,469.0 400.7,472.1 402.0,473.0"/>
<path d="M309.0,365.0C308.8,366.7 307.7,372.3 307.8,375.2C307.9,378.1 308.2,380.4 309.6,382.2C311.1,383.9 314.8,384.0 316.5,385.7C318.2,387.4 319.4,389.7 320.0,392.6C320.6,395.5 319.1,401.0 320.0,403.0C320.9,405.0 322.3,405.4 325.2,404.8C328.1,404.2 334.8,401.4 337.4,399.6C340.0,397.9 339.4,394.9 340.9,394.3C342.3,393.7 343.8,395.2 346.1,396.1C348.4,397.0 352.2,398.2 354.8,399.6C357.4,401.0 359.5,403.3 362.0,404.5C364.5,405.7 367.8,405.8 370.0,407.0C372.2,408.2 373.9,409.7 375.0,412.0C376.1,414.3 375.8,418.8 376.5,421.0C377.2,423.2 378.8,423.5 379.0,425.0C379.2,426.5 378.9,428.2 378.0,430.0C377.1,431.8 374.5,434.3 373.5,436.0C372.5,437.7 371.5,438.4 372.0,440.4C372.5,442.4 375.3,445.9 376.5,448.0C377.7,450.1 378.8,451.2 379.0,453.0C379.2,454.8 378.2,458.0 378.0,459.0"/>
<path d="M378.0,459.0C377.2,459.7 375.3,461.1 373.5,463.0C371.7,464.9 369.9,468.7 367.0,470.7C364.1,472.7 359.7,473.9 356.1,475.0C352.5,476.1 348.3,476.3 345.2,477.2C342.1,478.1 339.1,478.8 337.6,480.4C336.2,482.0 335.9,484.8 336.5,487.0C337.1,489.2 340.7,491.5 340.9,493.5C341.1,495.5 338.9,496.7 337.6,498.9C336.3,501.1 334.2,503.1 333.3,506.5C332.4,509.9 332.8,515.6 332.2,519.6C331.6,523.6 331.4,527.3 330.0,530.4C328.6,533.5 324.6,536.7 323.5,538.0"/>
</g>
<g fill="none" stroke="#000" stroke-width="3.9" stroke-linejoin="round" stroke-linecap="round">
<path d="M1030.0,408.0C1028.8,408.2 1025.7,409.6 1023.0,409.0C1020.3,408.4 1017.5,404.5 1014.0,404.5C1010.5,404.5 1006.0,408.6 1002.0,409.0C998.0,409.4 993.7,408.5 990.0,407.0C986.3,405.5 983.3,401.8 980.0,400.0C976.7,398.2 973.3,396.7 970.0,396.5C966.7,396.3 963.5,398.2 960.0,399.0C956.5,399.8 951.7,401.9 948.8,401.5C945.8,401.1 944.8,398.4 942.5,396.5C940.2,394.6 937.5,391.2 935.0,390.0C932.5,388.8 930.4,389.3 927.5,389.0C924.6,388.7 919.2,389.7 917.5,388.0C915.8,386.3 917.9,381.8 917.5,379.0C917.1,376.2 915.0,374.0 915.0,371.5C915.0,369.0 915.8,365.9 917.5,364.0C919.2,362.1 923.8,361.8 925.0,360.0C926.2,358.2 923.8,355.2 925.0,353.0C926.2,350.8 929.4,348.7 932.5,346.5C935.6,344.3 940.4,341.2 943.8,340.0C947.1,338.8 949.4,338.2 952.5,339.0C955.6,339.8 959.6,345.0 962.5,345.0C965.4,345.0 967.8,342.5 970.0,339.0C972.2,335.5 974.6,329.8 976.0,324.0C977.4,318.2 978.5,309.8 978.5,304.0C978.5,298.2 978.1,293.4 976.2,289.0C974.4,284.6 970.2,280.5 967.5,277.8C964.8,275.0 962.5,273.4 960.0,272.8C957.5,272.1 955.4,272.3 952.5,274.0C949.6,275.7 945.8,281.7 942.5,282.8C939.2,283.8 935.6,280.5 932.5,280.2C929.4,280.0 925.8,282.5 923.8,281.5C921.7,280.5 921.7,274.8 920.0,274.0C918.3,273.2 916.0,275.0 913.8,276.5C911.5,278.0 909.8,282.8 906.2,282.8C902.7,282.8 896.9,278.0 892.5,276.5C888.1,275.0 882.3,275.0 880.0,274.0C877.7,273.0 878.1,271.9 878.8,270.2C879.4,268.6 883.3,265.5 883.8,264.0C884.2,262.5 881.9,263.0 881.2,261.5C880.6,260.0 880.8,257.5 880.0,255.2C879.2,253.0 878.8,249.8 876.2,247.8C873.8,245.7 869.0,243.6 865.0,242.8C861.0,241.9 855.6,243.4 852.5,242.8C849.4,242.1 848.8,239.8 846.2,239.0C843.8,238.2 840.0,237.3 837.5,237.8C835.0,238.2 832.5,239.4 831.2,241.5C830.0,243.6 831.5,249.6 830.0,250.2C828.5,250.9 825.0,247.1 822.5,245.2C820.0,243.4 816.5,242.3 815.0,239.0C813.5,235.7 814.6,228.2 813.8,225.2C812.9,222.3 810.6,223.6 810.0,221.5C809.4,219.4 809.8,214.8 810.0,212.8C810.2,210.7 810.2,209.8 811.2,209.0C812.3,208.2 814.6,207.5 816.2,207.8C817.9,208.0 819.2,208.4 821.2,210.2C823.3,212.1 826.7,217.8 828.8,219.0C830.8,220.2 830.2,220.0 833.8,217.8C837.3,215.5 846.5,207.3 850.0,205.2C853.5,203.2 852.9,206.7 855.0,205.2C857.1,203.8 859.6,200.7 862.5,196.5C865.4,192.3 869.8,183.7 872.5,180.2C875.2,176.8 876.9,176.4 878.8,176.0C880.6,175.6 882.1,176.4 883.8,177.8C885.4,179.1 886.9,183.0 888.8,184.0C890.6,185.0 892.3,183.2 895.0,184.0C897.7,184.8 902.1,186.7 905.0,189.0C907.9,191.3 910.0,196.1 912.5,197.8C915.0,199.4 916.9,198.2 920.0,199.0C923.1,199.8 927.5,200.9 931.2,202.8C935.0,204.6 939.4,209.4 942.5,210.2C945.6,211.1 947.9,207.8 950.0,207.8C952.1,207.8 953.3,209.0 955.0,210.2C956.7,211.5 958.3,214.8 960.0,215.2C961.7,215.7 962.1,216.1 965.0,212.8C967.9,209.4 975.0,199.2 977.5,195.2C980.0,191.3 979.6,191.3 980.0,189.0C980.4,186.7 979.4,183.2 980.0,181.5C980.6,179.8 982.1,179.4 983.8,179.0C985.4,178.6 987.3,179.2 990.0,179.0C992.7,178.8 996.8,179.7 1000.0,178.0C1003.2,176.3 1006.3,171.0 1009.0,169.0C1011.7,167.0 1014.8,166.5 1016.0,166.0"/>
<path d="M1016.0,166.0C1017.9,164.2 1023.9,156.6 1027.5,155.2C1031.1,153.9 1034.6,158.4 1037.5,157.8C1040.4,157.1 1042.7,154.6 1045.0,151.5C1047.3,148.4 1050.0,144.0 1051.2,139.0C1052.5,134.0 1051.5,125.5 1052.5,121.5C1053.5,117.5 1055.0,117.0 1057.5,115.2C1060.0,113.5 1064.4,111.4 1067.5,111.0C1070.6,110.6 1074.0,111.6 1076.2,112.8C1078.5,113.9 1079.6,114.6 1081.2,117.8C1082.9,120.9 1084.4,129.0 1086.2,131.5C1088.1,134.0 1091.0,131.1 1092.5,132.8C1094.0,134.4 1094.0,138.4 1095.0,141.5C1096.0,144.6 1097.1,149.8 1098.8,151.5C1100.4,153.2 1102.3,153.2 1105.0,151.5C1107.7,149.8 1112.7,142.3 1115.0,141.5C1117.3,140.7 1117.5,144.8 1118.8,146.5C1120.0,148.2 1120.6,150.5 1122.5,151.5C1124.4,152.5 1128.5,151.3 1130.0,152.8C1131.5,154.2 1129.2,159.8 1131.2,160.2C1133.3,160.7 1137.3,157.3 1142.5,155.2C1147.7,153.2 1158.8,153.0 1162.5,147.8C1166.2,142.5 1163.3,128.2 1165.0,124.0C1166.7,119.8 1169.8,124.0 1172.5,122.8C1175.2,121.5 1178.7,116.9 1181.2,116.5C1183.8,116.1 1186.1,119.2 1188.0,120.4C1189.9,121.6 1190.7,123.0 1192.6,123.8C1194.5,124.5 1197.1,123.8 1199.4,124.9C1201.7,126.0 1204.3,129.1 1206.2,130.6C1208.1,132.1 1210.2,133.4 1211.0,134.0"/>
<path d="M1211.0,134.0C1211.1,131.0 1210.9,119.7 1211.8,115.9C1212.7,112.1 1215.5,113.3 1216.4,111.4C1217.3,109.5 1216.6,106.1 1217.5,104.6C1218.4,103.1 1220.1,102.1 1222.0,102.3C1223.9,102.5 1226.9,104.6 1228.8,105.7C1230.7,106.8 1231.0,108.5 1233.3,109.1C1235.6,109.7 1239.4,108.7 1242.4,109.1C1245.4,109.5 1249.2,111.0 1251.4,111.4C1253.7,111.8 1255.0,112.5 1255.9,111.4C1256.8,110.3 1257.3,106.7 1257.1,104.6C1256.9,102.5 1255.4,101.0 1254.8,98.9C1254.2,96.8 1255.0,93.2 1253.7,92.1C1252.4,91.0 1249.2,92.3 1246.9,92.1C1244.6,91.9 1241.4,91.8 1240.1,91.0C1238.8,90.2 1238.2,88.7 1239.0,87.6C1239.8,86.5 1242.5,85.1 1244.6,84.2C1246.7,83.3 1248.8,82.4 1251.4,82.0C1254.0,81.6 1257.5,81.4 1260.5,82.0C1263.5,82.6 1266.9,84.5 1269.5,85.4C1272.1,86.3 1274.8,88.5 1276.3,87.6C1277.8,86.6 1277.4,82.0 1278.5,79.7C1279.6,77.5 1281.8,76.0 1283.1,74.1C1284.4,72.2 1285.8,70.5 1286.5,68.4C1287.2,66.3 1286.5,63.7 1287.6,61.6C1288.7,59.5 1290.9,57.1 1293.2,56.0C1295.5,54.9 1298.4,55.2 1301.2,54.8C1304.0,54.4 1307.8,53.5 1310.2,53.7C1312.7,53.9 1315.0,54.7 1315.9,56.0C1316.8,57.3 1316.3,59.9 1315.9,61.6C1315.5,63.3 1313.4,65.0 1313.6,66.1C1313.8,67.2 1315.4,67.9 1317.0,68.4C1318.6,68.9 1322.0,68.9 1323.0,69.0"/>
<path d="M1323.0,69.0C1323.3,66.5 1323.8,57.3 1325.0,54.0C1326.2,50.7 1328.5,51.9 1330.0,49.0C1331.5,46.1 1332.1,39.2 1333.8,36.5C1335.4,33.8 1337.5,33.2 1340.0,32.8C1342.5,32.3 1346.7,32.8 1348.8,34.0C1350.8,35.2 1352.1,37.8 1352.5,40.2C1352.9,42.8 1350.6,47.1 1351.2,49.0C1351.9,50.9 1354.2,51.7 1356.2,51.5C1358.3,51.3 1361.7,47.3 1363.8,47.8C1365.8,48.2 1366.9,53.0 1368.8,54.0C1370.6,55.0 1373.1,56.1 1375.0,54.0C1376.9,51.9 1378.3,44.6 1380.0,41.5C1381.7,38.4 1382.5,37.3 1385.0,35.2C1387.5,33.2 1392.9,31.7 1395.0,29.0C1397.1,26.3 1396.2,21.1 1397.5,19.0C1398.8,16.9 1400.0,16.9 1402.5,16.5C1405.0,16.1 1409.6,16.1 1412.5,16.5C1415.4,16.9 1417.7,18.4 1420.0,19.0C1422.3,19.6 1424.4,20.7 1426.2,20.2C1428.1,19.8 1430.0,18.8 1431.2,16.5C1432.5,14.2 1432.7,8.4 1433.8,6.5C1434.8,4.6 1436.0,4.6 1437.5,5.2C1439.0,5.9 1440.4,9.0 1442.5,10.2C1444.6,11.5 1447.1,12.1 1450.0,12.8C1452.9,13.4 1456.9,13.2 1460.0,14.0C1463.1,14.8 1467.1,16.1 1468.8,17.8C1470.4,19.4 1470.4,21.7 1470.0,24.0C1469.6,26.3 1467.1,29.0 1466.2,31.5C1465.4,34.0 1465.6,36.1 1465.0,39.0C1464.4,41.9 1462.1,46.1 1462.5,49.0C1462.9,51.9 1465.6,54.6 1467.5,56.5C1469.4,58.4 1471.7,60.2 1473.8,60.2C1475.8,60.2 1477.7,57.1 1480.0,56.5C1482.3,55.9 1485.8,55.9 1487.5,56.5C1489.2,57.1 1490.4,59.0 1490.0,60.2C1489.6,61.5 1486.7,62.1 1485.0,64.0C1483.3,65.9 1481.2,69.0 1480.0,71.5C1478.8,74.0 1478.1,75.2 1477.5,79.0C1476.9,82.8 1476.7,89.0 1476.2,94.0C1475.8,99.0 1476.0,105.5 1475.0,109.0C1474.0,112.5 1472.1,113.2 1470.0,115.2C1467.9,117.3 1464.2,119.2 1462.5,121.5C1460.8,123.8 1461.2,126.6 1460.0,129.0C1458.8,131.4 1457.0,134.0 1455.0,136.0C1453.0,138.0 1449.5,139.2 1448.0,141.0C1446.5,142.8 1446.3,144.2 1446.0,147.0C1445.7,149.8 1445.2,155.6 1446.0,158.0C1446.8,160.4 1448.7,160.7 1451.0,161.5C1453.3,162.3 1457.7,162.6 1460.0,163.0C1462.3,163.4 1464.2,163.8 1465.0,164.0"/>
<path d="M1465.0,164.0C1464.8,162.3 1463.6,156.9 1464.0,154.0C1464.4,151.1 1465.7,148.8 1467.5,146.5C1469.3,144.2 1473.1,141.2 1475.0,140.0C1476.9,138.8 1477.3,138.5 1479.0,139.0C1480.7,139.5 1483.0,141.8 1485.0,143.0C1487.0,144.2 1489.3,143.8 1491.0,146.5C1492.7,149.2 1493.9,154.8 1495.0,159.0C1496.1,163.2 1496.7,167.5 1497.5,171.5C1498.3,175.5 1498.8,180.1 1500.0,183.0C1501.2,185.9 1502.9,188.2 1505.0,189.0C1507.1,189.8 1510.0,189.7 1512.5,188.0C1515.0,186.3 1517.5,181.2 1520.0,179.0C1522.5,176.8 1524.2,175.8 1527.5,175.0C1530.8,174.2 1536.2,174.0 1540.0,174.0C1543.8,174.0 1547.9,174.2 1550.0,175.0C1552.1,175.8 1552.9,177.1 1552.5,179.0C1552.1,180.9 1548.8,184.0 1547.5,186.5C1546.2,189.0 1544.6,191.5 1545.0,194.0C1545.4,196.5 1548.3,199.4 1550.0,201.5C1551.7,203.6 1553.3,204.4 1555.0,206.5C1556.7,208.6 1560.0,211.5 1560.0,214.0C1560.0,216.5 1557.1,219.4 1555.0,221.5C1552.9,223.6 1549.6,224.4 1547.5,226.5C1545.4,228.6 1542.9,231.5 1542.5,234.0C1542.1,236.5 1543.8,238.6 1545.0,241.5C1546.2,244.4 1548.8,248.2 1550.0,251.5C1551.2,254.8 1552.5,258.4 1552.5,261.5C1552.5,264.6 1552.5,267.8 1550.0,270.0C1547.5,272.2 1541.7,274.2 1537.5,275.0C1533.3,275.8 1527.1,275.0 1525.0,275.0"/>
<path d="M1525.0,275.0C1525.0,276.5 1524.6,281.7 1525.0,284.0C1525.4,286.3 1528.3,287.2 1527.5,289.0C1526.7,290.8 1522.5,292.9 1520.0,295.0C1517.5,297.1 1514.6,298.3 1512.5,301.5C1510.4,304.7 1509.0,309.8 1507.5,314.0C1506.0,318.2 1504.8,322.3 1503.8,326.5C1502.7,330.7 1501.5,335.9 1501.2,339.0C1501.0,342.1 1501.9,342.0 1502.0,345.0C1502.1,348.0 1501.3,353.3 1502.0,357.0C1502.7,360.7 1505.7,364.0 1506.0,367.0C1506.3,370.0 1504.7,372.3 1504.0,375.0C1503.3,377.7 1503.7,380.0 1502.0,383.0C1500.3,386.0 1496.7,390.3 1494.0,393.0C1491.3,395.7 1489.2,397.8 1486.0,399.0C1482.8,400.2 1476.3,399.0 1475.0,400.0C1473.7,401.0 1478.2,403.5 1478.0,405.0C1477.8,406.5 1476.7,407.7 1474.0,409.0C1471.3,410.3 1465.5,412.0 1462.0,413.0C1458.5,414.0 1454.5,414.7 1453.0,415.0"/>
<path d="M1453.0,415.0C1451.4,416.1 1445.2,419.3 1443.6,421.3C1442.0,423.3 1444.5,425.2 1443.6,426.8C1442.7,428.4 1438.9,428.7 1438.0,431.0C1437.1,433.3 1437.1,437.7 1438.0,440.7C1438.9,443.7 1443.1,446.8 1443.6,449.1C1444.1,451.4 1442.4,452.8 1440.8,454.6C1439.2,456.5 1435.7,458.1 1433.8,460.2C1431.9,462.3 1431.2,466.3 1429.6,467.2C1428.0,468.1 1426.9,465.8 1424.1,465.8C1421.3,465.8 1416.2,466.7 1413.0,467.2C1409.8,467.7 1406.0,467.0 1404.6,468.6C1403.2,470.2 1403.9,473.7 1404.6,476.9C1405.3,480.1 1408.8,484.8 1408.8,488.0C1408.8,491.2 1407.2,494.8 1404.6,496.4C1402.1,498.0 1396.8,497.3 1393.5,497.8C1390.2,498.3 1387.9,498.5 1385.1,499.2C1382.3,499.9 1379.6,501.3 1376.8,502.0C1374.0,502.7 1370.7,501.9 1368.4,503.3C1366.1,504.7 1364.0,507.8 1362.9,510.3C1361.8,512.9 1362.9,515.8 1361.5,518.6C1360.1,521.4 1356.8,525.1 1354.5,527.0C1352.2,528.9 1349.1,529.5 1348.0,530.0"/>
<path d="M1348.0,530.0C1348.5,530.8 1350.3,533.3 1351.0,535.0C1351.7,536.7 1352.2,538.4 1352.0,540.0C1351.8,541.6 1351.0,543.5 1350.0,544.5C1349.0,545.5 1347.7,546.0 1346.0,546.0C1344.3,546.0 1341.3,545.8 1340.0,544.5C1338.7,543.2 1338.9,540.5 1338.4,538.5C1337.9,536.5 1337.7,533.9 1336.9,532.4C1336.1,530.9 1334.8,530.7 1333.8,529.4C1332.8,528.1 1331.0,526.6 1330.8,524.8C1330.5,523.0 1332.5,519.9 1332.3,518.8C1332.0,517.7 1330.6,517.6 1329.3,518.0C1328.0,518.4 1325.8,519.7 1324.7,521.1C1323.6,522.5 1322.8,524.4 1322.5,526.3C1322.2,528.2 1322.6,530.4 1323.2,532.4C1323.8,534.4 1326.0,536.7 1326.3,538.5C1326.5,540.3 1326.0,541.8 1324.7,543.0C1323.4,544.2 1320.7,545.2 1318.7,546.0C1316.7,546.8 1314.6,547.0 1312.6,547.5C1310.6,548.0 1308.6,548.8 1306.6,549.0C1304.6,549.2 1303.0,548.7 1300.5,549.0C1298.0,549.3 1294.0,550.1 1291.5,550.6C1289.0,551.1 1287.4,552.1 1285.4,552.1C1283.4,552.1 1280.8,551.6 1279.3,550.6C1277.8,549.6 1277.8,547.5 1276.3,546.0C1274.8,544.5 1272.3,543.0 1270.3,541.5C1268.3,540.0 1266.2,538.5 1264.2,537.0C1262.2,535.5 1259.7,533.9 1258.2,532.4C1256.7,530.9 1256.1,529.2 1255.1,527.9C1254.1,526.6 1252.8,525.8 1252.1,524.8C1251.3,523.8 1250.6,522.9 1250.6,521.8C1250.6,520.7 1251.3,518.5 1252.0,518.0C1252.7,517.5 1254.5,518.8 1255.0,519.0"/>
<path d="M1255.0,519.0C1254.6,518.7 1253.5,517.2 1252.8,517.2C1252.1,517.2 1250.9,518.2 1250.7,519.2C1250.5,520.2 1252.0,522.4 1251.7,523.4C1251.3,524.4 1249.0,524.8 1248.6,525.5C1248.2,526.2 1248.7,526.7 1249.6,527.6C1250.5,528.5 1253.3,529.8 1253.8,530.7C1254.3,531.6 1253.5,532.3 1252.8,532.8C1252.1,533.3 1250.8,533.4 1249.6,533.8C1248.4,534.2 1246.8,535.2 1245.5,535.4C1244.2,535.6 1242.5,535.8 1241.8,534.9C1241.1,534.0 1241.7,531.3 1241.3,529.7C1240.9,528.1 1240.1,526.7 1239.2,525.5C1238.3,524.3 1237.0,523.4 1236.1,522.4C1235.2,521.4 1234.9,519.7 1234.0,519.2C1233.1,518.7 1231.9,519.4 1230.9,519.2C1229.9,519.0 1228.2,518.9 1227.8,518.2C1227.5,517.5 1228.8,516.3 1228.8,515.1C1228.8,513.9 1228.5,511.8 1227.8,510.9C1227.1,510.0 1225.3,510.7 1224.6,509.9C1223.9,509.1 1224.1,506.9 1223.6,506.2C1223.1,505.5 1222.1,505.1 1221.5,505.7C1220.9,506.3 1220.2,509.3 1220.0,510.0"/>
<path d="M1220.0,510.0C1219.9,510.8 1219.3,513.3 1219.4,515.0C1219.5,516.7 1220.7,518.2 1220.5,520.0C1220.3,521.8 1218.9,524.1 1218.4,525.5C1217.9,526.9 1216.8,528.1 1217.3,528.6C1217.8,529.1 1220.3,528.2 1221.5,528.6C1222.7,529.0 1224.4,529.7 1224.6,530.7C1224.8,531.8 1223.4,533.5 1222.5,534.9C1221.6,536.3 1220.6,538.0 1219.4,539.0C1218.2,540.0 1216.6,540.3 1215.2,541.0C1213.8,541.7 1212.2,542.8 1211.0,543.0C1209.8,543.2 1208.3,542.8 1208.0,542.0C1207.7,541.2 1208.5,539.2 1209.0,538.0C1209.5,536.8 1211.0,535.8 1211.0,535.0C1211.0,534.2 1209.8,533.0 1209.0,533.0C1208.2,533.0 1206.9,534.8 1206.0,535.0C1205.1,535.2 1204.7,534.5 1203.8,534.0C1202.9,533.5 1201.5,531.8 1200.6,532.0C1199.7,532.2 1199.1,533.7 1198.6,535.0C1198.1,536.3 1198.0,538.5 1197.5,540.0C1197.0,541.5 1196.3,542.8 1195.4,544.0C1194.5,545.2 1193.4,547.2 1192.3,547.4C1191.2,547.6 1189.7,546.2 1189.0,545.0C1188.3,543.8 1189.0,541.1 1188.0,540.3C1187.0,539.5 1184.2,539.4 1183.0,540.3C1181.8,541.2 1182.8,545.0 1181.0,545.7C1179.2,546.4 1174.9,545.2 1172.0,544.7C1169.1,544.2 1166.7,543.6 1163.5,542.5C1160.3,541.4 1156.2,539.2 1152.6,538.0C1149.0,536.8 1145.0,535.3 1141.7,535.0C1138.4,534.7 1136.3,535.3 1133.0,536.0C1129.7,536.7 1125.2,538.8 1122.0,539.0C1118.8,539.2 1114.9,537.3 1113.5,537.0"/>
<path d="M1113.5,537.0C1112.0,537.2 1107.3,538.5 1104.8,538.0C1102.3,537.5 1100.8,535.4 1098.3,534.0C1095.8,532.6 1092.9,531.0 1089.6,529.5C1086.3,528.0 1081.8,526.6 1078.7,525.0C1075.6,523.4 1072.7,522.0 1071.0,520.0C1069.3,518.0 1070.6,514.9 1068.8,513.0C1067.0,511.1 1063.8,509.8 1060.3,508.7C1056.8,507.6 1051.5,507.7 1047.6,506.6C1043.7,505.6 1039.3,505.2 1037.0,502.4C1034.7,499.6 1034.6,493.2 1033.8,489.6C1033.0,486.0 1032.8,484.2 1032.0,481.0C1031.2,477.8 1030.3,473.3 1029.0,470.5C1027.7,467.7 1025.8,466.6 1024.4,464.3C1023.0,462.0 1021.3,460.3 1020.7,456.8C1020.1,453.3 1020.1,446.1 1020.7,443.4C1021.3,440.7 1022.0,441.9 1024.4,440.4C1026.8,438.9 1032.2,437.1 1034.9,434.4C1037.7,431.6 1039.8,427.0 1040.9,423.9C1042.0,420.8 1041.8,417.9 1041.6,415.7C1041.3,413.5 1041.3,411.8 1039.4,410.5C1037.5,409.2 1031.6,408.4 1030.0,408.0"/>
<path d="M1016.0,166.0C1018.5,165.8 1027.9,164.5 1031.0,165.0C1034.1,165.5 1033.7,165.8 1034.5,169.0C1035.3,172.2 1035.1,179.8 1036.0,184.0C1036.9,188.2 1041.3,191.7 1040.0,194.0C1038.7,196.3 1030.2,196.7 1028.0,198.0C1025.8,199.3 1025.3,200.0 1027.0,202.0C1028.7,204.0 1037.5,207.5 1038.0,210.0C1038.5,212.5 1030.2,214.7 1030.0,217.0C1029.8,219.3 1035.5,221.7 1037.0,224.0C1038.5,226.3 1037.5,227.3 1039.0,231.0C1040.5,234.7 1044.8,239.7 1046.0,246.0C1047.2,252.3 1043.7,263.7 1046.0,269.0C1048.3,274.3 1056.4,276.5 1060.0,277.8C1063.6,279.0 1065.0,275.5 1067.5,276.5C1070.0,277.5 1072.5,283.4 1075.0,284.0C1077.5,284.6 1080.0,280.1 1082.5,280.2C1085.0,280.4 1087.8,283.3 1090.0,285.0C1092.2,286.7 1093.5,289.5 1096.0,290.4C1098.5,291.3 1102.5,289.8 1105.0,290.4C1107.5,291.0 1108.5,292.8 1111.0,294.2C1113.5,295.6 1116.5,297.0 1120.0,298.7C1123.5,300.4 1128.5,302.6 1132.0,304.6C1135.5,306.6 1139.2,308.6 1141.0,310.6C1142.8,312.6 1143.3,315.1 1143.0,316.6C1142.7,318.1 1141.0,319.0 1139.4,319.6C1137.8,320.2 1134.8,319.7 1133.4,320.3C1132.0,320.9 1131.4,320.9 1131.0,323.3C1130.6,325.8 1130.7,332.7 1131.0,335.0C1131.3,337.3 1132.7,336.7 1133.0,337.0"/>
<path d="M1133.0,337.0C1133.1,337.5 1132.3,339.1 1133.4,339.8C1134.5,340.5 1137.7,340.4 1139.4,341.3C1141.2,342.2 1143.2,344.1 1143.9,345.0C1144.7,345.9 1145.2,345.1 1143.9,346.4C1142.6,347.6 1138.3,350.3 1136.1,352.5C1133.9,354.7 1133.2,358.1 1130.9,359.4C1128.6,360.7 1124.8,359.3 1122.2,360.3C1119.6,361.3 1118.4,364.8 1115.2,365.5C1112.0,366.2 1105.7,364.9 1103.0,364.7C1100.3,364.4 1099.7,364.1 1099.0,364.0"/>
<path d="M1099.0,364.0C1098.5,362.2 1097.3,355.5 1096.1,353.3C1094.9,351.1 1093.4,350.8 1091.7,350.7C1090.0,350.6 1088.2,351.2 1085.7,352.5C1083.2,353.8 1080.5,357.5 1077.0,358.6C1073.5,359.8 1068.0,359.1 1064.8,359.4C1061.6,359.7 1060.7,359.0 1057.8,360.3C1054.9,361.6 1050.3,365.6 1047.4,367.3C1044.5,369.0 1042.1,369.2 1040.4,370.7C1038.7,372.1 1037.4,373.7 1037.0,376.0C1036.6,378.3 1038.2,381.8 1037.8,384.7C1037.3,387.6 1035.5,390.8 1034.3,393.3C1033.1,395.9 1031.1,397.6 1030.4,400.0C1029.7,402.4 1030.1,406.7 1030.0,408.0"/>
<path d="M1133.0,337.0C1134.1,336.2 1138.1,333.8 1139.4,332.3C1140.7,330.8 1138.4,329.1 1140.9,327.8C1143.4,326.6 1151.3,326.3 1154.3,324.8C1157.3,323.3 1157.8,321.6 1158.8,318.9C1159.8,316.2 1159.3,311.4 1160.3,308.4C1161.3,305.4 1162.8,302.5 1164.8,300.9C1166.8,299.3 1169.3,298.9 1172.3,298.7C1175.3,298.4 1180.2,299.8 1182.8,299.4C1185.4,299.0 1186.6,298.1 1188.0,296.4C1189.4,294.7 1190.4,291.6 1191.0,289.0C1191.6,286.4 1191.1,282.7 1191.7,280.7C1192.3,278.7 1193.5,277.8 1194.7,277.0C1195.9,276.2 1198.3,276.2 1199.0,276.0"/>
<path d="M1199.0,276.0C1200.0,275.7 1202.5,275.6 1205.0,274.0C1207.5,272.4 1212.1,269.4 1213.8,266.5C1215.4,263.6 1214.0,259.4 1215.0,256.5C1216.0,253.6 1217.9,251.9 1220.0,249.0C1222.1,246.1 1225.0,241.3 1227.5,239.0C1230.0,236.7 1232.1,234.6 1235.0,235.2C1237.9,235.9 1243.3,241.7 1245.0,243.0"/>
<path d="M1245.0,243.0C1245.8,241.9 1248.3,238.4 1250.0,236.5C1251.7,234.6 1253.8,233.4 1255.0,231.5C1256.2,229.6 1257.9,227.1 1257.5,225.2C1257.1,223.4 1254.8,221.3 1252.5,220.2C1250.2,219.2 1245.4,220.0 1243.8,219.0C1242.1,218.0 1241.9,216.1 1242.5,214.0C1243.1,211.9 1246.5,209.0 1247.5,206.5C1248.5,204.0 1247.9,201.7 1248.8,199.0C1249.6,196.3 1250.0,192.3 1252.5,190.2C1255.0,188.2 1261.7,188.0 1263.8,186.5C1265.8,185.0 1267.1,183.0 1265.0,181.5C1262.9,180.0 1253.8,179.2 1251.2,177.8C1248.8,176.3 1249.0,174.2 1250.0,172.8C1251.0,171.3 1256.2,170.8 1257.5,169.0C1258.8,167.2 1258.8,164.2 1258.0,162.0C1257.2,159.8 1256.3,156.7 1253.0,156.0C1249.7,155.3 1242.5,157.5 1238.0,158.0C1233.5,158.5 1228.6,160.2 1226.0,159.0C1223.4,157.8 1223.7,152.5 1222.5,151.0C1221.3,149.5 1220.0,150.8 1218.6,149.8C1217.2,148.9 1215.2,147.2 1214.1,145.3C1213.0,143.4 1212.3,140.4 1211.8,138.5C1211.3,136.6 1211.1,134.8 1211.0,134.0"/>
<path d="M1245.0,243.0C1245.8,244.4 1247.9,248.8 1250.0,251.5C1252.1,254.2 1253.8,256.9 1257.5,259.0C1261.2,261.1 1268.3,263.6 1272.5,264.0C1276.7,264.4 1280.0,260.2 1282.5,261.5C1285.0,262.8 1286.2,268.6 1287.5,271.5C1288.8,274.4 1288.3,277.5 1290.0,279.0C1291.7,280.5 1295.0,280.7 1297.5,280.2C1300.0,279.8 1303.3,278.8 1305.0,276.5C1306.7,274.2 1305.8,269.2 1307.5,266.5C1309.2,263.8 1312.1,262.3 1315.0,260.2C1317.9,258.2 1322.5,255.9 1325.0,254.0C1327.5,252.1 1327.5,250.9 1330.0,249.0C1332.5,247.1 1336.7,244.0 1340.0,242.8C1343.3,241.5 1347.5,243.0 1350.0,241.5C1352.5,240.0 1352.5,235.7 1355.0,234.0C1357.5,232.3 1362.5,233.2 1365.0,231.5C1367.5,229.8 1369.2,225.2 1370.0,224.0"/>
<path d="M1370.0,224.0C1369.6,223.6 1368.3,222.8 1367.5,221.5C1366.7,220.2 1365.4,218.6 1365.0,216.5C1364.6,214.4 1365.4,211.9 1365.0,209.0C1364.6,206.1 1364.6,201.9 1362.5,199.0C1360.4,196.1 1355.8,193.6 1352.5,191.5C1349.2,189.4 1345.8,188.6 1342.5,186.5C1339.2,184.4 1336.2,179.8 1332.5,179.0C1328.8,178.2 1323.1,181.9 1320.0,181.5C1316.9,181.1 1314.8,179.4 1314.0,176.5C1313.2,173.6 1314.7,167.8 1315.0,164.0C1315.3,160.2 1315.3,157.5 1316.0,154.0C1316.7,150.5 1318.2,147.2 1319.0,143.0C1319.8,138.8 1320.2,133.8 1321.0,129.0C1321.8,124.2 1323.1,118.3 1324.0,114.0C1324.9,109.7 1326.0,106.8 1326.5,103.0C1327.0,99.2 1327.4,94.5 1327.0,91.0C1326.6,87.5 1325.0,84.5 1324.0,82.0C1323.0,79.5 1321.2,78.2 1321.0,76.0C1320.8,73.8 1322.7,70.2 1323.0,69.0"/>
<path d="M1370.0,224.0C1371.7,224.2 1376.3,224.8 1380.0,225.5C1383.7,226.2 1390.0,227.6 1392.0,228.0"/>
<path d="M1392.0,228.0C1393.3,227.8 1396.3,226.9 1400.0,226.5C1403.7,226.1 1411.7,225.7 1414.0,225.5"/>
<path d="M1414.0,225.5C1416.2,225.2 1424.2,224.2 1427.5,224.0C1430.8,223.8 1431.9,223.0 1434.0,224.0C1436.1,225.0 1438.8,228.6 1440.0,230.0C1441.2,231.4 1441.1,233.1 1441.5,232.5C1441.9,231.9 1440.7,228.1 1442.5,226.5C1444.3,224.9 1450.2,224.9 1452.5,223.0C1454.8,221.1 1455.6,217.3 1456.0,215.0C1456.4,212.7 1455.8,211.2 1455.0,209.0C1454.2,206.8 1451.5,204.6 1451.0,201.5C1450.5,198.4 1450.5,193.2 1452.0,190.5C1453.5,187.8 1457.4,186.9 1460.0,185.0C1462.6,183.1 1465.8,181.7 1467.5,179.0C1469.2,176.3 1470.4,171.5 1470.0,169.0C1469.6,166.5 1465.8,164.8 1465.0,164.0"/>
<path d="M1414.0,225.5C1415.0,227.3 1418.4,233.0 1420.0,236.5C1421.6,240.0 1423.1,242.8 1423.8,246.5C1424.4,250.2 1422.7,255.7 1423.8,259.0C1424.8,262.3 1427.3,264.0 1430.0,266.5C1432.7,269.0 1437.5,271.1 1440.0,274.0C1442.5,276.9 1443.3,280.2 1445.0,284.0C1446.7,287.8 1447.9,296.9 1450.0,296.5C1452.1,296.1 1455.0,285.2 1457.5,281.5C1460.0,277.8 1462.5,276.5 1465.0,274.0C1467.5,271.5 1470.4,268.4 1472.5,266.5C1474.6,264.6 1475.8,262.3 1477.5,262.8C1479.2,263.2 1480.4,268.0 1482.5,269.0C1484.6,270.0 1487.9,270.7 1490.0,269.0C1492.1,267.3 1493.5,262.8 1495.0,259.0C1496.5,255.2 1497.5,249.4 1498.8,246.5C1500.0,243.6 1500.6,242.5 1502.5,241.5C1504.4,240.5 1508.3,239.0 1510.0,240.2C1511.7,241.5 1511.2,245.9 1512.5,249.0C1513.8,252.1 1515.8,255.7 1517.5,259.0C1519.2,262.3 1521.2,266.3 1522.5,269.0C1523.8,271.7 1524.6,274.0 1525.0,275.0"/>
<path d="M1392.0,228.0C1392.9,229.8 1396.6,235.1 1397.5,239.0C1398.4,242.9 1397.9,247.8 1397.5,251.5C1397.1,255.2 1395.4,258.2 1395.0,261.5C1394.6,264.8 1395.0,269.4 1395.0,271.0"/>
<path d="M1395.0,271.0C1394.6,272.1 1394.1,275.7 1392.6,277.3C1391.1,278.9 1388.9,279.6 1386.0,280.5C1383.1,281.4 1378.5,281.6 1375.2,282.7C1372.0,283.8 1369.0,284.8 1366.5,287.0C1364.0,289.2 1361.8,292.4 1360.0,295.7C1358.2,299.0 1357.2,303.0 1355.7,306.6C1354.2,310.2 1353.1,314.4 1351.3,317.5C1349.5,320.6 1347.3,322.9 1344.8,325.1C1342.2,327.3 1338.5,329.0 1336.0,330.5C1333.5,332.0 1332.2,332.6 1330.0,334.0C1327.8,335.4 1326.3,337.8 1323.0,339.2C1319.7,340.6 1313.8,341.7 1310.0,342.5C1306.2,343.3 1303.3,343.6 1300.0,344.0C1296.7,344.4 1293.7,344.0 1290.0,345.0C1286.3,346.0 1280.0,349.2 1278.0,350.0"/>
<path d="M1199.0,276.0C1199.3,277.3 1200.7,281.0 1201.0,284.0C1201.3,287.0 1200.3,290.7 1201.0,294.0C1201.7,297.3 1202.7,301.9 1205.0,304.0C1207.3,306.1 1211.2,306.5 1215.0,306.5C1218.8,306.5 1224.2,304.8 1227.5,304.0C1230.8,303.2 1233.3,300.7 1235.0,301.5C1236.7,302.3 1236.2,305.7 1237.5,309.0C1238.8,312.3 1240.4,316.5 1242.5,321.5C1244.6,326.5 1246.7,335.2 1250.0,339.0C1253.3,342.8 1258.8,342.8 1262.5,344.0C1266.2,345.2 1269.9,345.5 1272.5,346.5C1275.1,347.5 1277.1,349.4 1278.0,350.0"/>
<path d="M1395.0,271.0C1395.7,272.2 1395.8,276.1 1399.0,278.0C1402.2,279.9 1411.1,281.2 1414.0,282.7C1416.9,284.2 1416.1,283.8 1416.5,287.0C1416.9,290.2 1416.1,296.9 1416.5,302.0C1416.9,307.1 1418.0,312.4 1418.7,317.5C1419.5,322.6 1420.8,328.0 1421.0,332.7C1421.2,337.4 1420.3,341.1 1419.8,345.7C1419.3,350.2 1418.3,357.6 1418.0,360.0"/>
<path d="M1418.0,360.0C1419.9,360.3 1425.9,361.2 1429.6,362.0C1433.3,362.8 1438.0,362.9 1440.0,364.5C1442.0,366.1 1441.4,368.8 1441.5,371.8C1441.6,374.8 1439.8,378.7 1440.4,382.7C1440.9,386.7 1443.2,392.6 1444.8,395.7C1446.4,398.8 1448.8,398.8 1450.0,401.0C1451.2,403.2 1451.5,406.7 1452.0,409.0C1452.5,411.3 1452.8,414.0 1453.0,415.0"/>
<path d="M1418.0,360.0C1417.0,360.2 1414.0,360.6 1412.0,361.5C1410.0,362.4 1407.1,363.9 1405.7,365.3C1404.3,366.7 1405.3,369.0 1403.5,369.7C1401.7,370.4 1397.0,369.5 1394.8,369.7C1392.6,369.9 1391.5,368.9 1390.4,370.7C1389.3,372.5 1388.8,377.4 1388.3,380.5C1387.8,383.6 1388.3,388.1 1387.2,389.2C1386.1,390.3 1384.8,388.1 1381.7,387.0C1378.6,385.9 1372.7,384.1 1368.7,382.7C1364.7,381.2 1361.1,379.4 1357.8,378.3C1354.5,377.2 1351.3,376.2 1349.1,376.2C1346.9,376.2 1345.8,376.5 1344.8,378.3C1343.8,380.1 1344.1,384.7 1343.0,387.0C1341.9,389.3 1338.7,390.7 1338.0,392.0C1337.3,393.3 1338.2,393.8 1339.0,395.0C1339.8,396.2 1342.2,397.5 1343.0,399.0C1343.8,400.5 1344.8,402.7 1344.0,404.0C1343.2,405.3 1340.7,405.8 1338.0,407.0C1335.3,408.2 1330.8,409.8 1328.0,411.0C1325.2,412.2 1322.2,413.5 1321.0,414.0"/>
<path d="M1278.0,350.0C1278.8,351.1 1281.2,353.7 1282.5,356.5C1283.8,359.3 1284.1,364.2 1286.0,367.0C1287.9,369.8 1292.3,370.7 1294.0,373.0C1295.7,375.3 1295.3,378.7 1296.0,381.0C1296.7,383.3 1296.3,385.3 1298.0,387.0C1299.7,388.7 1304.0,389.3 1306.0,391.0C1308.0,392.7 1309.0,395.2 1310.0,397.0C1311.0,398.8 1311.0,401.2 1312.0,402.0C1313.0,402.8 1315.0,400.8 1316.0,402.0C1317.0,403.2 1317.2,407.0 1318.0,409.0C1318.8,411.0 1320.5,413.2 1321.0,414.0"/>
<path d="M1321.0,414.0C1319.8,414.2 1316.8,414.2 1314.0,415.0C1311.2,415.8 1307.0,417.7 1304.0,419.0C1301.0,420.3 1298.3,420.7 1296.0,423.0C1293.7,425.3 1292.3,431.0 1290.0,433.0C1287.7,435.0 1285.3,434.8 1282.0,435.0C1278.7,435.2 1274.7,434.0 1270.0,434.0C1265.3,434.0 1258.7,434.6 1254.0,435.0C1249.3,435.4 1245.3,436.0 1242.0,436.5C1238.7,437.0 1236.1,436.8 1234.0,438.0C1231.9,439.2 1231.3,442.4 1229.3,443.9C1227.3,445.4 1223.5,445.6 1221.8,446.9C1220.0,448.1 1219.5,448.9 1218.8,451.4C1218.0,453.9 1218.3,458.8 1217.3,461.8C1216.3,464.8 1214.5,468.2 1212.8,469.3C1211.1,470.4 1209.1,468.6 1206.9,468.6C1204.7,468.6 1201.9,468.7 1199.4,469.3C1196.9,469.9 1193.2,471.6 1192.0,472.0"/>
<path d="M1321.0,414.0C1322.2,414.8 1326.2,416.8 1328.0,419.0C1329.8,421.2 1330.3,425.7 1332.0,427.0C1333.7,428.3 1336.0,427.5 1338.0,427.0C1340.0,426.5 1342.0,424.0 1344.0,424.0C1346.0,424.0 1348.7,425.2 1350.0,427.0C1351.3,428.8 1351.8,432.0 1352.0,435.0C1352.2,438.0 1351.3,441.3 1351.0,445.0C1350.7,448.7 1352.2,454.9 1350.0,457.0C1347.8,459.1 1341.7,457.1 1338.0,457.5C1334.3,457.9 1330.3,458.2 1328.0,459.5C1325.7,460.8 1324.7,462.4 1324.0,465.0C1323.3,467.6 1323.9,471.5 1324.0,475.0C1324.1,478.5 1323.9,483.0 1324.5,486.0C1325.1,489.0 1325.6,491.0 1327.5,493.0C1329.4,495.0 1334.6,497.2 1336.0,498.0"/>
<path d="M1336.0,498.0C1336.4,498.7 1338.0,500.0 1338.4,502.0C1338.8,504.0 1338.0,507.2 1338.4,510.0C1338.8,512.8 1339.8,516.3 1340.6,519.0C1341.4,521.7 1341.8,524.2 1343.0,526.0C1344.2,527.8 1347.2,529.3 1348.0,530.0"/>
<path d="M1336.0,498.0C1335.1,497.9 1332.8,497.9 1330.8,497.6C1328.8,497.3 1325.5,495.9 1324.0,496.1C1322.5,496.4 1322.8,498.4 1321.7,499.1C1320.6,499.9 1319.7,500.4 1317.2,500.6C1314.7,500.9 1309.9,500.5 1306.6,500.6C1303.3,500.7 1300.0,501.3 1297.5,501.4C1295.0,501.5 1293.5,501.0 1291.5,501.4C1289.5,501.8 1287.4,503.0 1285.4,503.6C1283.4,504.2 1282.1,504.4 1279.3,505.2C1276.5,506.0 1271.8,506.9 1268.8,508.2C1265.8,509.4 1263.5,510.9 1261.2,512.7C1258.9,514.5 1256.0,518.0 1255.0,519.0"/>
<path d="M1192.0,472.0C1191.5,472.8 1189.7,474.6 1188.9,476.8C1188.1,479.0 1187.7,481.9 1187.4,485.0C1187.1,488.1 1186.5,492.6 1187.1,495.3C1187.8,498.1 1189.9,499.8 1191.3,501.5C1192.7,503.2 1193.0,504.9 1195.4,505.7C1197.8,506.5 1202.8,505.9 1205.9,506.2C1209.0,506.4 1212.3,506.6 1214.2,507.2C1216.1,507.8 1216.3,509.4 1217.3,509.9C1218.3,510.4 1219.5,510.0 1220.0,510.0"/>
<path d="M1168.0,458.0C1169.5,458.7 1174.3,460.6 1177.0,462.0C1179.7,463.4 1181.9,464.6 1184.4,466.3C1186.9,468.0 1190.7,471.1 1192.0,472.0"/>
<path d="M1099.0,364.0C1098.8,365.7 1097.7,371.3 1097.8,374.2C1097.9,377.1 1098.2,379.4 1099.6,381.2C1101.0,382.9 1104.8,383.0 1106.5,384.7C1108.2,386.4 1109.4,388.7 1110.0,391.6C1110.6,394.5 1109.1,400.0 1110.0,402.0C1110.9,404.0 1112.3,404.4 1115.2,403.8C1118.1,403.2 1124.8,400.4 1127.4,398.6C1130.0,396.9 1129.5,393.9 1130.9,393.3C1132.3,392.7 1133.8,394.2 1136.1,395.1C1138.4,396.0 1142.2,397.2 1144.8,398.6C1147.5,400.0 1149.5,402.3 1152.0,403.5C1154.5,404.7 1157.8,404.8 1160.0,406.0C1162.2,407.2 1163.9,408.7 1165.0,411.0C1166.1,413.3 1165.8,417.8 1166.5,420.0C1167.2,422.2 1168.8,422.5 1169.0,424.0C1169.2,425.5 1168.9,427.2 1168.0,429.0C1167.1,430.8 1164.5,433.3 1163.5,435.0C1162.5,436.7 1161.5,437.4 1162.0,439.4C1162.5,441.4 1165.3,444.9 1166.5,447.0C1167.7,449.1 1168.8,450.2 1169.0,452.0C1169.2,453.8 1168.2,457.0 1168.0,458.0"/>
<path d="M1168.0,458.0C1167.2,458.7 1165.3,460.1 1163.5,462.0C1161.7,463.9 1159.9,467.7 1157.0,469.7C1154.1,471.7 1149.7,472.9 1146.1,474.0C1142.5,475.1 1138.3,475.3 1135.2,476.2C1132.1,477.1 1129.0,477.8 1127.6,479.4C1126.2,481.0 1126.0,483.8 1126.5,486.0C1127.0,488.2 1130.7,490.5 1130.9,492.5C1131.1,494.5 1128.9,495.7 1127.6,497.9C1126.3,500.1 1124.2,502.1 1123.3,505.5C1122.4,508.9 1122.8,514.6 1122.2,518.6C1121.7,522.6 1121.5,526.3 1120.0,529.4C1118.5,532.5 1114.6,535.7 1113.5,537.0"/>
</g>
<text x="214.8" y="326.2" font-family='"Liberation Sans", Arial, sans-serif' font-size="16.5" fill="#1c1c1c" textLength="39.1" lengthAdjust="spacingAndGlyphs" stroke="#1c1c1c" stroke-width="0.2">Baise</text>
<text x="339.2" y="234.5" font-family='"Liberation Sans", Arial, sans-serif' font-size="16.5" fill="#1c1c1c" textLength="41.1" lengthAdjust="spacingAndGlyphs" stroke="#1c1c1c" stroke-width="0.2">Hechi</text>
<text x="479.9" y="221.1" font-family='"Liberation Sans", Arial, sans-serif' font-size="16.5" fill="#1c1c1c" textLength="56.9" lengthAdjust="spacingAndGlyphs" stroke="#1c1c1c" stroke-width="0.2">Liuzhou</text>
<text x="581.1" y="153.8" font-family='"Liberation Sans", Arial, sans-serif' font-size="16.5" fill="#1c1c1c" textLength="42.9" lengthAdjust="spacingAndGlyphs" stroke="#1c1c1c" stroke-width="0.2">Guilin</text>
<text x="686" y="238.7" font-family='"Liberation Sans", Arial, sans-serif' font-size="16.5" fill="#1c1c1c" textLength="55" lengthAdjust="spacingAndGlyphs" stroke="#1c1c1c" stroke-width="0.2">Hezhou</text>
<text x="462.2" y="317.7" font-family='"Liberation Sans", Arial, sans-serif' font-size="16.5" fill="#1c1c1c" textLength="43.4" lengthAdjust="spacingAndGlyphs" stroke="#1c1c1c" stroke-width="0.2">Laibin</text>
<text x="546.5" y="374.7" font-family='"Liberation Sans", Arial, sans-serif' font-size="16.5" fill="#1c1c1c" textLength="60.1" lengthAdjust="spacingAndGlyphs" stroke="#1c1c1c" stroke-width="0.2">Guigang</text>
<text x="640" y="346.5" font-family='"Liberation Sans", Arial, sans-serif' font-size="16.5" fill="#1c1c1c" textLength="61.1" lengthAdjust="spacingAndGlyphs" stroke="#1c1c1c" stroke-width="0.2">Wuzhou</text>
<text x="386.1" y="436.5" font-family='"Liberation Sans", Arial, sans-serif' font-size="16.5" fill="#1c1c1c" textLength="62" lengthAdjust="spacingAndGlyphs" stroke="#1c1c1c" stroke-width="0.2">Nanning</text>
<text x="252.6" y="478.7" font-family='"Liberation Sans", Arial, sans-serif' font-size="16.5" fill="#1c1c1c" textLength="73.2" lengthAdjust="spacingAndGlyphs" stroke="#1c1c1c" stroke-width="0.2">Chongzuo</text>
<text x="580" y="447.8" font-family='"Liberation Sans", Arial, sans-serif' font-size="16.5" fill="#1c1c1c" textLength="35.9" lengthAdjust="spacingAndGlyphs" stroke="#1c1c1c" stroke-width="0.2">Yulin</text>
<text x="452.2" y="498.4" font-family='"Liberation Sans", Arial, sans-serif' font-size="16.5" fill="#1c1c1c" textLength="62.5" lengthAdjust="spacingAndGlyphs" stroke="#1c1c1c" stroke-width="0.2">Qinzhou</text>
<text x="345.6" y="567.1" font-family='"Liberation Sans", Arial, sans-serif' font-size="14.3" fill="#1c1c1c" textLength="98.1" lengthAdjust="spacingAndGlyphs" stroke="#1c1c1c" stroke-width="0.2">Fangchenggang</text>
<text x="473.3" y="570.8" font-family='"Liberation Sans", Arial, sans-serif' font-size="16.5" fill="#1c1c1c" textLength="44.9" lengthAdjust="spacingAndGlyphs" stroke="#1c1c1c" stroke-width="0.2">Beihai</text>
<text x="1125.9" y="237.3" font-family='"Liberation Sans", Arial, sans-serif' font-size="21.2" fill="#161616" textLength="52.8" lengthAdjust="spacingAndGlyphs" stroke="#161616" stroke-width="0.15">Hechi</text>
<text x="1002" y="328.3" font-family='"Liberation Sans", Arial, sans-serif' font-size="21.2" fill="#161616" textLength="48.7" lengthAdjust="spacingAndGlyphs" stroke="#161616" stroke-width="0.15">Baise</text>
<text x="1266.5" y="241.1" font-family='"Liberation Sans", Arial, sans-serif' font-size="21.2" fill="#161616" textLength="72.4" lengthAdjust="spacingAndGlyphs" stroke="#161616" stroke-width="0.15">Liuzhou</text>
<text x="1368" y="178.7" font-family='"Liberation Sans", Arial, sans-serif' font-size="21.2" fill="#161616" textLength="53.7" lengthAdjust="spacingAndGlyphs" stroke="#161616" stroke-width="0.15">Guilin</text>
<text x="1441" y="246" font-family='"Liberation Sans", Arial, sans-serif' font-size="21.2" fill="#161616" textLength="67.7" lengthAdjust="spacingAndGlyphs" stroke="#161616" stroke-width="0.15">Hezhou</text>
<text x="1252.6" y="310.7" font-family='"Liberation Sans", Arial, sans-serif' font-size="21.2" fill="#161616" textLength="54.7" lengthAdjust="spacingAndGlyphs" stroke="#161616" stroke-width="0.15">Laibin</text>
<text x="1304" y="375.3" font-family='"Liberation Sans", Arial, sans-serif' font-size="21.2" fill="#161616" textLength="77.1" lengthAdjust="spacingAndGlyphs" stroke="#161616" stroke-width="0.15">Guigang</text>
<text x="1446.3" y="376.6" font-family='"Liberation Sans", Arial, sans-serif' font-size="21.2" fill="#161616" textLength="78.8" lengthAdjust="spacingAndGlyphs" stroke="#161616" stroke-width="0.15">Wuzhou</text>
<text x="1175.3" y="435.1" font-family='"Liberation Sans", Arial, sans-serif' font-size="21.2" fill="#161616" textLength="78.6" lengthAdjust="spacingAndGlyphs" stroke="#161616" stroke-width="0.15">Nanning</text>
<text x="1035.6" y="481" font-family='"Liberation Sans", Arial, sans-serif' font-size="21.2" fill="#161616" textLength="92.5" lengthAdjust="spacingAndGlyphs" stroke="#161616" stroke-width="0.15">Chongzuo</text>
<text x="1362.3" y="491.6" font-family='"Liberation Sans", Arial, sans-serif' font-size="21.2" fill="#161616" textLength="44.4" lengthAdjust="spacingAndGlyphs" stroke="#161616" stroke-width="0.15">Yulin</text>
<text x="1108.3" y="565" font-family='"Liberation Sans", Arial, sans-serif' font-size="16" fill="#161616" textLength="114.4" lengthAdjust="spacingAndGlyphs">Fangchenggang</text>
<text x="1300.3" y="570.6" font-family='"Liberation Sans", Arial, sans-serif' font-size="21.2" fill="#161616" textLength="56.4" lengthAdjust="spacingAndGlyphs" stroke="#161616" stroke-width="0.15">Beihai</text>
<text x="1201.3" y="498.4" font-family='"Liberation Sans", Arial, sans-serif' font-size="15.5" fill="#5e1c10" textLength="61.4" lengthAdjust="spacingAndGlyphs">Qinzhou</text>
<circle cx="341" cy="202.8" r="20.2" fill="#fff"/>
<path d="M341,202.8 L341.00,185.80 A17,17 0 1 1 326.70,193.60 Z" fill="#5b85c5"/>
<path d="M341,202.8 L326.70,193.60 A17,17 0 0 1 341.00,185.80 Z" fill="#c0504d"/>
<line x1="341" y1="202.8" x2="341.00" y2="185.30" stroke="#fff" stroke-width="2.4"/>
<line x1="341" y1="202.8" x2="326.28" y2="193.33" stroke="#fff" stroke-width="2.4"/>
<circle cx="205.5" cy="274" r="20.2" fill="#fff"/>
<path d="M205.5,274 L205.50,257.00 A17,17 0 1 1 189.37,268.65 Z" fill="#5b85c5"/>
<path d="M205.5,274 L189.37,268.65 A17,17 0 0 1 205.50,257.00 Z" fill="#c0504d"/>
<line x1="205.5" y1="274" x2="205.50" y2="256.50" stroke="#fff" stroke-width="2.4"/>
<line x1="205.5" y1="274" x2="188.89" y2="268.49" stroke="#fff" stroke-width="2.4"/>
<circle cx="501.8" cy="180" r="20.2" fill="#fff"/>
<path d="M501.8,180 L501.80,163.00 A17,17 0 1 1 491.47,166.50 Z" fill="#5b85c5"/>
<path d="M501.8,180 L491.47,166.50 A17,17 0 0 1 501.80,163.00 Z" fill="#c0504d"/>
<line x1="501.8" y1="180" x2="501.80" y2="162.50" stroke="#fff" stroke-width="2.4"/>
<line x1="501.8" y1="180" x2="491.16" y2="166.11" stroke="#fff" stroke-width="2.4"/>
<circle cx="615.7" cy="112.4" r="20.2" fill="#fff"/>
<path d="M615.7,112.4 L615.70,95.40 A17,17 0 1 1 600.96,103.93 Z" fill="#5b85c5"/>
<path d="M615.7,112.4 L600.96,103.93 A17,17 0 0 1 615.70,95.40 Z" fill="#c0504d"/>
<line x1="615.7" y1="112.4" x2="615.70" y2="94.90" stroke="#fff" stroke-width="2.4"/>
<line x1="615.7" y1="112.4" x2="600.53" y2="103.68" stroke="#fff" stroke-width="2.4"/>
<circle cx="687" cy="208.3" r="20.2" fill="#fff"/>
<path d="M687,208.3 L687.00,191.30 A17,17 0 1 1 671.76,200.77 Z" fill="#5b85c5"/>
<path d="M687,208.3 L671.76,200.77 A17,17 0 0 1 687.00,191.30 Z" fill="#c0504d"/>
<line x1="687" y1="208.3" x2="687.00" y2="190.80" stroke="#fff" stroke-width="2.4"/>
<line x1="687" y1="208.3" x2="671.31" y2="200.55" stroke="#fff" stroke-width="2.4"/>
<circle cx="529.6" cy="306.8" r="20.2" fill="#fff"/>
<path d="M529.6,306.8 L529.60,289.80 A17,17 0 1 1 518.20,294.19 Z" fill="#5b85c5"/>
<path d="M529.6,306.8 L518.20,294.19 A17,17 0 0 1 529.60,289.80 Z" fill="#c0504d"/>
<line x1="529.6" y1="306.8" x2="529.60" y2="289.30" stroke="#fff" stroke-width="2.4"/>
<line x1="529.6" y1="306.8" x2="517.86" y2="293.82" stroke="#fff" stroke-width="2.4"/>
<circle cx="592.3" cy="344" r="20.2" fill="#fff"/>
<path d="M592.3,344 L592.30,327.00 A17,17 0 1 1 578.61,333.92 Z" fill="#5b85c5"/>
<path d="M592.3,344 L578.61,333.92 A17,17 0 0 1 592.30,327.00 Z" fill="#c0504d"/>
<line x1="592.3" y1="344" x2="592.30" y2="326.50" stroke="#fff" stroke-width="2.4"/>
<line x1="592.3" y1="344" x2="578.21" y2="333.63" stroke="#fff" stroke-width="2.4"/>
<circle cx="680.3" cy="315.3" r="20.2" fill="#fff"/>
<path d="M680.3,315.3 L680.30,298.30 A17,17 0 1 1 664.87,308.16 Z" fill="#5b85c5"/>
<path d="M680.3,315.3 L664.87,308.16 A17,17 0 0 1 680.30,298.30 Z" fill="#c0504d"/>
<line x1="680.3" y1="315.3" x2="680.30" y2="297.80" stroke="#fff" stroke-width="2.4"/>
<line x1="680.3" y1="315.3" x2="664.42" y2="307.95" stroke="#fff" stroke-width="2.4"/>
<circle cx="421.9" cy="380" r="20.2" fill="#fff"/>
<path d="M421.9,380 L421.90,363.00 A17,17 0 1 1 406.38,373.05 Z" fill="#5b85c5"/>
<path d="M421.9,380 L406.38,373.05 A17,17 0 0 1 421.90,363.00 Z" fill="#c0504d"/>
<line x1="421.9" y1="380" x2="421.90" y2="362.50" stroke="#fff" stroke-width="2.4"/>
<line x1="421.9" y1="380" x2="405.93" y2="372.85" stroke="#fff" stroke-width="2.4"/>
<circle cx="288.9" cy="432.8" r="20.2" fill="#fff"/>
<path d="M288.9,432.8 L288.90,415.80 A17,17 0 1 1 273.30,426.05 Z" fill="#5b85c5"/>
<path d="M288.9,432.8 L273.30,426.05 A17,17 0 0 1 288.90,415.80 Z" fill="#c0504d"/>
<line x1="288.9" y1="432.8" x2="288.90" y2="415.30" stroke="#fff" stroke-width="2.4"/>
<line x1="288.9" y1="432.8" x2="272.84" y2="425.85" stroke="#fff" stroke-width="2.4"/>
<circle cx="621.5" cy="412.5" r="20.2" fill="#fff"/>
<path d="M621.5,412.5 L621.50,395.50 A17,17 0 1 1 606.07,405.36 Z" fill="#5b85c5"/>
<path d="M621.5,412.5 L606.07,405.36 A17,17 0 0 1 621.50,395.50 Z" fill="#c0504d"/>
<line x1="621.5" y1="412.5" x2="621.50" y2="395.00" stroke="#fff" stroke-width="2.4"/>
<line x1="621.5" y1="412.5" x2="605.62" y2="405.15" stroke="#fff" stroke-width="2.4"/>
<circle cx="463.5" cy="459.4" r="20.2" fill="#fff"/>
<path d="M463.5,459.4 L463.50,442.40 A17,17 0 1 1 448.07,452.26 Z" fill="#5b85c5"/>
<path d="M463.5,459.4 L448.07,452.26 A17,17 0 0 1 463.50,442.40 Z" fill="#c0504d"/>
<line x1="463.5" y1="459.4" x2="463.50" y2="441.90" stroke="#fff" stroke-width="2.4"/>
<line x1="463.5" y1="459.4" x2="447.62" y2="452.05" stroke="#fff" stroke-width="2.4"/>
<circle cx="371.8" cy="500.5" r="20.2" fill="#fff"/>
<circle cx="371.8" cy="500.5" r="17" fill="#5b85c5"/>
<line x1="371.8" y1="500.5" x2="371.80" y2="483.00" stroke="#fff" stroke-width="2.4"/>
<line x1="371.8" y1="500.5" x2="370.58" y2="483.04" stroke="#fff" stroke-width="2.6"/>
<circle cx="495" cy="530" r="20.2" fill="#fff"/>
<path d="M495,530 L495.00,513.00 A17,17 0 1 1 479.53,522.96 Z" fill="#5b85c5"/>
<path d="M495,530 L479.53,522.96 A17,17 0 0 1 495.00,513.00 Z" fill="#c0504d"/>
<line x1="495" y1="530" x2="495.00" y2="512.50" stroke="#fff" stroke-width="2.4"/>
<line x1="495" y1="530" x2="479.07" y2="522.75" stroke="#fff" stroke-width="2.4"/>
<circle cx="1149.3" cy="198.5" r="25.8" fill="#fff"/>
<path d="M1149.3,198.5 L1149.30,175.90 A22.6,22.6 0 0 1 1149.30,221.10 Z" fill="#f99a43"/>
<path d="M1149.3,198.5 L1149.30,221.10 A22.6,22.6 0 0 1 1126.70,198.50 Z" fill="#62afc8"/>
<path d="M1149.3,198.5 L1126.70,198.50 A22.6,22.6 0 0 1 1149.30,175.90 Z" fill="#8e62b3"/>
<line x1="1149.3" y1="198.5" x2="1149.30" y2="175.40" stroke="#fff" stroke-width="2.6"/>
<line x1="1149.3" y1="198.5" x2="1149.30" y2="221.60" stroke="#fff" stroke-width="2.6"/>
<line x1="1149.3" y1="198.5" x2="1126.20" y2="198.50" stroke="#fff" stroke-width="2.6"/>
<circle cx="1016" cy="284" r="25.9" fill="#fff"/>
<path d="M1016,284 L1016.00,261.30 A22.7,22.7 0 0 1 1038.70,284.00 Z" fill="#f99a43"/>
<path d="M1016,284 L1038.70,284.00 A22.7,22.7 0 0 1 1016.00,306.70 Z" fill="#62afc8"/>
<path d="M1016,284 L1016.00,306.70 A22.7,22.7 0 0 1 1016.00,261.30 Z" fill="#8e62b3"/>
<line x1="1016" y1="284" x2="1016.00" y2="260.80" stroke="#fff" stroke-width="2.6"/>
<line x1="1016" y1="284" x2="1039.20" y2="284.00" stroke="#fff" stroke-width="2.6"/>
<line x1="1016" y1="284" x2="1016.00" y2="307.20" stroke="#fff" stroke-width="2.6"/>
<circle cx="1296.7" cy="171.4" r="42.6" fill="#fff"/>
<path d="M1296.7,171.4 L1296.70,132.60 A38.8,38.8 0 1 1 1259.80,159.41 Z" fill="#f99a43"/>
<path d="M1296.7,171.4 L1259.80,159.41 A38.8,38.8 0 0 1 1270.24,143.02 Z" fill="#62afc8"/>
<path d="M1296.7,171.4 L1270.24,143.02 A38.8,38.8 0 0 1 1278.48,137.14 Z" fill="#8e62b3"/>
<path d="M1296.7,171.4 L1278.48,137.14 A38.8,38.8 0 0 1 1296.70,132.60 Z" fill="#b24f17"/>
<line x1="1296.7" y1="171.4" x2="1296.70" y2="132.10" stroke="#fff" stroke-width="3.0"/>
<line x1="1296.7" y1="171.4" x2="1259.32" y2="159.26" stroke="#fff" stroke-width="3.0"/>
<line x1="1296.7" y1="171.4" x2="1269.90" y2="142.66" stroke="#fff" stroke-width="3.0"/>
<line x1="1296.7" y1="171.4" x2="1278.25" y2="136.70" stroke="#fff" stroke-width="3.0"/>
<circle cx="1398.1" cy="118.1" r="42.6" fill="#fff"/>
<path d="M1398.1,118.1 L1398.10,79.30 A38.8,38.8 0 1 1 1361.64,131.37 Z" fill="#f99a43"/>
<path d="M1398.1,118.1 L1361.64,131.37 A38.8,38.8 0 0 1 1373.16,88.38 Z" fill="#62afc8"/>
<path d="M1398.1,118.1 L1373.16,88.38 A38.8,38.8 0 0 1 1390.03,80.15 Z" fill="#8e62b3"/>
<path d="M1398.1,118.1 L1390.03,80.15 A38.8,38.8 0 0 1 1398.10,79.30 Z" fill="#b24f17"/>
<line x1="1398.1" y1="118.1" x2="1398.10" y2="78.80" stroke="#fff" stroke-width="3.0"/>
<line x1="1398.1" y1="118.1" x2="1361.17" y2="131.54" stroke="#fff" stroke-width="3.0"/>
<line x1="1398.1" y1="118.1" x2="1372.84" y2="87.99" stroke="#fff" stroke-width="3.0"/>
<line x1="1398.1" y1="118.1" x2="1389.93" y2="79.66" stroke="#fff" stroke-width="3.0"/>
<circle cx="1493.4" cy="204.6" r="31.3" fill="#fff"/>
<path d="M1493.4,204.6 L1493.40,176.50 A28.1,28.1 0 1 1 1481.52,179.13 Z" fill="#f99a43"/>
<path d="M1493.4,204.6 L1481.52,179.13 A28.1,28.1 0 0 1 1493.40,176.50 Z" fill="#62afc8"/>
<line x1="1493.4" y1="204.6" x2="1493.40" y2="176.00" stroke="#fff" stroke-width="2.6"/>
<line x1="1493.4" y1="204.6" x2="1481.31" y2="178.68" stroke="#fff" stroke-width="2.6"/>
<circle cx="1331" cy="290.5" r="25" fill="#fff"/>
<path d="M1331,290.5 L1331.00,268.70 A21.8,21.8 0 1 1 1315.59,275.09 Z" fill="#f99a43"/>
<path d="M1331,290.5 L1315.59,275.09 A21.8,21.8 0 0 1 1331.00,268.70 Z" fill="#8e62b3"/>
<line x1="1331" y1="290.5" x2="1331.00" y2="268.20" stroke="#fff" stroke-width="2.6"/>
<line x1="1331" y1="290.5" x2="1315.23" y2="274.73" stroke="#fff" stroke-width="2.6"/>
<circle cx="1375.4" cy="337" r="31.1" fill="#fff"/>
<path d="M1375.4,337 L1375.40,309.10 A27.9,27.9 0 0 1 1400.03,350.10 Z" fill="#f99a43"/>
<path d="M1375.4,337 L1400.03,350.10 A27.9,27.9 0 1 1 1354.67,318.33 Z" fill="#62afc8"/>
<path d="M1375.4,337 L1354.67,318.33 A27.9,27.9 0 0 1 1375.40,309.10 Z" fill="#8e62b3"/>
<line x1="1375.4" y1="337" x2="1375.40" y2="308.60" stroke="#fff" stroke-width="2.6"/>
<line x1="1375.4" y1="337" x2="1400.48" y2="350.33" stroke="#fff" stroke-width="2.6"/>
<line x1="1375.4" y1="337" x2="1354.29" y2="318.00" stroke="#fff" stroke-width="2.6"/>
<circle cx="1468.5" cy="324.5" r="31.5" fill="#fff"/>
<path d="M1468.5,324.5 L1468.50,296.20 A28.3,28.3 0 1 1 1444.77,339.91 Z" fill="#f99a43"/>
<path d="M1468.5,324.5 L1444.77,339.91 A28.3,28.3 0 0 1 1468.50,296.20 Z" fill="#62afc8"/>
<line x1="1468.5" y1="324.5" x2="1468.50" y2="295.70" stroke="#fff" stroke-width="2.6"/>
<line x1="1468.5" y1="324.5" x2="1444.35" y2="340.19" stroke="#fff" stroke-width="2.6"/>
<circle cx="1207.9" cy="367.9" r="53.8" fill="#fff"/>
<path d="M1207.9,367.9 L1207.90,317.90 A50,50 0 1 1 1201.37,417.47 Z" fill="#f99a43"/>
<path d="M1207.9,367.9 L1201.37,417.47 A50,50 0 0 1 1159.49,380.42 Z" fill="#62afc8"/>
<path d="M1207.9,367.9 L1159.49,380.42 A50,50 0 0 1 1195.80,319.39 Z" fill="#8e62b3"/>
<path d="M1207.9,367.9 L1195.80,319.39 A50,50 0 0 1 1207.90,317.90 Z" fill="#b24f17"/>
<line x1="1207.9" y1="367.9" x2="1207.90" y2="317.40" stroke="#fff" stroke-width="3.0"/>
<line x1="1207.9" y1="367.9" x2="1201.31" y2="417.97" stroke="#fff" stroke-width="3.0"/>
<line x1="1207.9" y1="367.9" x2="1159.01" y2="380.54" stroke="#fff" stroke-width="3.0"/>
<line x1="1207.9" y1="367.9" x2="1195.68" y2="318.90" stroke="#fff" stroke-width="3.0"/>
<circle cx="1394.8" cy="426.8" r="41.8" fill="#fff"/>
<path d="M1394.8,426.8 L1394.80,388.80 A38,38 0 0 1 1394.80,464.80 Z" fill="#f99a43"/>
<path d="M1394.8,426.8 L1394.80,464.80 A38,38 0 0 1 1366.12,451.73 Z" fill="#62afc8"/>
<path d="M1394.8,426.8 L1366.12,451.73 A38,38 0 0 1 1366.12,401.87 Z" fill="#8e62b3"/>
<path d="M1394.8,426.8 L1366.12,401.87 A38,38 0 0 1 1384.33,390.27 Z" fill="#b24f17"/>
<path d="M1394.8,426.8 L1384.33,390.27 A38,38 0 0 1 1394.80,388.80 Z" fill="#31637a"/>
<line x1="1394.8" y1="426.8" x2="1394.80" y2="388.30" stroke="#fff" stroke-width="3.0"/>
<line x1="1394.8" y1="426.8" x2="1394.80" y2="465.30" stroke="#fff" stroke-width="3.0"/>
<line x1="1394.8" y1="426.8" x2="1365.74" y2="452.06" stroke="#fff" stroke-width="3.0"/>
<line x1="1394.8" y1="426.8" x2="1365.74" y2="401.54" stroke="#fff" stroke-width="3.0"/>
<line x1="1394.8" y1="426.8" x2="1384.19" y2="389.79" stroke="#fff" stroke-width="3.0"/>
<circle cx="1292.6" cy="461.7" r="42.7" fill="#fff"/>
<path d="M1292.6,461.7 L1292.60,422.80 A38.9,38.9 0 1 1 1258.91,481.15 Z" fill="#f99a43"/>
<path d="M1292.6,461.7 L1258.91,481.15 A38.9,38.9 0 0 1 1254.70,470.45 Z" fill="#62afc8"/>
<path d="M1292.6,461.7 L1254.70,470.45 A38.9,38.9 0 0 1 1292.60,422.80 Z" fill="#8e62b3"/>
<line x1="1292.6" y1="461.7" x2="1292.60" y2="422.30" stroke="#fff" stroke-width="3.0"/>
<line x1="1292.6" y1="461.7" x2="1258.48" y2="481.40" stroke="#fff" stroke-width="3.0"/>
<line x1="1292.6" y1="461.7" x2="1254.21" y2="470.56" stroke="#fff" stroke-width="3.0"/>
<circle cx="1094.7" cy="443.5" r="26" fill="#fff"/>
<path d="M1094.7,443.5 L1094.70,420.70 A22.8,22.8 0 0 1 1094.70,466.30 Z" fill="#f99a43"/>
<path d="M1094.7,443.5 L1094.70,466.30 A22.8,22.8 0 0 1 1074.95,432.10 Z" fill="#62afc8"/>
<path d="M1094.7,443.5 L1074.95,432.10 A22.8,22.8 0 0 1 1094.70,420.70 Z" fill="#8e62b3"/>
<line x1="1094.7" y1="443.5" x2="1094.70" y2="420.20" stroke="#fff" stroke-width="2.6"/>
<line x1="1094.7" y1="443.5" x2="1094.70" y2="466.80" stroke="#fff" stroke-width="2.6"/>
<line x1="1094.7" y1="443.5" x2="1074.52" y2="431.85" stroke="#fff" stroke-width="2.6"/>
<circle cx="1157" cy="508.5" r="16.2" fill="#fff"/>
<circle cx="1157" cy="508.5" r="13" fill="#f99a43"/>
<line x1="1157" y1="508.5" x2="1157.00" y2="495.00" stroke="#fff" stroke-width="2.6"/>
<circle cx="1303" cy="527.5" r="25" fill="#fff"/>
<path d="M1303,527.5 L1303.00,505.70 A21.8,21.8 0 0 1 1313.23,546.75 Z" fill="#f99a43"/>
<path d="M1303,527.5 L1313.23,546.75 A21.8,21.8 0 0 1 1286.06,513.78 Z" fill="#62afc8"/>
<path d="M1303,527.5 L1286.06,513.78 A21.8,21.8 0 0 1 1303.00,505.70 Z" fill="#8e62b3"/>
<line x1="1303" y1="527.5" x2="1303.00" y2="505.20" stroke="#fff" stroke-width="2.6"/>
<line x1="1303" y1="527.5" x2="1313.47" y2="547.19" stroke="#fff" stroke-width="2.6"/>
<line x1="1303" y1="527.5" x2="1285.67" y2="513.47" stroke="#fff" stroke-width="2.6"/>
<line x1="1157" y1="508.5" x2="1157" y2="494" stroke="#fff" stroke-width="2.4"/>
</svg>
</body></html>
